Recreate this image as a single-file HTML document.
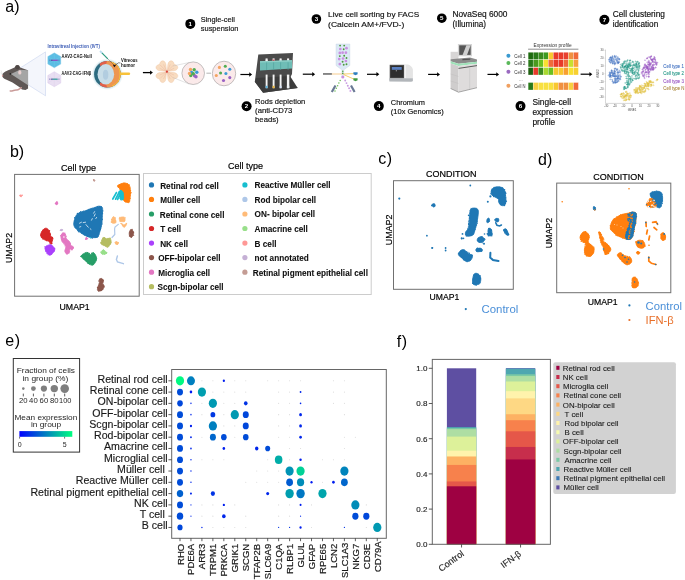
<!DOCTYPE html>
<html><head><meta charset="utf-8"><title>Figure</title>
<style>
html,body{margin:0;padding:0;background:#fff;width:685px;height:580px;overflow:hidden;}
svg{display:block;font-family:"Liberation Sans",sans-serif;will-change:transform;}
</style></head>
<body>
<svg width="685" height="580" viewBox="0 0 685 580">
<rect x="0" y="0" width="685" height="580" fill="#fff"/>
<text x="5.3" y="11.6" font-size="16" fill="#000" text-anchor="start" font-weight="normal" >a)</text>
<circle cx="190.3" cy="23.9" r="5.0" fill="#000"/>
<text x="190.3" y="26.10" font-size="6.2" font-weight="bold" fill="#fff" text-anchor="middle">1</text>
<text x="200.8" y="21.6" font-size="7.6" fill="#111" text-anchor="start" font-weight="normal" textLength="34.1" lengthAdjust="spacingAndGlyphs" stroke="#111" stroke-width="0.16" >Single-cell</text>
<text x="200.8" y="30.9" font-size="7.6" fill="#111" text-anchor="start" font-weight="normal" textLength="37.6" lengthAdjust="spacingAndGlyphs" stroke="#111" stroke-width="0.16" >suspension</text>
<circle cx="246.6" cy="106.2" r="5.0" fill="#000"/>
<text x="246.6" y="108.40" font-size="6.2" font-weight="bold" fill="#fff" text-anchor="middle">2</text>
<text x="255.1" y="103.8" font-size="7.7" fill="#111" text-anchor="start" font-weight="normal" textLength="50.2" lengthAdjust="spacingAndGlyphs" stroke="#111" stroke-width="0.16" >Rods depletion</text>
<text x="255.1" y="113.2" font-size="7.7" fill="#111" text-anchor="start" font-weight="normal" stroke="#111" stroke-width="0.16" >(anti-CD73</text>
<text x="255.1" y="122.4" font-size="7.7" fill="#111" text-anchor="start" font-weight="normal" stroke="#111" stroke-width="0.16" >beads)</text>
<circle cx="316.4" cy="19.0" r="4.8" fill="#000"/>
<text x="316.4" y="21.20" font-size="6.2" font-weight="bold" fill="#fff" text-anchor="middle">3</text>
<text x="328.1" y="16.8" font-size="8.1" fill="#111" text-anchor="start" font-weight="normal" textLength="91.1" lengthAdjust="spacingAndGlyphs" stroke="#111" stroke-width="0.16" >Live cell sorting by FACS</text>
<text x="328.1" y="27.0" font-size="8.1" fill="#111" text-anchor="start" font-weight="normal" textLength="76.2" lengthAdjust="spacingAndGlyphs" stroke="#111" stroke-width="0.16" >(Calcein AM+/FVD-)</text>
<circle cx="378.8" cy="106.1" r="5.0" fill="#000"/>
<text x="378.8" y="108.30" font-size="6.2" font-weight="bold" fill="#fff" text-anchor="middle">4</text>
<text x="390.8" y="105.0" font-size="7.9" fill="#111" text-anchor="start" font-weight="normal" textLength="34.1" lengthAdjust="spacingAndGlyphs" stroke="#111" stroke-width="0.16" >Chromium</text>
<text x="390.8" y="113.9" font-size="7.9" fill="#111" text-anchor="start" font-weight="normal" textLength="53.0" lengthAdjust="spacingAndGlyphs" stroke="#111" stroke-width="0.16" >(10x Genomics)</text>
<circle cx="441.8" cy="18.2" r="4.8" fill="#000"/>
<text x="441.8" y="20.40" font-size="6.2" font-weight="bold" fill="#fff" text-anchor="middle">5</text>
<text x="452.4" y="16.8" font-size="8.2" fill="#111" text-anchor="start" font-weight="normal" textLength="55.1" lengthAdjust="spacingAndGlyphs" stroke="#111" stroke-width="0.16" >NovaSeq 6000</text>
<text x="452.4" y="27.0" font-size="8.2" fill="#111" text-anchor="start" font-weight="normal" stroke="#111" stroke-width="0.16" >(Illumina)</text>
<circle cx="520.5" cy="106.1" r="5.0" fill="#000"/>
<text x="520.5" y="108.30" font-size="6.2" font-weight="bold" fill="#fff" text-anchor="middle">6</text>
<text x="532.4" y="105.2" font-size="8.4" fill="#111" text-anchor="start" font-weight="normal" textLength="38.6" lengthAdjust="spacingAndGlyphs" stroke="#111" stroke-width="0.16" >Single-cell</text>
<text x="532.4" y="115.1" font-size="8.4" fill="#111" text-anchor="start" font-weight="normal" stroke="#111" stroke-width="0.16" >expression</text>
<text x="532.4" y="125.0" font-size="8.4" fill="#111" text-anchor="start" font-weight="normal" stroke="#111" stroke-width="0.16" >profile</text>
<circle cx="604.4" cy="19.7" r="5.0" fill="#000"/>
<text x="604.4" y="21.90" font-size="6.2" font-weight="bold" fill="#fff" text-anchor="middle">7</text>
<text x="612.7" y="16.8" font-size="8.2" fill="#111" text-anchor="start" font-weight="normal" textLength="52.3" lengthAdjust="spacingAndGlyphs" stroke="#111" stroke-width="0.16" >Cell clustering</text>
<text x="612.7" y="27.0" font-size="8.2" fill="#111" text-anchor="start" font-weight="normal" stroke="#111" stroke-width="0.16" >identification</text>
<line x1="142.9" y1="72.6" x2="150.70000000000002" y2="72.6" stroke="#000" stroke-width="1.3"/>
<path d="M152.9,72.6 L150.04,70.40 L150.04,74.80Z" fill="#000"/>
<line x1="240.4" y1="74.5" x2="249.9" y2="74.5" stroke="#000" stroke-width="1.2"/>
<path d="M252.1,74.5 L249.24,72.30 L249.24,76.70Z" fill="#000"/>
<line x1="302.8" y1="74.2" x2="312.90000000000003" y2="74.2" stroke="#000" stroke-width="1.2"/>
<path d="M315.1,74.2 L312.24,72.00 L312.24,76.40Z" fill="#000"/>
<line x1="367.0" y1="74.3" x2="377.1" y2="74.3" stroke="#000" stroke-width="1.2"/>
<path d="M379.3,74.3 L376.44,72.10 L376.44,76.50Z" fill="#000"/>
<line x1="428.1" y1="74.4" x2="437.8" y2="74.4" stroke="#000" stroke-width="1.2"/>
<path d="M440.0,74.4 L437.14,72.20 L437.14,76.60Z" fill="#000"/>
<line x1="487.5" y1="74.4" x2="496.90000000000003" y2="74.4" stroke="#000" stroke-width="1.2"/>
<path d="M499.1,74.4 L496.24,72.20 L496.24,76.60Z" fill="#000"/>
<line x1="580.6" y1="74.2" x2="590.0999999999999" y2="74.2" stroke="#000" stroke-width="1.2"/>
<path d="M592.3,74.2 L589.44,72.00 L589.44,76.40Z" fill="#000"/>
<path d="M10.9,73.9 L45.5,51.9 L45.5,95.8 Z" fill="#f4f6fc" stroke="#c8d4ee" stroke-width="0.6"/>
<path d="M2.2,75.6 C2.2,73 5.5,71.2 9.5,69.8 L14.5,67.6 L16,65.6 L19,65.4 L20.2,67.6 L27.9,70.2 L28.1,88.6 L25.5,90 L22,89.6 L19.6,87.2 L12.5,82.6 L6,79.6 C3.5,78.6 2.2,77.4 2.2,75.6 Z" fill="#5f5755"/>
<circle cx="17.4" cy="67.2" r="2.1" fill="#4e4745"/>
<path d="M10.9,73.9 L19.9,69.7 L28.1,70.3 L28.1,85.3 Z" fill="#a5a5a5"/>
<ellipse cx="19.8" cy="72.4" rx="1.6" ry="2.2" fill="#e8cfcf"/>
<circle cx="10.3" cy="73.9" r="0.8" fill="#222"/>
<path d="M10.2,91 C12.5,91.4 14.5,89.6 16.5,90 C18.5,90.3 19.5,88.5 21.3,87.8" fill="none" stroke="#c99a98" stroke-width="1.5" stroke-linecap="round"/>
<path d="M2.6,75.2 L1.0,70.3 M2.6,75.2 L0.4,72.5" stroke="#ccc" stroke-width="0.4"/>
<circle cx="2.5" cy="75.8" r="0.7" fill="#d99"/>
<text x="47.6" y="47.8" font-size="4.6" fill="#3b5bb5" text-anchor="start" font-weight="bold" textLength="52.3" lengthAdjust="spacingAndGlyphs" >Intravitreal Injection (IVT)</text>
<polygon points="54.30,52.80 60.80,56.55 60.80,64.05 54.30,67.80 47.80,64.05 47.80,56.55" fill="#5bbde3" stroke="#8fd0ec" stroke-width="0.4"/>
<line x1="54.3" y1="60.3" x2="54.30" y2="53.00" stroke="#86cfea" stroke-width="0.25"/>
<line x1="54.3" y1="60.3" x2="60.62" y2="56.65" stroke="#86cfea" stroke-width="0.25"/>
<line x1="54.3" y1="60.3" x2="60.62" y2="63.95" stroke="#86cfea" stroke-width="0.25"/>
<line x1="54.3" y1="60.3" x2="54.30" y2="67.60" stroke="#86cfea" stroke-width="0.25"/>
<line x1="54.3" y1="60.3" x2="47.98" y2="63.95" stroke="#86cfea" stroke-width="0.25"/>
<line x1="54.3" y1="60.3" x2="47.98" y2="56.65" stroke="#86cfea" stroke-width="0.25"/>
<line x1="49.60" y1="60.3" x2="59.10" y2="60.3" stroke="#6a6ab0" stroke-width="0.4"/>
<path d="M49.60,59.50 L49.60,61.10 M59.10,59.50 L59.10,61.10" stroke="#6a6ab0" stroke-width="0.45"/>
<rect x="52.4" y="59.7" width="5.2" height="1.2" fill="#8a4ec8" />
<rect x="51.3" y="59.7" width="1.1" height="1.2" fill="#4a3a90" />
<polygon points="54.30,71.70 60.80,75.45 60.80,82.95 54.30,86.70 47.80,82.95 47.80,75.45" fill="#e9dff2" stroke="#d8c8ea" stroke-width="0.4"/>
<line x1="54.3" y1="79.2" x2="54.30" y2="71.90" stroke="#d6c6e8" stroke-width="0.25"/>
<line x1="54.3" y1="79.2" x2="60.62" y2="75.55" stroke="#d6c6e8" stroke-width="0.25"/>
<line x1="54.3" y1="79.2" x2="60.62" y2="82.85" stroke="#d6c6e8" stroke-width="0.25"/>
<line x1="54.3" y1="79.2" x2="54.30" y2="86.50" stroke="#d6c6e8" stroke-width="0.25"/>
<line x1="54.3" y1="79.2" x2="47.98" y2="82.85" stroke="#d6c6e8" stroke-width="0.25"/>
<line x1="54.3" y1="79.2" x2="47.98" y2="75.55" stroke="#d6c6e8" stroke-width="0.25"/>
<line x1="49.60" y1="79.2" x2="59.10" y2="79.2" stroke="#6a6ab0" stroke-width="0.4"/>
<path d="M49.60,78.40 L49.60,80.00 M59.10,78.40 L59.10,80.00" stroke="#6a6ab0" stroke-width="0.45"/>
<rect x="52.4" y="78.6" width="5.2" height="1.2" fill="#3aa6a0" />
<rect x="51.3" y="78.6" width="1.1" height="1.2" fill="#4a3a90" />
<text x="61.6" y="58.1" font-size="4.5" fill="#111" text-anchor="start" font-weight="bold" textLength="30.2" lengthAdjust="spacingAndGlyphs" >AAV2-CAG-Null</text>
<text x="61.6" y="75.1" font-size="4.5" fill="#111" text-anchor="start" font-weight="bold" textLength="29.5" lengthAdjust="spacingAndGlyphs" >AAV2-CAG-IFN&#946;</text>
<text x="121.0" y="62.0" font-size="4.5" fill="#111" text-anchor="start" font-weight="bold" textLength="16.5" lengthAdjust="spacingAndGlyphs" >Vitreous</text>
<text x="121.0" y="66.8" font-size="4.5" fill="#111" text-anchor="start" font-weight="bold" textLength="14.0" lengthAdjust="spacingAndGlyphs" >humor</text>
<defs><clipPath id="eyec"><circle cx="107.4" cy="74.2" r="13.3"/></clipPath></defs>
<circle cx="107.4" cy="74.2" r="15.2" fill="#eef6f8"/>
<circle cx="107.4" cy="74.2" r="14.2" fill="#d6e8ee"/>
<g clip-path="url(#eyec)">
<rect x="93" y="60" width="30" height="30" fill="#2d6b80"/>
<ellipse cx="111.2" cy="74.2" rx="11.0" ry="14.5" fill="#ee9650"/>
<path d="M99,58 L108,58 L106,64.5 L100,66 Z" fill="#e2604a"/>
<path d="M99,90.5 L108,90.5 L106,84 L100,82.5 Z" fill="#e2604a"/>
<ellipse cx="105.8" cy="74.3" rx="8.3" ry="10.3" fill="#c8dde8"/>
<ellipse cx="105.6" cy="74.8" rx="2.7" ry="5.0" fill="#b2cde0"/>
</g>
<path d="M111.8,62.2 A12.8,12.8 0 0 1 111.8,86.2" fill="none" stroke="#f7c23a" stroke-width="1.0"/>
<path d="M119.8,72.6 L129.5,72.4 Q131,73.7 129.5,75 L119.8,75 Z" fill="#f8c23a"/>
<line x1="101.4" y1="52.4" x2="107.8" y2="58.8" stroke="#2a9a80" stroke-width="1.2"/>
<line x1="100.0" y1="51.0" x2="102.2" y2="53.2" stroke="#b9dcef" stroke-width="1.8"/>
<line x1="107.8" y1="58.8" x2="113.6" y2="64.6" stroke="#333" stroke-width="0.35"/>
<path d="M114.5,65.5 L118.5,62.8 L120.5,63.0" fill="none" stroke="#111" stroke-width="0.5"/>
<path d="M112.8,64.5 L116,65.2 L114.2,67.2Z" fill="#111"/>
<path d="M0,-0.5 L-4.2,-5.5 C-6.6,-8.6 -5.4,-11.8 -2.2,-11.4 L0,-10.4 L2.2,-11.4 C5.4,-11.8 6.6,-8.6 4.2,-5.5 Z" fill="#f8dcc0" stroke="#eec4a0" stroke-width="0.4" transform="translate(166.9,71.7) rotate(45)"/>
<path d="M0,-0.5 L-4.2,-5.5 C-6.6,-8.6 -5.4,-11.8 -2.2,-11.4 L0,-10.4 L2.2,-11.4 C5.4,-11.8 6.6,-8.6 4.2,-5.5 Z" fill="#f8dcc0" stroke="#eec4a0" stroke-width="0.4" transform="translate(166.9,71.7) rotate(135)"/>
<path d="M0,-0.5 L-4.2,-5.5 C-6.6,-8.6 -5.4,-11.8 -2.2,-11.4 L0,-10.4 L2.2,-11.4 C5.4,-11.8 6.6,-8.6 4.2,-5.5 Z" fill="#f8dcc0" stroke="#eec4a0" stroke-width="0.4" transform="translate(166.9,71.7) rotate(225)"/>
<path d="M0,-0.5 L-4.2,-5.5 C-6.6,-8.6 -5.4,-11.8 -2.2,-11.4 L0,-10.4 L2.2,-11.4 C5.4,-11.8 6.6,-8.6 4.2,-5.5 Z" fill="#f8dcc0" stroke="#eec4a0" stroke-width="0.4" transform="translate(166.9,71.7) rotate(315)"/>
<line x1="166.9" y1="71.7" x2="170.28" y2="64.45" stroke="#e4a08c" stroke-width="0.3"/>
<line x1="166.9" y1="71.7" x2="173.62" y2="64.98" stroke="#e4a08c" stroke-width="0.3"/>
<line x1="166.9" y1="71.7" x2="174.15" y2="68.32" stroke="#e4a08c" stroke-width="0.3"/>
<line x1="166.9" y1="71.7" x2="174.15" y2="75.08" stroke="#e4a08c" stroke-width="0.3"/>
<line x1="166.9" y1="71.7" x2="173.62" y2="78.42" stroke="#e4a08c" stroke-width="0.3"/>
<line x1="166.9" y1="71.7" x2="170.28" y2="78.95" stroke="#e4a08c" stroke-width="0.3"/>
<line x1="166.9" y1="71.7" x2="163.52" y2="78.95" stroke="#e4a08c" stroke-width="0.3"/>
<line x1="166.9" y1="71.7" x2="160.18" y2="78.42" stroke="#e4a08c" stroke-width="0.3"/>
<line x1="166.9" y1="71.7" x2="159.65" y2="75.08" stroke="#e4a08c" stroke-width="0.3"/>
<line x1="166.9" y1="71.7" x2="159.65" y2="68.32" stroke="#e4a08c" stroke-width="0.3"/>
<line x1="166.9" y1="71.7" x2="160.18" y2="64.98" stroke="#e4a08c" stroke-width="0.3"/>
<line x1="166.9" y1="71.7" x2="163.52" y2="64.45" stroke="#e4a08c" stroke-width="0.3"/>
<circle cx="166.9" cy="71.7" r="1.1" fill="#d9433a"/>
<path d="M173,66 L189,62.5 M173,77.5 L189,84" stroke="#bbb" stroke-width="0.4"/>
<circle cx="193.2" cy="73.2" r="11.3" fill="#fbeaea" stroke="#8a8a8a" stroke-width="0.5"/>
<circle cx="190.50" cy="69.50" r="1.7" fill="#f4a460"/>
<circle cx="194.20" cy="69.80" r="1.7" fill="#52ad52"/>
<circle cx="196.80" cy="72.20" r="1.7" fill="#3a9ad6"/>
<circle cx="191.60" cy="72.40" r="1.7" fill="#3a9ad6"/>
<circle cx="190.80" cy="75.50" r="1.7" fill="#52ad52"/>
<circle cx="194.60" cy="75.80" r="1.7" fill="#9a62c4"/>
<circle cx="196.00" cy="76.80" r="1.7" fill="#9a62c4"/>
<circle cx="193.30" cy="73.80" r="1.7" fill="#52ad52"/>
<circle cx="189.50" cy="73.50" r="1.7" fill="#f4a460"/>
<line x1="206.4" y1="73.2" x2="211" y2="73.2" stroke="#666" stroke-width="0.5"/>
<ellipse cx="224" cy="73.5" rx="11.7" ry="12.3" fill="#fbeaea" stroke="#8a8a8a" stroke-width="0.5"/>
<circle cx="219.40" cy="67.40" r="1.55" fill="#f4a460"/>
<circle cx="225.30" cy="66.30" r="1.55" fill="#52ad52"/>
<circle cx="229.80" cy="69.20" r="1.55" fill="#3a9ad6"/>
<circle cx="220.60" cy="73.00" r="1.55" fill="#52ad52"/>
<circle cx="225.90" cy="73.50" r="1.55" fill="#3a9ad6"/>
<circle cx="216.30" cy="75.50" r="1.55" fill="#f4a460"/>
<circle cx="229.80" cy="77.60" r="1.55" fill="#9a62c4"/>
<circle cx="223.50" cy="80.50" r="1.55" fill="#9a62c4"/>
<path d="M258.3,54.6 L293,52.9 L292,74 L289,80 L297.7,87.9 L263.1,92.7 L254.8,81.8 Z" fill="#4b4b4b"/>
<path d="M256,78 L290,76 L297.7,87.9 L263.1,92.7 L254.8,81.8 Z" fill="#3c3c3c"/>
<rect x="265.6" y="58.4" width="2.0" height="4.0" fill="#f4f4f4" />
<rect x="265.6" y="59.6" width="2.0" height="2.2" fill="#f2f2f2" />
<rect x="272.6" y="58.4" width="2.0" height="4.0" fill="#f4f4f4" />
<rect x="272.6" y="59.6" width="2.0" height="2.2" fill="#d0303a" />
<rect x="279.6" y="58.4" width="2.0" height="4.0" fill="#f4f4f4" />
<rect x="279.6" y="59.6" width="2.0" height="2.2" fill="#f2f2f2" />
<rect x="287.1" y="58.4" width="2.0" height="4.0" fill="#f4f4f4" />
<rect x="287.1" y="59.6" width="2.0" height="2.2" fill="#f2f2f2" />
<path d="M260,61.2 L292,60.2 L292,68.6 L260,70.6 Z" fill="#6fbdb6"/>
<path d="M260,61.2 L292,60.2 L292,61.6 L260,62.6 Z" fill="#8fd0c8"/>
<line x1="266.6" y1="62.4" x2="266.6" y2="70" stroke="#4e9e98" stroke-width="0.6"/>
<line x1="273.6" y1="62.4" x2="273.6" y2="70" stroke="#4e9e98" stroke-width="0.6"/>
<line x1="280.6" y1="62.4" x2="280.6" y2="70" stroke="#4e9e98" stroke-width="0.6"/>
<line x1="288.1" y1="62.4" x2="288.1" y2="70" stroke="#4e9e98" stroke-width="0.6"/>
<rect x="265.65" y="74.6" width="1.9" height="13.6" fill="#f4f4f4" />
<rect x="265.65" y="85.8" width="1.9" height="2.4" fill="#5ab4e0" />
<rect x="272.65" y="74.6" width="1.9" height="13.6" fill="#f4f4f4" />
<rect x="272.65" y="85.8" width="1.9" height="2.4" fill="#f0b83a" />
<rect x="279.65" y="74.6" width="1.9" height="13.6" fill="#f4f4f4" />
<rect x="279.65" y="85.8" width="1.9" height="2.4" fill="#d8e4f8" />
<rect x="286.9" y="74.6" width="2.4" height="13.6" fill="#f4f4f4" />
<rect x="286.9" y="85.8" width="2.4" height="2.4" fill="#eef2f6" />
<path d="M336.1,44 L349.8,44 L349.8,65.5 L344.2,69.5 L341.4,69.5 L336.1,65.5 Z" fill="#dce9f6" stroke="#c0cfe0" stroke-width="0.4"/>
<rect x="341.4" y="69.5" width="2.8" height="8.5" fill="#e2ecf4" />
<circle cx="340.10" cy="45.60" r="0.95" fill="#4e9a3e"/>
<circle cx="344.20" cy="45.60" r="0.95" fill="#4e9a3e"/>
<circle cx="340.30" cy="49.00" r="1.35" fill="#c98fe0"/>
<circle cx="343.70" cy="49.20" r="0.95" fill="#4e9a3e"/>
<circle cx="346.50" cy="48.20" r="1.35" fill="#c98fe0"/>
<circle cx="339.80" cy="52.90" r="1.35" fill="#c98fe0"/>
<circle cx="342.60" cy="52.70" r="1.35" fill="#c98fe0"/>
<circle cx="345.90" cy="52.70" r="1.35" fill="#c98fe0"/>
<circle cx="339.80" cy="56.10" r="0.95" fill="#4e9a3e"/>
<circle cx="344.20" cy="55.70" r="0.95" fill="#4e9a3e"/>
<circle cx="339.20" cy="59.10" r="1.35" fill="#c98fe0"/>
<circle cx="343.10" cy="58.50" r="1.35" fill="#c98fe0"/>
<circle cx="346.50" cy="58.00" r="0.95" fill="#4e9a3e"/>
<circle cx="342.60" cy="61.70" r="0.95" fill="#4e9a3e"/>
<circle cx="345.90" cy="61.00" r="1.35" fill="#c98fe0"/>
<circle cx="339.80" cy="64.10" r="1.35" fill="#c98fe0"/>
<circle cx="343.70" cy="64.70" r="0.95" fill="#4e9a3e"/>
<circle cx="346.50" cy="64.30" r="0.95" fill="#4e9a3e"/>
<circle cx="342.80" cy="71.20" r="0.8" fill="#4e9a3e"/>
<circle cx="342.80" cy="73.40" r="0.8" fill="#4e9a3e"/>
<rect x="323" y="73.1" width="8.9" height="1.7" fill="#777" />
<line x1="331.9" y1="74" x2="342" y2="74" stroke="#f4b860" stroke-width="0.7"/>
<path d="M343.5,74 L355,73.6 M343.5,74.5 L355,79.6" stroke="#f2b830" stroke-width="0.7"/>
<path d="M353.4,72.3 L357.6,72.3 L357.6,74.3 L355.5,75.3 L353.4,74.3Z" fill="#2f7fbf"/>
<path d="M353.4,78.3 L357.6,78.3 L357.6,80.3 L355.5,81.3 L353.4,80.3Z" fill="#3f9a3f"/>
<circle cx="342.80" cy="76.90" r="1.5" fill="#c98fe0"/>
<circle cx="340.20" cy="80.50" r="0.75" fill="#6bbf55"/>
<circle cx="345.20" cy="80.50" r="0.95" fill="#c79ae0"/>
<circle cx="338.90" cy="83.10" r="0.75" fill="#6bbf55"/>
<circle cx="346.50" cy="83.10" r="0.95" fill="#c79ae0"/>
<circle cx="337.60" cy="85.70" r="0.75" fill="#6bbf55"/>
<circle cx="347.80" cy="85.70" r="0.95" fill="#c79ae0"/>
<circle cx="336.30" cy="88.30" r="0.75" fill="#6bbf55"/>
<circle cx="349.10" cy="88.30" r="0.95" fill="#c79ae0"/>
<circle cx="335.00" cy="90.90" r="0.75" fill="#6bbf55"/>
<circle cx="350.40" cy="90.90" r="0.95" fill="#c79ae0"/>
<line x1="335.5" y1="85.5" x2="331.8" y2="92" stroke="#6a7a95" stroke-width="2.2"/>
<line x1="351" y1="85.5" x2="354.6" y2="92" stroke="#6a7a95" stroke-width="2.2"/>
<path d="M404.1,64.4 L408,64.6 Q412,66 412.9,69.5 L412.9,78.5 L404.1,78.5 Z" fill="#e4e4e4"/>
<path d="M404.1,64.4 L406,64.5 L406,78.5 L404.1,78.5 Z" fill="#f2f2f2"/>
<path d="M389,78.2 L412.9,78.2 L412.9,81.0 Q412.5,81.8 411,81.8 L389.4,81.6 Z" fill="#b2b6ba"/>
<rect x="389.7" y="64.8" width="14.4" height="13.4" fill="#4c4c4c" />
<rect x="390.6" y="66.0" width="12.6" height="11.4" fill="#2e2e2e" />
<rect x="391.8" y="67.0" width="9.9" height="2.8" fill="#5a7fc0"/>
<circle cx="396.3" cy="70.8" r="0.55" fill="#ddd"/>
<rect x="450.6" y="51.8" width="7.9" height="7.8" fill="#d8d6d6"/>
<rect x="457.9" y="44.0" width="14.1" height="12.3" fill="#d6d6d6"/>
<rect x="459.2" y="45.3" width="11.5" height="9.6" fill="#565656"/>
<path d="M462.6,54.9 L467.0,54.9 L470.7,45.3 L466.4,45.3 Z" fill="#cfcfcf"/>
<path d="M450.6,59.3 L470,57.6 L477,59.4 L477,61.8 L458.5,63.8 L450.6,61.3 Z" fill="#8c8c8c"/>
<path d="M462.4,59.0 L470.3,58.6 L470.3,59.8 L462.4,60.2 Z" fill="#555"/>
<path d="M450.6,61.3 L458.5,63.8 L477,61.8 L477,63.8 L458.5,66.0 L450.6,63.5 Z" fill="#9fe2b9"/>
<path d="M450.6,63.5 L458.5,66.0 L458.5,92.2 L450.6,88.5 Z" fill="#cfcdcd"/>
<path d="M458.5,66.0 L477,63.8 L477,87.7 L458.5,92.2 Z" fill="#dedcdc"/>
<line x1="458.5" y1="68.4" x2="477" y2="65.6" stroke="#3a3a3a" stroke-width="0.8"/>
<line x1="469.7" y1="67.2" x2="469.7" y2="89.4" stroke="#c2c0c0" stroke-width="0.5"/>
<path d="M450.6,74 L458.5,76.5 M450.6,81 L458.5,83.5" stroke="#bdbbbb" stroke-width="0.4"/>
<path d="M450.6,88.5 L458.5,92.2 L477,87.7" fill="none" stroke="#777" stroke-width="0.6"/>
<text x="552.6" y="46.8" font-size="4.6" fill="#333" text-anchor="middle" font-weight="normal" textLength="38.1" lengthAdjust="spacingAndGlyphs" >Expression profile</text>
<line x1="528.1" y1="49.2" x2="578.4" y2="49.2" stroke="#444" stroke-width="0.6"/>
<rect x="528.1" y="52.2" width="5.03" height="7.4" fill="#1e6b10" stroke="#fff" stroke-width="0.3"/>
<rect x="533.13" y="52.2" width="5.03" height="7.4" fill="#2a7a1a" stroke="#fff" stroke-width="0.3"/>
<rect x="538.16" y="52.2" width="5.03" height="7.4" fill="#3a8a20" stroke="#fff" stroke-width="0.3"/>
<rect x="543.19" y="52.2" width="5.03" height="7.4" fill="#3d9a22" stroke="#fff" stroke-width="0.3"/>
<rect x="548.22" y="52.2" width="5.03" height="7.4" fill="#f8c830" stroke="#fff" stroke-width="0.3"/>
<rect x="553.25" y="52.2" width="5.03" height="7.4" fill="#e83a2a" stroke="#fff" stroke-width="0.3"/>
<rect x="558.28" y="52.2" width="5.03" height="7.4" fill="#e83a2a" stroke="#fff" stroke-width="0.3"/>
<rect x="563.31" y="52.2" width="5.03" height="7.4" fill="#e84030" stroke="#fff" stroke-width="0.3"/>
<rect x="568.34" y="52.2" width="5.03" height="7.4" fill="#f09040" stroke="#fff" stroke-width="0.3"/>
<rect x="573.37" y="52.2" width="5.03" height="7.4" fill="#f06a3a" stroke="#fff" stroke-width="0.3"/>
<rect x="528.1" y="59.6" width="5.03" height="7.4" fill="#2a7a1a" stroke="#fff" stroke-width="0.3"/>
<rect x="533.13" y="59.6" width="5.03" height="7.4" fill="#4a9a20" stroke="#fff" stroke-width="0.3"/>
<rect x="538.16" y="59.6" width="5.03" height="7.4" fill="#6ac020" stroke="#fff" stroke-width="0.3"/>
<rect x="543.19" y="59.6" width="5.03" height="7.4" fill="#f8e030" stroke="#fff" stroke-width="0.3"/>
<rect x="548.22" y="59.6" width="5.03" height="7.4" fill="#f06a3a" stroke="#fff" stroke-width="0.3"/>
<rect x="553.25" y="59.6" width="5.03" height="7.4" fill="#e83a2a" stroke="#fff" stroke-width="0.3"/>
<rect x="558.28" y="59.6" width="5.03" height="7.4" fill="#e83a2a" stroke="#fff" stroke-width="0.3"/>
<rect x="563.31" y="59.6" width="5.03" height="7.4" fill="#f06a3a" stroke="#fff" stroke-width="0.3"/>
<rect x="568.34" y="59.6" width="5.03" height="7.4" fill="#c8e030" stroke="#fff" stroke-width="0.3"/>
<rect x="573.37" y="59.6" width="5.03" height="7.4" fill="#f8a040" stroke="#fff" stroke-width="0.3"/>
<rect x="528.1" y="67.5" width="5.03" height="7.5" fill="#1e6010" stroke="#fff" stroke-width="0.3"/>
<rect x="533.13" y="67.5" width="5.03" height="7.5" fill="#e83a2a" stroke="#fff" stroke-width="0.3"/>
<rect x="538.16" y="67.5" width="5.03" height="7.5" fill="#3a8a20" stroke="#fff" stroke-width="0.3"/>
<rect x="543.19" y="67.5" width="5.03" height="7.5" fill="#a8d830" stroke="#fff" stroke-width="0.3"/>
<rect x="548.22" y="67.5" width="5.03" height="7.5" fill="#6ac020" stroke="#fff" stroke-width="0.3"/>
<rect x="553.25" y="67.5" width="5.03" height="7.5" fill="#f8c830" stroke="#fff" stroke-width="0.3"/>
<rect x="558.28" y="67.5" width="5.03" height="7.5" fill="#f8c830" stroke="#fff" stroke-width="0.3"/>
<rect x="563.31" y="67.5" width="5.03" height="7.5" fill="#f8a030" stroke="#fff" stroke-width="0.3"/>
<rect x="568.34" y="67.5" width="5.03" height="7.5" fill="#f8e030" stroke="#fff" stroke-width="0.3"/>
<rect x="573.37" y="67.5" width="5.03" height="7.5" fill="#f8d030" stroke="#fff" stroke-width="0.3"/>
<rect x="528.1" y="82.5" width="5.03" height="7.5" fill="#2a7a1a" stroke="#fff" stroke-width="0.3"/>
<rect x="533.13" y="82.5" width="5.03" height="7.5" fill="#f8d040" stroke="#fff" stroke-width="0.3"/>
<rect x="538.16" y="82.5" width="5.03" height="7.5" fill="#f8e040" stroke="#fff" stroke-width="0.3"/>
<rect x="543.19" y="82.5" width="5.03" height="7.5" fill="#f8e040" stroke="#fff" stroke-width="0.3"/>
<rect x="548.22" y="82.5" width="5.03" height="7.5" fill="#f8e040" stroke="#fff" stroke-width="0.3"/>
<rect x="553.25" y="82.5" width="5.03" height="7.5" fill="#f8c830" stroke="#fff" stroke-width="0.3"/>
<rect x="558.28" y="82.5" width="5.03" height="7.5" fill="#f09040" stroke="#fff" stroke-width="0.3"/>
<rect x="563.31" y="82.5" width="5.03" height="7.5" fill="#f09040" stroke="#fff" stroke-width="0.3"/>
<rect x="568.34" y="82.5" width="5.03" height="7.5" fill="#f8d040" stroke="#fff" stroke-width="0.3"/>
<rect x="573.37" y="82.5" width="5.03" height="7.5" fill="#f06a3a" stroke="#fff" stroke-width="0.3"/>
<circle cx="508.40" cy="55.80" r="2.0" fill="#3a9ad0"/>
<text x="514.2" y="57.6" font-size="4.8" fill="#333" text-anchor="start" font-weight="normal" textLength="11.3" lengthAdjust="spacingAndGlyphs" >Cell 1</text>
<circle cx="508.40" cy="63.00" r="2.0" fill="#5ab85a"/>
<text x="514.2" y="64.8" font-size="4.8" fill="#333" text-anchor="start" font-weight="normal" textLength="11.3" lengthAdjust="spacingAndGlyphs" >Cell 2</text>
<circle cx="508.40" cy="71.80" r="2.0" fill="#9a6ac0"/>
<text x="514.2" y="73.6" font-size="4.8" fill="#333" text-anchor="start" font-weight="normal" textLength="11.3" lengthAdjust="spacingAndGlyphs" >Cell 3</text>
<circle cx="508.40" cy="85.80" r="2.0" fill="#f0a060"/>
<text x="514.2" y="87.6" font-size="4.8" fill="#333" text-anchor="start" font-weight="normal" textLength="11.3" lengthAdjust="spacingAndGlyphs" >Cell N</text>
<text x="519" y="80.5" font-size="4.5" fill="#666" text-anchor="start" font-weight="normal" >...</text>
<line x1="605.5" y1="49.6" x2="605.5" y2="103.4" stroke="#b0b0b0" stroke-width="0.5"/>
<line x1="605.5" y1="103.4" x2="659.3" y2="103.4" stroke="#b0b0b0" stroke-width="0.5"/>
<line x1="604.3" y1="50.4" x2="605.5" y2="50.4" stroke="#b0b0b0" stroke-width="0.3"/>
<text x="603.6" y="51.4" font-size="2.8" fill="#555" text-anchor="end">30</text>
<line x1="604.3" y1="58.2" x2="605.5" y2="58.2" stroke="#b0b0b0" stroke-width="0.3"/>
<text x="603.6" y="59.2" font-size="2.8" fill="#555" text-anchor="end">20</text>
<line x1="604.3" y1="65.9" x2="605.5" y2="65.9" stroke="#b0b0b0" stroke-width="0.3"/>
<text x="603.6" y="66.9" font-size="2.8" fill="#555" text-anchor="end">10</text>
<line x1="604.3" y1="73.7" x2="605.5" y2="73.7" stroke="#b0b0b0" stroke-width="0.3"/>
<text x="603.6" y="74.7" font-size="2.8" fill="#555" text-anchor="end">0</text>
<line x1="604.3" y1="81.5" x2="605.5" y2="81.5" stroke="#b0b0b0" stroke-width="0.3"/>
<text x="603.6" y="82.5" font-size="2.8" fill="#555" text-anchor="end">-10</text>
<line x1="604.3" y1="89.2" x2="605.5" y2="89.2" stroke="#b0b0b0" stroke-width="0.3"/>
<text x="603.6" y="90.2" font-size="2.8" fill="#555" text-anchor="end">-20</text>
<line x1="604.3" y1="97.0" x2="605.5" y2="97.0" stroke="#b0b0b0" stroke-width="0.3"/>
<text x="603.6" y="98.0" font-size="2.8" fill="#555" text-anchor="end">-30</text>
<line x1="606.3" y1="103.4" x2="606.3" y2="104.6" stroke="#b0b0b0" stroke-width="0.3"/>
<text x="606.3" y="107.0" font-size="2.8" fill="#555" text-anchor="middle">-30</text>
<line x1="614.9" y1="103.4" x2="614.9" y2="104.6" stroke="#b0b0b0" stroke-width="0.3"/>
<text x="614.9" y="107.0" font-size="2.8" fill="#555" text-anchor="middle">-20</text>
<line x1="623.4" y1="103.4" x2="623.4" y2="104.6" stroke="#b0b0b0" stroke-width="0.3"/>
<text x="623.4" y="107.0" font-size="2.8" fill="#555" text-anchor="middle">-10</text>
<line x1="632.0" y1="103.4" x2="632.0" y2="104.6" stroke="#b0b0b0" stroke-width="0.3"/>
<text x="632.0" y="107.0" font-size="2.8" fill="#555" text-anchor="middle">0</text>
<line x1="640.6" y1="103.4" x2="640.6" y2="104.6" stroke="#b0b0b0" stroke-width="0.3"/>
<text x="640.6" y="107.0" font-size="2.8" fill="#555" text-anchor="middle">10</text>
<line x1="649.1" y1="103.4" x2="649.1" y2="104.6" stroke="#b0b0b0" stroke-width="0.3"/>
<text x="649.1" y="107.0" font-size="2.8" fill="#555" text-anchor="middle">20</text>
<line x1="657.7" y1="103.4" x2="657.7" y2="104.6" stroke="#b0b0b0" stroke-width="0.3"/>
<text x="657.7" y="107.0" font-size="2.8" fill="#555" text-anchor="middle">30</text>
<text transform="translate(598.6,73.7) rotate(-90)" font-size="3" fill="#444" text-anchor="middle">tSNE2</text>
<text x="632" y="110.6" font-size="3" fill="#444" text-anchor="middle">tSNE1</text>
<circle cx="614.70" cy="56.20" r="0.48" fill="none" stroke="#4a78c4" stroke-width="0.42"/>
<circle cx="616.18" cy="59.49" r="0.48" fill="none" stroke="#4a78c4" stroke-width="0.42"/>
<circle cx="612.09" cy="60.91" r="0.48" fill="none" stroke="#4a78c4" stroke-width="0.42"/>
<circle cx="613.64" cy="58.34" r="0.48" fill="none" stroke="#4a78c4" stroke-width="0.42"/>
<circle cx="617.45" cy="61.94" r="0.48" fill="none" stroke="#4a78c4" stroke-width="0.42"/>
<circle cx="611.31" cy="60.81" r="0.48" fill="none" stroke="#4a78c4" stroke-width="0.42"/>
<circle cx="614.45" cy="63.53" r="0.48" fill="none" stroke="#4a78c4" stroke-width="0.42"/>
<circle cx="616.72" cy="58.23" r="0.48" fill="none" stroke="#4a78c4" stroke-width="0.42"/>
<circle cx="613.25" cy="62.46" r="0.48" fill="none" stroke="#4a78c4" stroke-width="0.42"/>
<circle cx="610.28" cy="60.04" r="0.48" fill="none" stroke="#4a78c4" stroke-width="0.42"/>
<circle cx="617.12" cy="60.80" r="0.48" fill="none" stroke="#4a78c4" stroke-width="0.42"/>
<circle cx="618.35" cy="58.46" r="0.48" fill="none" stroke="#4a78c4" stroke-width="0.42"/>
<circle cx="616.34" cy="60.99" r="0.48" fill="none" stroke="#4a78c4" stroke-width="0.42"/>
<circle cx="615.06" cy="59.75" r="0.48" fill="none" stroke="#4a78c4" stroke-width="0.42"/>
<circle cx="613.88" cy="61.62" r="0.48" fill="none" stroke="#4a78c4" stroke-width="0.42"/>
<circle cx="617.76" cy="58.20" r="0.48" fill="none" stroke="#4a78c4" stroke-width="0.42"/>
<circle cx="612.89" cy="61.66" r="0.48" fill="none" stroke="#4a78c4" stroke-width="0.42"/>
<circle cx="608.84" cy="59.80" r="0.48" fill="none" stroke="#4a78c4" stroke-width="0.42"/>
<circle cx="610.03" cy="57.87" r="0.48" fill="none" stroke="#4a78c4" stroke-width="0.42"/>
<circle cx="612.95" cy="63.49" r="0.48" fill="none" stroke="#4a78c4" stroke-width="0.42"/>
<circle cx="609.48" cy="59.69" r="0.48" fill="none" stroke="#4a78c4" stroke-width="0.42"/>
<circle cx="614.72" cy="63.60" r="0.48" fill="none" stroke="#4a78c4" stroke-width="0.42"/>
<circle cx="617.73" cy="63.42" r="0.48" fill="none" stroke="#4a78c4" stroke-width="0.42"/>
<circle cx="611.69" cy="59.38" r="0.48" fill="none" stroke="#4a78c4" stroke-width="0.42"/>
<circle cx="612.59" cy="63.61" r="0.48" fill="none" stroke="#4a78c4" stroke-width="0.42"/>
<circle cx="610.55" cy="57.73" r="0.48" fill="none" stroke="#4a78c4" stroke-width="0.42"/>
<circle cx="611.19" cy="60.01" r="0.48" fill="none" stroke="#4a78c4" stroke-width="0.42"/>
<circle cx="615.16" cy="58.00" r="0.48" fill="none" stroke="#4a78c4" stroke-width="0.42"/>
<circle cx="612.71" cy="60.74" r="0.48" fill="none" stroke="#4a78c4" stroke-width="0.42"/>
<circle cx="619.22" cy="61.86" r="0.48" fill="none" stroke="#4a78c4" stroke-width="0.42"/>
<circle cx="614.34" cy="61.20" r="0.48" fill="none" stroke="#4a78c4" stroke-width="0.42"/>
<circle cx="616.13" cy="56.12" r="0.48" fill="none" stroke="#4a78c4" stroke-width="0.42"/>
<circle cx="618.62" cy="62.67" r="0.48" fill="none" stroke="#4a78c4" stroke-width="0.42"/>
<circle cx="618.34" cy="62.83" r="0.48" fill="none" stroke="#4a78c4" stroke-width="0.42"/>
<circle cx="612.96" cy="59.23" r="0.48" fill="none" stroke="#4a78c4" stroke-width="0.42"/>
<circle cx="609.74" cy="61.35" r="0.48" fill="none" stroke="#4a78c4" stroke-width="0.42"/>
<circle cx="610.91" cy="57.10" r="0.48" fill="none" stroke="#4a78c4" stroke-width="0.42"/>
<circle cx="612.38" cy="56.11" r="0.48" fill="none" stroke="#4a78c4" stroke-width="0.42"/>
<circle cx="609.72" cy="58.91" r="0.48" fill="none" stroke="#4a78c4" stroke-width="0.42"/>
<circle cx="615.44" cy="56.97" r="0.48" fill="none" stroke="#4a78c4" stroke-width="0.42"/>
<circle cx="611.40" cy="58.77" r="0.48" fill="none" stroke="#4a78c4" stroke-width="0.42"/>
<circle cx="612.65" cy="56.74" r="0.48" fill="none" stroke="#4a78c4" stroke-width="0.42"/>
<circle cx="613.78" cy="60.00" r="0.48" fill="none" stroke="#4a78c4" stroke-width="0.42"/>
<circle cx="612.41" cy="58.02" r="0.48" fill="none" stroke="#4a78c4" stroke-width="0.42"/>
<circle cx="617.83" cy="57.09" r="0.48" fill="none" stroke="#4a78c4" stroke-width="0.42"/>
<circle cx="614.48" cy="56.96" r="0.48" fill="none" stroke="#4a78c4" stroke-width="0.42"/>
<circle cx="614.65" cy="55.88" r="0.48" fill="none" stroke="#4a78c4" stroke-width="0.42"/>
<circle cx="614.48" cy="64.46" r="0.48" fill="none" stroke="#4a78c4" stroke-width="0.42"/>
<circle cx="618.22" cy="61.91" r="0.48" fill="none" stroke="#4a78c4" stroke-width="0.42"/>
<circle cx="611.50" cy="58.94" r="0.48" fill="none" stroke="#4a78c4" stroke-width="0.42"/>
<circle cx="610.45" cy="62.59" r="0.48" fill="none" stroke="#4a78c4" stroke-width="0.42"/>
<circle cx="614.53" cy="62.66" r="0.48" fill="none" stroke="#4a78c4" stroke-width="0.42"/>
<circle cx="612.26" cy="57.65" r="0.48" fill="none" stroke="#4a78c4" stroke-width="0.42"/>
<circle cx="618.10" cy="62.90" r="0.48" fill="none" stroke="#4a78c4" stroke-width="0.42"/>
<circle cx="617.72" cy="62.31" r="0.48" fill="none" stroke="#4a78c4" stroke-width="0.42"/>
<circle cx="611.12" cy="60.30" r="0.48" fill="none" stroke="#4a78c4" stroke-width="0.42"/>
<circle cx="611.48" cy="61.88" r="0.48" fill="none" stroke="#4a78c4" stroke-width="0.42"/>
<circle cx="619.26" cy="59.67" r="0.48" fill="none" stroke="#4a78c4" stroke-width="0.42"/>
<circle cx="619.24" cy="58.92" r="0.48" fill="none" stroke="#4a78c4" stroke-width="0.42"/>
<circle cx="611.05" cy="57.68" r="0.48" fill="none" stroke="#4a78c4" stroke-width="0.42"/>
<circle cx="610.78" cy="57.48" r="0.48" fill="none" stroke="#4a78c4" stroke-width="0.42"/>
<circle cx="615.55" cy="63.75" r="0.48" fill="none" stroke="#4a78c4" stroke-width="0.42"/>
<circle cx="617.96" cy="59.96" r="0.48" fill="none" stroke="#4a78c4" stroke-width="0.42"/>
<circle cx="615.87" cy="62.84" r="0.48" fill="none" stroke="#4a78c4" stroke-width="0.42"/>
<circle cx="609.53" cy="61.59" r="0.48" fill="none" stroke="#4a78c4" stroke-width="0.42"/>
<circle cx="618.74" cy="62.69" r="0.48" fill="none" stroke="#4a78c4" stroke-width="0.42"/>
<circle cx="616.95" cy="59.95" r="0.48" fill="none" stroke="#4a78c4" stroke-width="0.42"/>
<circle cx="610.58" cy="62.75" r="0.48" fill="none" stroke="#4a78c4" stroke-width="0.42"/>
<circle cx="612.30" cy="62.86" r="0.48" fill="none" stroke="#4a78c4" stroke-width="0.42"/>
<circle cx="619.43" cy="59.20" r="0.48" fill="none" stroke="#4a78c4" stroke-width="0.42"/>
<circle cx="612.88" cy="75.38" r="0.48" fill="none" stroke="#4a78c4" stroke-width="0.42"/>
<circle cx="615.91" cy="82.23" r="0.48" fill="none" stroke="#4a78c4" stroke-width="0.42"/>
<circle cx="613.76" cy="82.43" r="0.48" fill="none" stroke="#4a78c4" stroke-width="0.42"/>
<circle cx="614.83" cy="76.51" r="0.48" fill="none" stroke="#4a78c4" stroke-width="0.42"/>
<circle cx="615.12" cy="68.64" r="0.48" fill="none" stroke="#4a78c4" stroke-width="0.42"/>
<circle cx="614.02" cy="71.16" r="0.48" fill="none" stroke="#4a78c4" stroke-width="0.42"/>
<circle cx="610.49" cy="75.62" r="0.48" fill="none" stroke="#4a78c4" stroke-width="0.42"/>
<circle cx="617.78" cy="76.89" r="0.48" fill="none" stroke="#4a78c4" stroke-width="0.42"/>
<circle cx="612.51" cy="76.31" r="0.48" fill="none" stroke="#4a78c4" stroke-width="0.42"/>
<circle cx="615.54" cy="80.39" r="0.48" fill="none" stroke="#4a78c4" stroke-width="0.42"/>
<circle cx="609.62" cy="76.95" r="0.48" fill="none" stroke="#4a78c4" stroke-width="0.42"/>
<circle cx="611.49" cy="72.60" r="0.48" fill="none" stroke="#4a78c4" stroke-width="0.42"/>
<circle cx="618.40" cy="76.14" r="0.48" fill="none" stroke="#4a78c4" stroke-width="0.42"/>
<circle cx="615.62" cy="80.01" r="0.48" fill="none" stroke="#4a78c4" stroke-width="0.42"/>
<circle cx="620.25" cy="75.15" r="0.48" fill="none" stroke="#4a78c4" stroke-width="0.42"/>
<circle cx="616.29" cy="76.11" r="0.48" fill="none" stroke="#4a78c4" stroke-width="0.42"/>
<circle cx="614.97" cy="78.98" r="0.48" fill="none" stroke="#4a78c4" stroke-width="0.42"/>
<circle cx="614.18" cy="76.54" r="0.48" fill="none" stroke="#4a78c4" stroke-width="0.42"/>
<circle cx="614.52" cy="82.80" r="0.48" fill="none" stroke="#4a78c4" stroke-width="0.42"/>
<circle cx="617.43" cy="81.80" r="0.48" fill="none" stroke="#4a78c4" stroke-width="0.42"/>
<circle cx="615.59" cy="82.83" r="0.48" fill="none" stroke="#4a78c4" stroke-width="0.42"/>
<circle cx="619.29" cy="70.46" r="0.48" fill="none" stroke="#4a78c4" stroke-width="0.42"/>
<circle cx="609.82" cy="75.14" r="0.48" fill="none" stroke="#4a78c4" stroke-width="0.42"/>
<circle cx="610.25" cy="79.34" r="0.48" fill="none" stroke="#4a78c4" stroke-width="0.42"/>
<circle cx="616.92" cy="70.55" r="0.48" fill="none" stroke="#4a78c4" stroke-width="0.42"/>
<circle cx="613.47" cy="75.83" r="0.48" fill="none" stroke="#4a78c4" stroke-width="0.42"/>
<circle cx="610.35" cy="74.97" r="0.48" fill="none" stroke="#4a78c4" stroke-width="0.42"/>
<circle cx="615.01" cy="73.56" r="0.48" fill="none" stroke="#4a78c4" stroke-width="0.42"/>
<circle cx="610.80" cy="73.24" r="0.48" fill="none" stroke="#4a78c4" stroke-width="0.42"/>
<circle cx="615.52" cy="75.11" r="0.48" fill="none" stroke="#4a78c4" stroke-width="0.42"/>
<circle cx="616.44" cy="76.21" r="0.48" fill="none" stroke="#4a78c4" stroke-width="0.42"/>
<circle cx="609.60" cy="72.43" r="0.48" fill="none" stroke="#4a78c4" stroke-width="0.42"/>
<circle cx="611.78" cy="70.34" r="0.48" fill="none" stroke="#4a78c4" stroke-width="0.42"/>
<circle cx="613.78" cy="82.34" r="0.48" fill="none" stroke="#4a78c4" stroke-width="0.42"/>
<circle cx="619.01" cy="72.32" r="0.48" fill="none" stroke="#4a78c4" stroke-width="0.42"/>
<circle cx="615.74" cy="79.10" r="0.48" fill="none" stroke="#4a78c4" stroke-width="0.42"/>
<circle cx="617.29" cy="74.88" r="0.48" fill="none" stroke="#4a78c4" stroke-width="0.42"/>
<circle cx="616.58" cy="80.65" r="0.48" fill="none" stroke="#4a78c4" stroke-width="0.42"/>
<circle cx="614.20" cy="73.56" r="0.48" fill="none" stroke="#4a78c4" stroke-width="0.42"/>
<circle cx="615.51" cy="82.57" r="0.48" fill="none" stroke="#4a78c4" stroke-width="0.42"/>
<circle cx="611.75" cy="70.33" r="0.48" fill="none" stroke="#4a78c4" stroke-width="0.42"/>
<circle cx="615.16" cy="72.01" r="0.48" fill="none" stroke="#4a78c4" stroke-width="0.42"/>
<circle cx="612.33" cy="73.03" r="0.48" fill="none" stroke="#4a78c4" stroke-width="0.42"/>
<circle cx="618.23" cy="72.80" r="0.48" fill="none" stroke="#4a78c4" stroke-width="0.42"/>
<circle cx="614.81" cy="71.08" r="0.48" fill="none" stroke="#4a78c4" stroke-width="0.42"/>
<circle cx="617.88" cy="76.81" r="0.48" fill="none" stroke="#4a78c4" stroke-width="0.42"/>
<circle cx="610.72" cy="75.64" r="0.48" fill="none" stroke="#4a78c4" stroke-width="0.42"/>
<circle cx="619.01" cy="74.98" r="0.48" fill="none" stroke="#4a78c4" stroke-width="0.42"/>
<circle cx="614.74" cy="81.16" r="0.48" fill="none" stroke="#4a78c4" stroke-width="0.42"/>
<circle cx="613.40" cy="76.13" r="0.48" fill="none" stroke="#4a78c4" stroke-width="0.42"/>
<circle cx="612.74" cy="81.12" r="0.48" fill="none" stroke="#4a78c4" stroke-width="0.42"/>
<circle cx="617.53" cy="78.11" r="0.48" fill="none" stroke="#4a78c4" stroke-width="0.42"/>
<circle cx="613.55" cy="73.69" r="0.48" fill="none" stroke="#4a78c4" stroke-width="0.42"/>
<circle cx="611.59" cy="70.86" r="0.48" fill="none" stroke="#4a78c4" stroke-width="0.42"/>
<circle cx="619.69" cy="78.64" r="0.48" fill="none" stroke="#4a78c4" stroke-width="0.42"/>
<circle cx="611.93" cy="72.07" r="0.48" fill="none" stroke="#4a78c4" stroke-width="0.42"/>
<circle cx="612.08" cy="75.40" r="0.48" fill="none" stroke="#4a78c4" stroke-width="0.42"/>
<circle cx="610.29" cy="75.19" r="0.48" fill="none" stroke="#4a78c4" stroke-width="0.42"/>
<circle cx="621.04" cy="76.75" r="0.48" fill="none" stroke="#4a78c4" stroke-width="0.42"/>
<circle cx="612.30" cy="73.82" r="0.48" fill="none" stroke="#4a78c4" stroke-width="0.42"/>
<circle cx="614.47" cy="76.07" r="0.48" fill="none" stroke="#4a78c4" stroke-width="0.42"/>
<circle cx="610.87" cy="76.10" r="0.48" fill="none" stroke="#4a78c4" stroke-width="0.42"/>
<circle cx="609.40" cy="74.48" r="0.48" fill="none" stroke="#4a78c4" stroke-width="0.42"/>
<circle cx="612.23" cy="71.92" r="0.48" fill="none" stroke="#4a78c4" stroke-width="0.42"/>
<circle cx="615.94" cy="76.47" r="0.48" fill="none" stroke="#4a78c4" stroke-width="0.42"/>
<circle cx="618.11" cy="78.44" r="0.48" fill="none" stroke="#4a78c4" stroke-width="0.42"/>
<circle cx="617.66" cy="81.84" r="0.48" fill="none" stroke="#4a78c4" stroke-width="0.42"/>
<circle cx="613.35" cy="73.36" r="0.48" fill="none" stroke="#4a78c4" stroke-width="0.42"/>
<circle cx="617.76" cy="78.22" r="0.48" fill="none" stroke="#4a78c4" stroke-width="0.42"/>
<circle cx="619.97" cy="77.98" r="0.48" fill="none" stroke="#4a78c4" stroke-width="0.42"/>
<circle cx="617.89" cy="80.82" r="0.48" fill="none" stroke="#4a78c4" stroke-width="0.42"/>
<circle cx="610.05" cy="76.39" r="0.48" fill="none" stroke="#4a78c4" stroke-width="0.42"/>
<circle cx="614.87" cy="81.16" r="0.48" fill="none" stroke="#4a78c4" stroke-width="0.42"/>
<circle cx="618.82" cy="81.03" r="0.48" fill="none" stroke="#4a78c4" stroke-width="0.42"/>
<circle cx="615.92" cy="82.05" r="0.48" fill="none" stroke="#4a78c4" stroke-width="0.42"/>
<circle cx="617.22" cy="78.99" r="0.48" fill="none" stroke="#4a78c4" stroke-width="0.42"/>
<circle cx="609.97" cy="73.89" r="0.48" fill="none" stroke="#4a78c4" stroke-width="0.42"/>
<circle cx="615.58" cy="77.99" r="0.48" fill="none" stroke="#4a78c4" stroke-width="0.42"/>
<circle cx="616.47" cy="78.80" r="0.48" fill="none" stroke="#4a78c4" stroke-width="0.42"/>
<circle cx="618.73" cy="79.83" r="0.48" fill="none" stroke="#4a78c4" stroke-width="0.42"/>
<circle cx="614.85" cy="76.56" r="0.48" fill="none" stroke="#4a78c4" stroke-width="0.42"/>
<circle cx="616.91" cy="69.37" r="0.48" fill="none" stroke="#4a78c4" stroke-width="0.42"/>
<circle cx="617.93" cy="72.22" r="0.48" fill="none" stroke="#4a78c4" stroke-width="0.42"/>
<circle cx="617.83" cy="71.50" r="0.48" fill="none" stroke="#4a78c4" stroke-width="0.42"/>
<circle cx="614.73" cy="74.22" r="0.48" fill="none" stroke="#4a78c4" stroke-width="0.42"/>
<circle cx="614.53" cy="78.84" r="0.48" fill="none" stroke="#4a78c4" stroke-width="0.42"/>
<circle cx="618.33" cy="77.82" r="0.48" fill="none" stroke="#4a78c4" stroke-width="0.42"/>
<circle cx="616.69" cy="69.54" r="0.48" fill="none" stroke="#4a78c4" stroke-width="0.42"/>
<circle cx="610.16" cy="72.25" r="0.48" fill="none" stroke="#4a78c4" stroke-width="0.42"/>
<circle cx="618.01" cy="73.02" r="0.48" fill="none" stroke="#4a78c4" stroke-width="0.42"/>
<circle cx="615.70" cy="68.54" r="0.48" fill="none" stroke="#4a78c4" stroke-width="0.42"/>
<circle cx="617.08" cy="78.97" r="0.48" fill="none" stroke="#4a78c4" stroke-width="0.42"/>
<circle cx="617.12" cy="72.82" r="0.48" fill="none" stroke="#4a78c4" stroke-width="0.42"/>
<circle cx="615.03" cy="75.48" r="0.48" fill="none" stroke="#4a78c4" stroke-width="0.42"/>
<circle cx="614.36" cy="70.17" r="0.48" fill="none" stroke="#4a78c4" stroke-width="0.42"/>
<circle cx="620.00" cy="71.41" r="0.48" fill="none" stroke="#4a78c4" stroke-width="0.42"/>
<circle cx="608.45" cy="75.39" r="0.48" fill="none" stroke="#4a78c4" stroke-width="0.42"/>
<circle cx="614.14" cy="72.47" r="0.48" fill="none" stroke="#4a78c4" stroke-width="0.42"/>
<circle cx="611.00" cy="77.27" r="0.48" fill="none" stroke="#4a78c4" stroke-width="0.42"/>
<circle cx="610.09" cy="76.39" r="0.48" fill="none" stroke="#4a78c4" stroke-width="0.42"/>
<circle cx="619.03" cy="76.16" r="0.48" fill="none" stroke="#4a78c4" stroke-width="0.42"/>
<circle cx="619.91" cy="79.14" r="0.48" fill="none" stroke="#4a78c4" stroke-width="0.42"/>
<circle cx="614.63" cy="68.73" r="0.48" fill="none" stroke="#4a78c4" stroke-width="0.42"/>
<circle cx="614.16" cy="72.99" r="0.48" fill="none" stroke="#4a78c4" stroke-width="0.42"/>
<circle cx="610.07" cy="73.63" r="0.48" fill="none" stroke="#4a78c4" stroke-width="0.42"/>
<circle cx="612.38" cy="81.25" r="0.48" fill="none" stroke="#4a78c4" stroke-width="0.42"/>
<circle cx="620.43" cy="79.29" r="0.48" fill="none" stroke="#4a78c4" stroke-width="0.42"/>
<circle cx="620.10" cy="72.80" r="0.48" fill="none" stroke="#4a78c4" stroke-width="0.42"/>
<circle cx="613.12" cy="74.38" r="0.48" fill="none" stroke="#4a78c4" stroke-width="0.42"/>
<circle cx="612.97" cy="74.92" r="0.48" fill="none" stroke="#4a78c4" stroke-width="0.42"/>
<circle cx="611.50" cy="72.43" r="0.48" fill="none" stroke="#4a78c4" stroke-width="0.42"/>
<circle cx="614.95" cy="71.27" r="0.48" fill="none" stroke="#4a78c4" stroke-width="0.42"/>
<circle cx="613.14" cy="83.02" r="0.48" fill="none" stroke="#4a78c4" stroke-width="0.42"/>
<circle cx="616.53" cy="82.37" r="0.48" fill="none" stroke="#4a78c4" stroke-width="0.42"/>
<circle cx="620.62" cy="76.78" r="0.48" fill="none" stroke="#4a78c4" stroke-width="0.42"/>
<circle cx="617.70" cy="69.11" r="0.48" fill="none" stroke="#4a78c4" stroke-width="0.42"/>
<circle cx="617.87" cy="75.27" r="0.48" fill="none" stroke="#4a78c4" stroke-width="0.42"/>
<circle cx="618.14" cy="78.24" r="0.48" fill="none" stroke="#4a78c4" stroke-width="0.42"/>
<circle cx="614.44" cy="73.63" r="0.48" fill="none" stroke="#4a78c4" stroke-width="0.42"/>
<circle cx="612.14" cy="79.69" r="0.48" fill="none" stroke="#4a78c4" stroke-width="0.42"/>
<circle cx="639.53" cy="67.01" r="0.48" fill="none" stroke="#2a9a8a" stroke-width="0.42"/>
<circle cx="633.12" cy="68.27" r="0.48" fill="none" stroke="#2a9a8a" stroke-width="0.42"/>
<circle cx="631.15" cy="71.15" r="0.48" fill="none" stroke="#2a9a8a" stroke-width="0.42"/>
<circle cx="623.35" cy="63.98" r="0.48" fill="none" stroke="#2a9a8a" stroke-width="0.42"/>
<circle cx="624.16" cy="86.90" r="0.48" fill="none" stroke="#2a9a8a" stroke-width="0.42"/>
<circle cx="629.94" cy="65.78" r="0.48" fill="none" stroke="#2a9a8a" stroke-width="0.42"/>
<circle cx="629.00" cy="63.30" r="0.48" fill="none" stroke="#2a9a8a" stroke-width="0.42"/>
<circle cx="623.85" cy="61.79" r="0.48" fill="none" stroke="#2a9a8a" stroke-width="0.42"/>
<circle cx="626.84" cy="61.81" r="0.48" fill="none" stroke="#2a9a8a" stroke-width="0.42"/>
<circle cx="624.78" cy="66.96" r="0.48" fill="none" stroke="#2a9a8a" stroke-width="0.42"/>
<circle cx="634.99" cy="71.71" r="0.48" fill="none" stroke="#2a9a8a" stroke-width="0.42"/>
<circle cx="628.28" cy="75.14" r="0.48" fill="none" stroke="#2a9a8a" stroke-width="0.42"/>
<circle cx="627.54" cy="69.42" r="0.48" fill="none" stroke="#2a9a8a" stroke-width="0.42"/>
<circle cx="621.24" cy="67.55" r="0.48" fill="none" stroke="#2a9a8a" stroke-width="0.42"/>
<circle cx="630.07" cy="78.39" r="0.48" fill="none" stroke="#2a9a8a" stroke-width="0.42"/>
<circle cx="637.26" cy="65.65" r="0.48" fill="none" stroke="#2a9a8a" stroke-width="0.42"/>
<circle cx="625.42" cy="66.65" r="0.48" fill="none" stroke="#2a9a8a" stroke-width="0.42"/>
<circle cx="628.00" cy="72.73" r="0.48" fill="none" stroke="#2a9a8a" stroke-width="0.42"/>
<circle cx="637.91" cy="73.58" r="0.48" fill="none" stroke="#2a9a8a" stroke-width="0.42"/>
<circle cx="627.83" cy="87.55" r="0.48" fill="none" stroke="#2a9a8a" stroke-width="0.42"/>
<circle cx="639.44" cy="66.65" r="0.48" fill="none" stroke="#2a9a8a" stroke-width="0.42"/>
<circle cx="622.18" cy="63.75" r="0.48" fill="none" stroke="#2a9a8a" stroke-width="0.42"/>
<circle cx="630.45" cy="80.01" r="0.48" fill="none" stroke="#2a9a8a" stroke-width="0.42"/>
<circle cx="629.15" cy="75.99" r="0.48" fill="none" stroke="#2a9a8a" stroke-width="0.42"/>
<circle cx="624.65" cy="87.33" r="0.48" fill="none" stroke="#2a9a8a" stroke-width="0.42"/>
<circle cx="632.91" cy="68.36" r="0.48" fill="none" stroke="#2a9a8a" stroke-width="0.42"/>
<circle cx="622.56" cy="66.76" r="0.48" fill="none" stroke="#2a9a8a" stroke-width="0.42"/>
<circle cx="632.73" cy="80.52" r="0.48" fill="none" stroke="#2a9a8a" stroke-width="0.42"/>
<circle cx="630.49" cy="76.95" r="0.48" fill="none" stroke="#2a9a8a" stroke-width="0.42"/>
<circle cx="627.76" cy="65.89" r="0.48" fill="none" stroke="#2a9a8a" stroke-width="0.42"/>
<circle cx="626.03" cy="73.19" r="0.48" fill="none" stroke="#2a9a8a" stroke-width="0.42"/>
<circle cx="637.68" cy="73.64" r="0.48" fill="none" stroke="#2a9a8a" stroke-width="0.42"/>
<circle cx="624.70" cy="66.61" r="0.48" fill="none" stroke="#2a9a8a" stroke-width="0.42"/>
<circle cx="629.97" cy="79.77" r="0.48" fill="none" stroke="#2a9a8a" stroke-width="0.42"/>
<circle cx="628.40" cy="66.92" r="0.48" fill="none" stroke="#2a9a8a" stroke-width="0.42"/>
<circle cx="626.76" cy="71.95" r="0.48" fill="none" stroke="#2a9a8a" stroke-width="0.42"/>
<circle cx="633.65" cy="65.10" r="0.48" fill="none" stroke="#2a9a8a" stroke-width="0.42"/>
<circle cx="630.10" cy="65.32" r="0.48" fill="none" stroke="#2a9a8a" stroke-width="0.42"/>
<circle cx="639.40" cy="68.60" r="0.48" fill="none" stroke="#2a9a8a" stroke-width="0.42"/>
<circle cx="636.40" cy="66.11" r="0.48" fill="none" stroke="#2a9a8a" stroke-width="0.42"/>
<circle cx="625.90" cy="88.32" r="0.48" fill="none" stroke="#2a9a8a" stroke-width="0.42"/>
<circle cx="629.92" cy="64.77" r="0.48" fill="none" stroke="#2a9a8a" stroke-width="0.42"/>
<circle cx="624.47" cy="71.84" r="0.48" fill="none" stroke="#2a9a8a" stroke-width="0.42"/>
<circle cx="622.93" cy="71.12" r="0.48" fill="none" stroke="#2a9a8a" stroke-width="0.42"/>
<circle cx="624.26" cy="89.00" r="0.48" fill="none" stroke="#2a9a8a" stroke-width="0.42"/>
<circle cx="638.63" cy="69.14" r="0.48" fill="none" stroke="#2a9a8a" stroke-width="0.42"/>
<circle cx="623.71" cy="87.83" r="0.48" fill="none" stroke="#2a9a8a" stroke-width="0.42"/>
<circle cx="633.29" cy="70.66" r="0.48" fill="none" stroke="#2a9a8a" stroke-width="0.42"/>
<circle cx="627.48" cy="69.22" r="0.48" fill="none" stroke="#2a9a8a" stroke-width="0.42"/>
<circle cx="625.60" cy="69.83" r="0.48" fill="none" stroke="#2a9a8a" stroke-width="0.42"/>
<circle cx="639.11" cy="62.81" r="0.48" fill="none" stroke="#2a9a8a" stroke-width="0.42"/>
<circle cx="639.29" cy="65.39" r="0.48" fill="none" stroke="#2a9a8a" stroke-width="0.42"/>
<circle cx="627.13" cy="84.30" r="0.48" fill="none" stroke="#2a9a8a" stroke-width="0.42"/>
<circle cx="636.44" cy="72.32" r="0.48" fill="none" stroke="#2a9a8a" stroke-width="0.42"/>
<circle cx="627.45" cy="87.32" r="0.48" fill="none" stroke="#2a9a8a" stroke-width="0.42"/>
<circle cx="623.86" cy="70.22" r="0.48" fill="none" stroke="#2a9a8a" stroke-width="0.42"/>
<circle cx="628.22" cy="84.00" r="0.48" fill="none" stroke="#2a9a8a" stroke-width="0.42"/>
<circle cx="638.40" cy="66.92" r="0.48" fill="none" stroke="#2a9a8a" stroke-width="0.42"/>
<circle cx="626.78" cy="67.39" r="0.48" fill="none" stroke="#2a9a8a" stroke-width="0.42"/>
<circle cx="639.15" cy="78.00" r="0.48" fill="none" stroke="#2a9a8a" stroke-width="0.42"/>
<circle cx="626.33" cy="67.49" r="0.48" fill="none" stroke="#2a9a8a" stroke-width="0.42"/>
<circle cx="638.33" cy="78.53" r="0.48" fill="none" stroke="#2a9a8a" stroke-width="0.42"/>
<circle cx="627.73" cy="66.73" r="0.48" fill="none" stroke="#2a9a8a" stroke-width="0.42"/>
<circle cx="628.60" cy="74.20" r="0.48" fill="none" stroke="#2a9a8a" stroke-width="0.42"/>
<circle cx="638.56" cy="64.63" r="0.48" fill="none" stroke="#2a9a8a" stroke-width="0.42"/>
<circle cx="632.15" cy="69.10" r="0.48" fill="none" stroke="#2a9a8a" stroke-width="0.42"/>
<circle cx="626.39" cy="70.15" r="0.48" fill="none" stroke="#2a9a8a" stroke-width="0.42"/>
<circle cx="635.64" cy="61.43" r="0.48" fill="none" stroke="#2a9a8a" stroke-width="0.42"/>
<circle cx="624.95" cy="60.99" r="0.48" fill="none" stroke="#2a9a8a" stroke-width="0.42"/>
<circle cx="625.30" cy="61.59" r="0.48" fill="none" stroke="#2a9a8a" stroke-width="0.42"/>
<circle cx="634.20" cy="72.77" r="0.48" fill="none" stroke="#2a9a8a" stroke-width="0.42"/>
<circle cx="624.68" cy="71.84" r="0.48" fill="none" stroke="#2a9a8a" stroke-width="0.42"/>
<circle cx="632.41" cy="79.76" r="0.48" fill="none" stroke="#2a9a8a" stroke-width="0.42"/>
<circle cx="633.29" cy="62.73" r="0.48" fill="none" stroke="#2a9a8a" stroke-width="0.42"/>
<circle cx="636.82" cy="68.05" r="0.48" fill="none" stroke="#2a9a8a" stroke-width="0.42"/>
<circle cx="631.34" cy="70.49" r="0.48" fill="none" stroke="#2a9a8a" stroke-width="0.42"/>
<circle cx="634.76" cy="65.14" r="0.48" fill="none" stroke="#2a9a8a" stroke-width="0.42"/>
<circle cx="624.95" cy="66.56" r="0.48" fill="none" stroke="#2a9a8a" stroke-width="0.42"/>
<circle cx="631.57" cy="69.05" r="0.48" fill="none" stroke="#2a9a8a" stroke-width="0.42"/>
<circle cx="630.15" cy="66.13" r="0.48" fill="none" stroke="#2a9a8a" stroke-width="0.42"/>
<circle cx="636.17" cy="79.12" r="0.48" fill="none" stroke="#2a9a8a" stroke-width="0.42"/>
<circle cx="629.50" cy="84.23" r="0.48" fill="none" stroke="#2a9a8a" stroke-width="0.42"/>
<circle cx="620.81" cy="68.05" r="0.48" fill="none" stroke="#2a9a8a" stroke-width="0.42"/>
<circle cx="622.38" cy="64.84" r="0.48" fill="none" stroke="#2a9a8a" stroke-width="0.42"/>
<circle cx="639.46" cy="76.96" r="0.48" fill="none" stroke="#2a9a8a" stroke-width="0.42"/>
<circle cx="638.60" cy="70.46" r="0.48" fill="none" stroke="#2a9a8a" stroke-width="0.42"/>
<circle cx="637.32" cy="72.83" r="0.48" fill="none" stroke="#2a9a8a" stroke-width="0.42"/>
<circle cx="625.20" cy="82.96" r="0.48" fill="none" stroke="#2a9a8a" stroke-width="0.42"/>
<circle cx="631.92" cy="78.09" r="0.48" fill="none" stroke="#2a9a8a" stroke-width="0.42"/>
<circle cx="624.35" cy="70.36" r="0.48" fill="none" stroke="#2a9a8a" stroke-width="0.42"/>
<circle cx="622.83" cy="65.28" r="0.48" fill="none" stroke="#2a9a8a" stroke-width="0.42"/>
<circle cx="633.03" cy="65.27" r="0.48" fill="none" stroke="#2a9a8a" stroke-width="0.42"/>
<circle cx="633.57" cy="64.70" r="0.48" fill="none" stroke="#2a9a8a" stroke-width="0.42"/>
<circle cx="626.24" cy="65.26" r="0.48" fill="none" stroke="#2a9a8a" stroke-width="0.42"/>
<circle cx="635.91" cy="75.88" r="0.48" fill="none" stroke="#2a9a8a" stroke-width="0.42"/>
<circle cx="627.91" cy="75.94" r="0.48" fill="none" stroke="#2a9a8a" stroke-width="0.42"/>
<circle cx="632.78" cy="61.81" r="0.48" fill="none" stroke="#2a9a8a" stroke-width="0.42"/>
<circle cx="628.20" cy="67.73" r="0.48" fill="none" stroke="#2a9a8a" stroke-width="0.42"/>
<circle cx="626.15" cy="88.36" r="0.48" fill="none" stroke="#2a9a8a" stroke-width="0.42"/>
<circle cx="626.25" cy="76.45" r="0.48" fill="none" stroke="#2a9a8a" stroke-width="0.42"/>
<circle cx="627.14" cy="71.83" r="0.48" fill="none" stroke="#2a9a8a" stroke-width="0.42"/>
<circle cx="627.28" cy="65.07" r="0.48" fill="none" stroke="#2a9a8a" stroke-width="0.42"/>
<circle cx="634.56" cy="65.27" r="0.48" fill="none" stroke="#2a9a8a" stroke-width="0.42"/>
<circle cx="628.48" cy="84.27" r="0.48" fill="none" stroke="#2a9a8a" stroke-width="0.42"/>
<circle cx="628.12" cy="86.19" r="0.48" fill="none" stroke="#2a9a8a" stroke-width="0.42"/>
<circle cx="629.22" cy="64.01" r="0.48" fill="none" stroke="#2a9a8a" stroke-width="0.42"/>
<circle cx="627.42" cy="74.54" r="0.48" fill="none" stroke="#2a9a8a" stroke-width="0.42"/>
<circle cx="622.92" cy="67.73" r="0.48" fill="none" stroke="#2a9a8a" stroke-width="0.42"/>
<circle cx="623.95" cy="62.90" r="0.48" fill="none" stroke="#2a9a8a" stroke-width="0.42"/>
<circle cx="629.65" cy="60.64" r="0.48" fill="none" stroke="#2a9a8a" stroke-width="0.42"/>
<circle cx="638.52" cy="70.95" r="0.48" fill="none" stroke="#2a9a8a" stroke-width="0.42"/>
<circle cx="638.08" cy="78.11" r="0.48" fill="none" stroke="#2a9a8a" stroke-width="0.42"/>
<circle cx="636.49" cy="63.94" r="0.48" fill="none" stroke="#2a9a8a" stroke-width="0.42"/>
<circle cx="635.72" cy="65.84" r="0.48" fill="none" stroke="#2a9a8a" stroke-width="0.42"/>
<circle cx="628.09" cy="85.07" r="0.48" fill="none" stroke="#2a9a8a" stroke-width="0.42"/>
<circle cx="636.58" cy="64.64" r="0.48" fill="none" stroke="#2a9a8a" stroke-width="0.42"/>
<circle cx="624.36" cy="71.31" r="0.48" fill="none" stroke="#2a9a8a" stroke-width="0.42"/>
<circle cx="630.36" cy="70.81" r="0.48" fill="none" stroke="#2a9a8a" stroke-width="0.42"/>
<circle cx="622.46" cy="66.61" r="0.48" fill="none" stroke="#2a9a8a" stroke-width="0.42"/>
<circle cx="636.76" cy="62.63" r="0.48" fill="none" stroke="#2a9a8a" stroke-width="0.42"/>
<circle cx="631.99" cy="75.94" r="0.48" fill="none" stroke="#2a9a8a" stroke-width="0.42"/>
<circle cx="632.54" cy="68.43" r="0.48" fill="none" stroke="#2a9a8a" stroke-width="0.42"/>
<circle cx="628.40" cy="76.94" r="0.48" fill="none" stroke="#2a9a8a" stroke-width="0.42"/>
<circle cx="628.51" cy="79.29" r="0.48" fill="none" stroke="#2a9a8a" stroke-width="0.42"/>
<circle cx="628.94" cy="72.50" r="0.48" fill="none" stroke="#2a9a8a" stroke-width="0.42"/>
<circle cx="629.79" cy="66.25" r="0.48" fill="none" stroke="#2a9a8a" stroke-width="0.42"/>
<circle cx="629.17" cy="64.53" r="0.48" fill="none" stroke="#2a9a8a" stroke-width="0.42"/>
<circle cx="629.46" cy="62.30" r="0.48" fill="none" stroke="#2a9a8a" stroke-width="0.42"/>
<circle cx="630.20" cy="60.26" r="0.48" fill="none" stroke="#2a9a8a" stroke-width="0.42"/>
<circle cx="632.73" cy="61.53" r="0.48" fill="none" stroke="#2a9a8a" stroke-width="0.42"/>
<circle cx="630.23" cy="60.67" r="0.48" fill="none" stroke="#2a9a8a" stroke-width="0.42"/>
<circle cx="630.08" cy="70.64" r="0.48" fill="none" stroke="#2a9a8a" stroke-width="0.42"/>
<circle cx="639.02" cy="63.19" r="0.48" fill="none" stroke="#2a9a8a" stroke-width="0.42"/>
<circle cx="623.87" cy="89.24" r="0.48" fill="none" stroke="#2a9a8a" stroke-width="0.42"/>
<circle cx="638.32" cy="64.09" r="0.48" fill="none" stroke="#2a9a8a" stroke-width="0.42"/>
<circle cx="621.31" cy="69.81" r="0.48" fill="none" stroke="#2a9a8a" stroke-width="0.42"/>
<circle cx="635.12" cy="63.89" r="0.48" fill="none" stroke="#2a9a8a" stroke-width="0.42"/>
<circle cx="637.93" cy="67.47" r="0.48" fill="none" stroke="#2a9a8a" stroke-width="0.42"/>
<circle cx="636.31" cy="63.42" r="0.48" fill="none" stroke="#2a9a8a" stroke-width="0.42"/>
<circle cx="624.17" cy="67.10" r="0.48" fill="none" stroke="#2a9a8a" stroke-width="0.42"/>
<circle cx="630.12" cy="68.83" r="0.48" fill="none" stroke="#2a9a8a" stroke-width="0.42"/>
<circle cx="620.74" cy="64.61" r="0.48" fill="none" stroke="#2a9a8a" stroke-width="0.42"/>
<circle cx="632.73" cy="70.08" r="0.48" fill="none" stroke="#2a9a8a" stroke-width="0.42"/>
<circle cx="637.46" cy="76.10" r="0.48" fill="none" stroke="#2a9a8a" stroke-width="0.42"/>
<circle cx="632.60" cy="71.14" r="0.48" fill="none" stroke="#2a9a8a" stroke-width="0.42"/>
<circle cx="635.95" cy="67.15" r="0.48" fill="none" stroke="#2a9a8a" stroke-width="0.42"/>
<circle cx="627.21" cy="82.55" r="0.48" fill="none" stroke="#2a9a8a" stroke-width="0.42"/>
<circle cx="628.85" cy="64.44" r="0.48" fill="none" stroke="#2a9a8a" stroke-width="0.42"/>
<circle cx="636.40" cy="66.81" r="0.48" fill="none" stroke="#2a9a8a" stroke-width="0.42"/>
<circle cx="631.72" cy="79.44" r="0.48" fill="none" stroke="#2a9a8a" stroke-width="0.42"/>
<circle cx="632.32" cy="72.31" r="0.48" fill="none" stroke="#2a9a8a" stroke-width="0.42"/>
<circle cx="622.64" cy="66.00" r="0.48" fill="none" stroke="#2a9a8a" stroke-width="0.42"/>
<circle cx="622.13" cy="70.00" r="0.48" fill="none" stroke="#2a9a8a" stroke-width="0.42"/>
<circle cx="631.78" cy="65.29" r="0.48" fill="none" stroke="#2a9a8a" stroke-width="0.42"/>
<circle cx="632.48" cy="73.63" r="0.48" fill="none" stroke="#2a9a8a" stroke-width="0.42"/>
<circle cx="624.87" cy="63.60" r="0.48" fill="none" stroke="#2a9a8a" stroke-width="0.42"/>
<circle cx="628.04" cy="67.14" r="0.48" fill="none" stroke="#2a9a8a" stroke-width="0.42"/>
<circle cx="631.25" cy="69.79" r="0.48" fill="none" stroke="#2a9a8a" stroke-width="0.42"/>
<circle cx="632.91" cy="72.67" r="0.48" fill="none" stroke="#2a9a8a" stroke-width="0.42"/>
<circle cx="624.97" cy="86.83" r="0.48" fill="none" stroke="#2a9a8a" stroke-width="0.42"/>
<circle cx="628.12" cy="66.32" r="0.48" fill="none" stroke="#2a9a8a" stroke-width="0.42"/>
<circle cx="638.82" cy="63.38" r="0.48" fill="none" stroke="#2a9a8a" stroke-width="0.42"/>
<circle cx="630.14" cy="78.76" r="0.48" fill="none" stroke="#2a9a8a" stroke-width="0.42"/>
<circle cx="636.27" cy="64.38" r="0.48" fill="none" stroke="#2a9a8a" stroke-width="0.42"/>
<circle cx="626.19" cy="68.25" r="0.48" fill="none" stroke="#2a9a8a" stroke-width="0.42"/>
<circle cx="634.90" cy="73.33" r="0.48" fill="none" stroke="#2a9a8a" stroke-width="0.42"/>
<circle cx="634.84" cy="72.94" r="0.48" fill="none" stroke="#2a9a8a" stroke-width="0.42"/>
<circle cx="624.52" cy="62.24" r="0.48" fill="none" stroke="#2a9a8a" stroke-width="0.42"/>
<circle cx="626.71" cy="82.09" r="0.48" fill="none" stroke="#2a9a8a" stroke-width="0.42"/>
<circle cx="634.23" cy="67.19" r="0.48" fill="none" stroke="#2a9a8a" stroke-width="0.42"/>
<circle cx="631.08" cy="72.43" r="0.48" fill="none" stroke="#2a9a8a" stroke-width="0.42"/>
<circle cx="635.77" cy="75.12" r="0.48" fill="none" stroke="#2a9a8a" stroke-width="0.42"/>
<circle cx="639.30" cy="65.68" r="0.48" fill="none" stroke="#2a9a8a" stroke-width="0.42"/>
<circle cx="625.21" cy="66.27" r="0.48" fill="none" stroke="#2a9a8a" stroke-width="0.42"/>
<circle cx="634.92" cy="69.07" r="0.48" fill="none" stroke="#2a9a8a" stroke-width="0.42"/>
<circle cx="637.60" cy="69.12" r="0.48" fill="none" stroke="#2a9a8a" stroke-width="0.42"/>
<circle cx="624.78" cy="86.95" r="0.48" fill="none" stroke="#2a9a8a" stroke-width="0.42"/>
<circle cx="632.61" cy="80.34" r="0.48" fill="none" stroke="#2a9a8a" stroke-width="0.42"/>
<circle cx="629.39" cy="84.86" r="0.48" fill="none" stroke="#2a9a8a" stroke-width="0.42"/>
<circle cx="628.74" cy="81.32" r="0.48" fill="none" stroke="#2a9a8a" stroke-width="0.42"/>
<circle cx="631.41" cy="68.48" r="0.48" fill="none" stroke="#2a9a8a" stroke-width="0.42"/>
<circle cx="626.90" cy="63.37" r="0.48" fill="none" stroke="#2a9a8a" stroke-width="0.42"/>
<circle cx="633.85" cy="78.52" r="0.48" fill="none" stroke="#2a9a8a" stroke-width="0.42"/>
<circle cx="627.27" cy="84.18" r="0.48" fill="none" stroke="#2a9a8a" stroke-width="0.42"/>
<circle cx="622.14" cy="65.34" r="0.48" fill="none" stroke="#2a9a8a" stroke-width="0.42"/>
<circle cx="632.63" cy="67.85" r="0.48" fill="none" stroke="#2a9a8a" stroke-width="0.42"/>
<circle cx="635.15" cy="65.31" r="0.48" fill="none" stroke="#2a9a8a" stroke-width="0.42"/>
<circle cx="626.38" cy="72.05" r="0.48" fill="none" stroke="#2a9a8a" stroke-width="0.42"/>
<circle cx="620.42" cy="66.91" r="0.48" fill="none" stroke="#2a9a8a" stroke-width="0.42"/>
<circle cx="627.36" cy="68.88" r="0.48" fill="none" stroke="#2a9a8a" stroke-width="0.42"/>
<circle cx="639.28" cy="74.52" r="0.48" fill="none" stroke="#2a9a8a" stroke-width="0.42"/>
<circle cx="637.03" cy="78.04" r="0.48" fill="none" stroke="#2a9a8a" stroke-width="0.42"/>
<circle cx="628.73" cy="82.81" r="0.48" fill="none" stroke="#2a9a8a" stroke-width="0.42"/>
<circle cx="626.94" cy="80.70" r="0.48" fill="none" stroke="#2a9a8a" stroke-width="0.42"/>
<circle cx="630.76" cy="65.67" r="0.48" fill="none" stroke="#2a9a8a" stroke-width="0.42"/>
<circle cx="637.24" cy="61.80" r="0.48" fill="none" stroke="#2a9a8a" stroke-width="0.42"/>
<circle cx="636.40" cy="64.25" r="0.48" fill="none" stroke="#2a9a8a" stroke-width="0.42"/>
<circle cx="629.83" cy="83.54" r="0.48" fill="none" stroke="#2a9a8a" stroke-width="0.42"/>
<circle cx="626.94" cy="84.62" r="0.48" fill="none" stroke="#2a9a8a" stroke-width="0.42"/>
<circle cx="625.21" cy="88.07" r="0.48" fill="none" stroke="#2a9a8a" stroke-width="0.42"/>
<circle cx="625.67" cy="65.61" r="0.48" fill="none" stroke="#2a9a8a" stroke-width="0.42"/>
<circle cx="633.99" cy="74.35" r="0.48" fill="none" stroke="#2a9a8a" stroke-width="0.42"/>
<circle cx="632.56" cy="69.95" r="0.48" fill="none" stroke="#2a9a8a" stroke-width="0.42"/>
<circle cx="628.03" cy="71.15" r="0.48" fill="none" stroke="#2a9a8a" stroke-width="0.42"/>
<circle cx="637.81" cy="61.65" r="0.48" fill="none" stroke="#2a9a8a" stroke-width="0.42"/>
<circle cx="624.12" cy="67.11" r="0.48" fill="none" stroke="#2a9a8a" stroke-width="0.42"/>
<circle cx="638.02" cy="74.44" r="0.48" fill="none" stroke="#2a9a8a" stroke-width="0.42"/>
<circle cx="627.59" cy="86.23" r="0.48" fill="none" stroke="#2a9a8a" stroke-width="0.42"/>
<circle cx="624.67" cy="73.20" r="0.48" fill="none" stroke="#2a9a8a" stroke-width="0.42"/>
<circle cx="630.63" cy="82.24" r="0.48" fill="none" stroke="#2a9a8a" stroke-width="0.42"/>
<circle cx="635.06" cy="78.91" r="0.48" fill="none" stroke="#2a9a8a" stroke-width="0.42"/>
<circle cx="626.97" cy="69.06" r="0.48" fill="none" stroke="#2a9a8a" stroke-width="0.42"/>
<circle cx="635.47" cy="76.84" r="0.48" fill="none" stroke="#2a9a8a" stroke-width="0.42"/>
<circle cx="637.70" cy="66.33" r="0.48" fill="none" stroke="#2a9a8a" stroke-width="0.42"/>
<circle cx="623.83" cy="68.29" r="0.48" fill="none" stroke="#2a9a8a" stroke-width="0.42"/>
<circle cx="623.09" cy="63.80" r="0.48" fill="none" stroke="#2a9a8a" stroke-width="0.42"/>
<circle cx="624.95" cy="69.06" r="0.48" fill="none" stroke="#2a9a8a" stroke-width="0.42"/>
<circle cx="630.44" cy="63.96" r="0.48" fill="none" stroke="#2a9a8a" stroke-width="0.42"/>
<circle cx="626.56" cy="64.83" r="0.48" fill="none" stroke="#2a9a8a" stroke-width="0.42"/>
<circle cx="622.03" cy="70.83" r="0.48" fill="none" stroke="#2a9a8a" stroke-width="0.42"/>
<circle cx="634.67" cy="72.40" r="0.48" fill="none" stroke="#2a9a8a" stroke-width="0.42"/>
<circle cx="622.14" cy="65.36" r="0.48" fill="none" stroke="#2a9a8a" stroke-width="0.42"/>
<circle cx="627.77" cy="60.05" r="0.48" fill="none" stroke="#2a9a8a" stroke-width="0.42"/>
<circle cx="627.98" cy="83.36" r="0.48" fill="none" stroke="#2a9a8a" stroke-width="0.42"/>
<circle cx="633.87" cy="74.41" r="0.48" fill="none" stroke="#2a9a8a" stroke-width="0.42"/>
<circle cx="632.65" cy="73.27" r="0.48" fill="none" stroke="#2a9a8a" stroke-width="0.42"/>
<circle cx="628.09" cy="81.82" r="0.48" fill="none" stroke="#2a9a8a" stroke-width="0.42"/>
<circle cx="638.16" cy="72.24" r="0.48" fill="none" stroke="#2a9a8a" stroke-width="0.42"/>
<circle cx="631.48" cy="82.07" r="0.48" fill="none" stroke="#2a9a8a" stroke-width="0.42"/>
<circle cx="628.42" cy="66.04" r="0.48" fill="none" stroke="#2a9a8a" stroke-width="0.42"/>
<circle cx="632.83" cy="72.98" r="0.48" fill="none" stroke="#2a9a8a" stroke-width="0.42"/>
<circle cx="626.26" cy="78.35" r="0.48" fill="none" stroke="#2a9a8a" stroke-width="0.42"/>
<circle cx="632.59" cy="66.70" r="0.48" fill="none" stroke="#2a9a8a" stroke-width="0.42"/>
<circle cx="628.47" cy="73.02" r="0.48" fill="none" stroke="#2a9a8a" stroke-width="0.42"/>
<circle cx="632.43" cy="71.61" r="0.48" fill="none" stroke="#2a9a8a" stroke-width="0.42"/>
<circle cx="635.56" cy="70.97" r="0.48" fill="none" stroke="#2a9a8a" stroke-width="0.42"/>
<circle cx="638.81" cy="74.99" r="0.48" fill="none" stroke="#2a9a8a" stroke-width="0.42"/>
<circle cx="630.82" cy="81.09" r="0.48" fill="none" stroke="#2a9a8a" stroke-width="0.42"/>
<circle cx="630.24" cy="78.69" r="0.48" fill="none" stroke="#2a9a8a" stroke-width="0.42"/>
<circle cx="636.58" cy="75.07" r="0.48" fill="none" stroke="#2a9a8a" stroke-width="0.42"/>
<circle cx="627.85" cy="82.49" r="0.48" fill="none" stroke="#2a9a8a" stroke-width="0.42"/>
<circle cx="627.11" cy="60.74" r="0.48" fill="none" stroke="#2a9a8a" stroke-width="0.42"/>
<circle cx="625.49" cy="71.31" r="0.48" fill="none" stroke="#2a9a8a" stroke-width="0.42"/>
<circle cx="628.41" cy="80.51" r="0.48" fill="none" stroke="#2a9a8a" stroke-width="0.42"/>
<circle cx="627.04" cy="67.17" r="0.48" fill="none" stroke="#2a9a8a" stroke-width="0.42"/>
<circle cx="638.80" cy="75.23" r="0.48" fill="none" stroke="#2a9a8a" stroke-width="0.42"/>
<circle cx="627.84" cy="65.53" r="0.48" fill="none" stroke="#2a9a8a" stroke-width="0.42"/>
<circle cx="636.19" cy="78.54" r="0.48" fill="none" stroke="#2a9a8a" stroke-width="0.42"/>
<circle cx="629.38" cy="76.31" r="0.48" fill="none" stroke="#2a9a8a" stroke-width="0.42"/>
<circle cx="624.52" cy="88.69" r="0.48" fill="none" stroke="#2a9a8a" stroke-width="0.42"/>
<circle cx="627.06" cy="78.67" r="0.48" fill="none" stroke="#2a9a8a" stroke-width="0.42"/>
<circle cx="629.36" cy="68.07" r="0.48" fill="none" stroke="#2a9a8a" stroke-width="0.42"/>
<circle cx="630.97" cy="62.86" r="0.48" fill="none" stroke="#2a9a8a" stroke-width="0.42"/>
<circle cx="636.67" cy="69.93" r="0.48" fill="none" stroke="#2a9a8a" stroke-width="0.42"/>
<circle cx="637.01" cy="67.24" r="0.48" fill="none" stroke="#2a9a8a" stroke-width="0.42"/>
<circle cx="627.52" cy="66.81" r="0.48" fill="none" stroke="#2a9a8a" stroke-width="0.42"/>
<circle cx="628.52" cy="64.73" r="0.48" fill="none" stroke="#2a9a8a" stroke-width="0.42"/>
<circle cx="625.62" cy="66.54" r="0.48" fill="none" stroke="#2a9a8a" stroke-width="0.42"/>
<circle cx="626.04" cy="73.77" r="0.48" fill="none" stroke="#2a9a8a" stroke-width="0.42"/>
<circle cx="628.57" cy="78.63" r="0.48" fill="none" stroke="#2a9a8a" stroke-width="0.42"/>
<circle cx="647.01" cy="66.02" r="0.48" fill="none" stroke="#9a58c4" stroke-width="0.42"/>
<circle cx="651.48" cy="66.75" r="0.48" fill="none" stroke="#9a58c4" stroke-width="0.42"/>
<circle cx="650.24" cy="68.83" r="0.48" fill="none" stroke="#9a58c4" stroke-width="0.42"/>
<circle cx="651.81" cy="59.68" r="0.48" fill="none" stroke="#9a58c4" stroke-width="0.42"/>
<circle cx="647.50" cy="57.83" r="0.48" fill="none" stroke="#9a58c4" stroke-width="0.42"/>
<circle cx="650.97" cy="56.63" r="0.48" fill="none" stroke="#9a58c4" stroke-width="0.42"/>
<circle cx="650.63" cy="57.90" r="0.48" fill="none" stroke="#9a58c4" stroke-width="0.42"/>
<circle cx="650.95" cy="63.14" r="0.48" fill="none" stroke="#9a58c4" stroke-width="0.42"/>
<circle cx="651.60" cy="68.54" r="0.48" fill="none" stroke="#9a58c4" stroke-width="0.42"/>
<circle cx="650.64" cy="64.09" r="0.48" fill="none" stroke="#9a58c4" stroke-width="0.42"/>
<circle cx="653.28" cy="68.21" r="0.48" fill="none" stroke="#9a58c4" stroke-width="0.42"/>
<circle cx="649.39" cy="61.96" r="0.48" fill="none" stroke="#9a58c4" stroke-width="0.42"/>
<circle cx="652.91" cy="65.18" r="0.48" fill="none" stroke="#9a58c4" stroke-width="0.42"/>
<circle cx="644.74" cy="64.79" r="0.48" fill="none" stroke="#9a58c4" stroke-width="0.42"/>
<circle cx="653.52" cy="69.56" r="0.48" fill="none" stroke="#9a58c4" stroke-width="0.42"/>
<circle cx="651.21" cy="62.94" r="0.48" fill="none" stroke="#9a58c4" stroke-width="0.42"/>
<circle cx="653.99" cy="65.02" r="0.48" fill="none" stroke="#9a58c4" stroke-width="0.42"/>
<circle cx="648.90" cy="68.52" r="0.48" fill="none" stroke="#9a58c4" stroke-width="0.42"/>
<circle cx="649.27" cy="62.79" r="0.48" fill="none" stroke="#9a58c4" stroke-width="0.42"/>
<circle cx="651.41" cy="67.17" r="0.48" fill="none" stroke="#9a58c4" stroke-width="0.42"/>
<circle cx="647.19" cy="62.21" r="0.48" fill="none" stroke="#9a58c4" stroke-width="0.42"/>
<circle cx="650.03" cy="63.97" r="0.48" fill="none" stroke="#9a58c4" stroke-width="0.42"/>
<circle cx="655.45" cy="60.10" r="0.48" fill="none" stroke="#9a58c4" stroke-width="0.42"/>
<circle cx="655.46" cy="61.74" r="0.48" fill="none" stroke="#9a58c4" stroke-width="0.42"/>
<circle cx="651.12" cy="59.79" r="0.48" fill="none" stroke="#9a58c4" stroke-width="0.42"/>
<circle cx="651.15" cy="70.20" r="0.48" fill="none" stroke="#9a58c4" stroke-width="0.42"/>
<circle cx="653.14" cy="67.49" r="0.48" fill="none" stroke="#9a58c4" stroke-width="0.42"/>
<circle cx="648.80" cy="60.46" r="0.48" fill="none" stroke="#9a58c4" stroke-width="0.42"/>
<circle cx="648.37" cy="64.45" r="0.48" fill="none" stroke="#9a58c4" stroke-width="0.42"/>
<circle cx="652.88" cy="67.38" r="0.48" fill="none" stroke="#9a58c4" stroke-width="0.42"/>
<circle cx="644.90" cy="66.46" r="0.48" fill="none" stroke="#9a58c4" stroke-width="0.42"/>
<circle cx="656.24" cy="63.84" r="0.48" fill="none" stroke="#9a58c4" stroke-width="0.42"/>
<circle cx="645.03" cy="60.21" r="0.48" fill="none" stroke="#9a58c4" stroke-width="0.42"/>
<circle cx="656.72" cy="64.78" r="0.48" fill="none" stroke="#9a58c4" stroke-width="0.42"/>
<circle cx="653.19" cy="67.45" r="0.48" fill="none" stroke="#9a58c4" stroke-width="0.42"/>
<circle cx="656.56" cy="64.82" r="0.48" fill="none" stroke="#9a58c4" stroke-width="0.42"/>
<circle cx="652.63" cy="65.04" r="0.48" fill="none" stroke="#9a58c4" stroke-width="0.42"/>
<circle cx="653.70" cy="64.59" r="0.48" fill="none" stroke="#9a58c4" stroke-width="0.42"/>
<circle cx="653.49" cy="58.91" r="0.48" fill="none" stroke="#9a58c4" stroke-width="0.42"/>
<circle cx="653.31" cy="62.54" r="0.48" fill="none" stroke="#9a58c4" stroke-width="0.42"/>
<circle cx="654.59" cy="57.26" r="0.48" fill="none" stroke="#9a58c4" stroke-width="0.42"/>
<circle cx="653.16" cy="61.22" r="0.48" fill="none" stroke="#9a58c4" stroke-width="0.42"/>
<circle cx="655.39" cy="67.41" r="0.48" fill="none" stroke="#9a58c4" stroke-width="0.42"/>
<circle cx="651.90" cy="59.58" r="0.48" fill="none" stroke="#9a58c4" stroke-width="0.42"/>
<circle cx="648.41" cy="62.01" r="0.48" fill="none" stroke="#9a58c4" stroke-width="0.42"/>
<circle cx="648.63" cy="62.14" r="0.48" fill="none" stroke="#9a58c4" stroke-width="0.42"/>
<circle cx="652.97" cy="69.59" r="0.48" fill="none" stroke="#9a58c4" stroke-width="0.42"/>
<circle cx="645.09" cy="64.17" r="0.48" fill="none" stroke="#9a58c4" stroke-width="0.42"/>
<circle cx="655.23" cy="64.28" r="0.48" fill="none" stroke="#9a58c4" stroke-width="0.42"/>
<circle cx="656.68" cy="62.37" r="0.48" fill="none" stroke="#9a58c4" stroke-width="0.42"/>
<circle cx="652.30" cy="69.65" r="0.48" fill="none" stroke="#9a58c4" stroke-width="0.42"/>
<circle cx="657.52" cy="62.80" r="0.48" fill="none" stroke="#9a58c4" stroke-width="0.42"/>
<circle cx="649.89" cy="57.27" r="0.48" fill="none" stroke="#9a58c4" stroke-width="0.42"/>
<circle cx="653.01" cy="58.91" r="0.48" fill="none" stroke="#9a58c4" stroke-width="0.42"/>
<circle cx="654.01" cy="59.35" r="0.48" fill="none" stroke="#9a58c4" stroke-width="0.42"/>
<circle cx="654.20" cy="58.54" r="0.48" fill="none" stroke="#9a58c4" stroke-width="0.42"/>
<circle cx="653.93" cy="68.43" r="0.48" fill="none" stroke="#9a58c4" stroke-width="0.42"/>
<circle cx="654.15" cy="57.01" r="0.48" fill="none" stroke="#9a58c4" stroke-width="0.42"/>
<circle cx="652.79" cy="66.27" r="0.48" fill="none" stroke="#9a58c4" stroke-width="0.42"/>
<circle cx="650.54" cy="69.57" r="0.48" fill="none" stroke="#9a58c4" stroke-width="0.42"/>
<circle cx="644.56" cy="65.40" r="0.48" fill="none" stroke="#9a58c4" stroke-width="0.42"/>
<circle cx="648.53" cy="66.56" r="0.48" fill="none" stroke="#9a58c4" stroke-width="0.42"/>
<circle cx="646.59" cy="68.51" r="0.48" fill="none" stroke="#9a58c4" stroke-width="0.42"/>
<circle cx="650.88" cy="56.65" r="0.48" fill="none" stroke="#9a58c4" stroke-width="0.42"/>
<circle cx="649.29" cy="64.28" r="0.48" fill="none" stroke="#9a58c4" stroke-width="0.42"/>
<circle cx="650.25" cy="65.79" r="0.48" fill="none" stroke="#9a58c4" stroke-width="0.42"/>
<circle cx="646.30" cy="67.57" r="0.48" fill="none" stroke="#9a58c4" stroke-width="0.42"/>
<circle cx="649.23" cy="65.31" r="0.48" fill="none" stroke="#9a58c4" stroke-width="0.42"/>
<circle cx="652.81" cy="61.95" r="0.48" fill="none" stroke="#9a58c4" stroke-width="0.42"/>
<circle cx="649.53" cy="67.41" r="0.48" fill="none" stroke="#9a58c4" stroke-width="0.42"/>
<circle cx="651.96" cy="60.09" r="0.48" fill="none" stroke="#9a58c4" stroke-width="0.42"/>
<circle cx="653.79" cy="68.02" r="0.48" fill="none" stroke="#9a58c4" stroke-width="0.42"/>
<circle cx="648.81" cy="64.73" r="0.48" fill="none" stroke="#9a58c4" stroke-width="0.42"/>
<circle cx="652.42" cy="60.33" r="0.48" fill="none" stroke="#9a58c4" stroke-width="0.42"/>
<circle cx="650.11" cy="68.91" r="0.48" fill="none" stroke="#9a58c4" stroke-width="0.42"/>
<circle cx="649.41" cy="65.90" r="0.48" fill="none" stroke="#9a58c4" stroke-width="0.42"/>
<circle cx="652.43" cy="69.03" r="0.48" fill="none" stroke="#9a58c4" stroke-width="0.42"/>
<circle cx="655.19" cy="59.96" r="0.48" fill="none" stroke="#9a58c4" stroke-width="0.42"/>
<circle cx="650.03" cy="64.45" r="0.48" fill="none" stroke="#9a58c4" stroke-width="0.42"/>
<circle cx="652.03" cy="59.82" r="0.48" fill="none" stroke="#9a58c4" stroke-width="0.42"/>
<circle cx="655.78" cy="67.71" r="0.48" fill="none" stroke="#9a58c4" stroke-width="0.42"/>
<circle cx="653.54" cy="69.29" r="0.48" fill="none" stroke="#9a58c4" stroke-width="0.42"/>
<circle cx="649.01" cy="57.02" r="0.48" fill="none" stroke="#9a58c4" stroke-width="0.42"/>
<circle cx="651.79" cy="67.57" r="0.48" fill="none" stroke="#9a58c4" stroke-width="0.42"/>
<circle cx="647.05" cy="66.87" r="0.48" fill="none" stroke="#9a58c4" stroke-width="0.42"/>
<circle cx="652.50" cy="65.80" r="0.48" fill="none" stroke="#9a58c4" stroke-width="0.42"/>
<circle cx="650.60" cy="58.82" r="0.48" fill="none" stroke="#9a58c4" stroke-width="0.42"/>
<circle cx="647.78" cy="66.89" r="0.48" fill="none" stroke="#9a58c4" stroke-width="0.42"/>
<circle cx="654.98" cy="62.57" r="0.48" fill="none" stroke="#9a58c4" stroke-width="0.42"/>
<circle cx="654.72" cy="59.21" r="0.48" fill="none" stroke="#9a58c4" stroke-width="0.42"/>
<circle cx="652.13" cy="69.04" r="0.48" fill="none" stroke="#9a58c4" stroke-width="0.42"/>
<circle cx="656.23" cy="63.49" r="0.48" fill="none" stroke="#9a58c4" stroke-width="0.42"/>
<circle cx="650.75" cy="64.49" r="0.48" fill="none" stroke="#9a58c4" stroke-width="0.42"/>
<circle cx="646.90" cy="58.61" r="0.48" fill="none" stroke="#9a58c4" stroke-width="0.42"/>
<circle cx="646.78" cy="66.14" r="0.48" fill="none" stroke="#9a58c4" stroke-width="0.42"/>
<circle cx="649.23" cy="64.12" r="0.48" fill="none" stroke="#9a58c4" stroke-width="0.42"/>
<circle cx="649.76" cy="63.42" r="0.48" fill="none" stroke="#9a58c4" stroke-width="0.42"/>
<circle cx="645.78" cy="65.13" r="0.48" fill="none" stroke="#9a58c4" stroke-width="0.42"/>
<circle cx="654.92" cy="58.07" r="0.48" fill="none" stroke="#9a58c4" stroke-width="0.42"/>
<circle cx="652.37" cy="60.87" r="0.48" fill="none" stroke="#9a58c4" stroke-width="0.42"/>
<circle cx="651.33" cy="56.07" r="0.48" fill="none" stroke="#9a58c4" stroke-width="0.42"/>
<circle cx="655.98" cy="62.96" r="0.48" fill="none" stroke="#9a58c4" stroke-width="0.42"/>
<circle cx="651.97" cy="59.64" r="0.48" fill="none" stroke="#9a58c4" stroke-width="0.42"/>
<circle cx="654.81" cy="62.07" r="0.48" fill="none" stroke="#9a58c4" stroke-width="0.42"/>
<circle cx="647.06" cy="58.44" r="0.48" fill="none" stroke="#9a58c4" stroke-width="0.42"/>
<circle cx="651.84" cy="68.66" r="0.48" fill="none" stroke="#9a58c4" stroke-width="0.42"/>
<circle cx="650.51" cy="69.79" r="0.48" fill="none" stroke="#9a58c4" stroke-width="0.42"/>
<circle cx="652.38" cy="61.65" r="0.48" fill="none" stroke="#9a58c4" stroke-width="0.42"/>
<circle cx="647.81" cy="64.12" r="0.48" fill="none" stroke="#9a58c4" stroke-width="0.42"/>
<circle cx="652.95" cy="69.93" r="0.48" fill="none" stroke="#9a58c4" stroke-width="0.42"/>
<circle cx="643.56" cy="67.54" r="0.48" fill="none" stroke="#9a58c4" stroke-width="0.42"/>
<circle cx="647.68" cy="68.19" r="0.48" fill="none" stroke="#9a58c4" stroke-width="0.42"/>
<circle cx="648.97" cy="76.90" r="0.48" fill="none" stroke="#9a58c4" stroke-width="0.42"/>
<circle cx="642.71" cy="71.36" r="0.48" fill="none" stroke="#9a58c4" stroke-width="0.42"/>
<circle cx="648.76" cy="73.63" r="0.48" fill="none" stroke="#9a58c4" stroke-width="0.42"/>
<circle cx="645.40" cy="70.01" r="0.48" fill="none" stroke="#9a58c4" stroke-width="0.42"/>
<circle cx="648.59" cy="71.74" r="0.48" fill="none" stroke="#9a58c4" stroke-width="0.42"/>
<circle cx="646.91" cy="67.54" r="0.48" fill="none" stroke="#9a58c4" stroke-width="0.42"/>
<circle cx="647.65" cy="72.69" r="0.48" fill="none" stroke="#9a58c4" stroke-width="0.42"/>
<circle cx="643.80" cy="70.91" r="0.48" fill="none" stroke="#9a58c4" stroke-width="0.42"/>
<circle cx="642.84" cy="69.15" r="0.48" fill="none" stroke="#9a58c4" stroke-width="0.42"/>
<circle cx="648.73" cy="69.94" r="0.48" fill="none" stroke="#9a58c4" stroke-width="0.42"/>
<circle cx="642.95" cy="71.91" r="0.48" fill="none" stroke="#9a58c4" stroke-width="0.42"/>
<circle cx="644.24" cy="77.08" r="0.48" fill="none" stroke="#9a58c4" stroke-width="0.42"/>
<circle cx="647.26" cy="68.40" r="0.48" fill="none" stroke="#9a58c4" stroke-width="0.42"/>
<circle cx="645.61" cy="69.34" r="0.48" fill="none" stroke="#9a58c4" stroke-width="0.42"/>
<circle cx="643.72" cy="68.28" r="0.48" fill="none" stroke="#9a58c4" stroke-width="0.42"/>
<circle cx="644.64" cy="78.19" r="0.48" fill="none" stroke="#9a58c4" stroke-width="0.42"/>
<circle cx="642.34" cy="69.38" r="0.48" fill="none" stroke="#9a58c4" stroke-width="0.42"/>
<circle cx="647.76" cy="69.43" r="0.48" fill="none" stroke="#9a58c4" stroke-width="0.42"/>
<circle cx="648.45" cy="70.02" r="0.48" fill="none" stroke="#9a58c4" stroke-width="0.42"/>
<circle cx="648.67" cy="72.36" r="0.48" fill="none" stroke="#9a58c4" stroke-width="0.42"/>
<circle cx="643.10" cy="71.21" r="0.48" fill="none" stroke="#9a58c4" stroke-width="0.42"/>
<circle cx="646.42" cy="67.48" r="0.48" fill="none" stroke="#9a58c4" stroke-width="0.42"/>
<circle cx="643.05" cy="75.42" r="0.48" fill="none" stroke="#9a58c4" stroke-width="0.42"/>
<circle cx="647.63" cy="68.21" r="0.48" fill="none" stroke="#9a58c4" stroke-width="0.42"/>
<circle cx="646.74" cy="71.96" r="0.48" fill="none" stroke="#9a58c4" stroke-width="0.42"/>
<circle cx="643.86" cy="68.33" r="0.48" fill="none" stroke="#9a58c4" stroke-width="0.42"/>
<circle cx="646.78" cy="74.63" r="0.48" fill="none" stroke="#9a58c4" stroke-width="0.42"/>
<circle cx="648.49" cy="73.06" r="0.48" fill="none" stroke="#9a58c4" stroke-width="0.42"/>
<circle cx="647.81" cy="70.87" r="0.48" fill="none" stroke="#9a58c4" stroke-width="0.42"/>
<circle cx="648.48" cy="69.95" r="0.48" fill="none" stroke="#9a58c4" stroke-width="0.42"/>
<circle cx="648.75" cy="76.60" r="0.48" fill="none" stroke="#9a58c4" stroke-width="0.42"/>
<circle cx="645.75" cy="65.94" r="0.48" fill="none" stroke="#9a58c4" stroke-width="0.42"/>
<circle cx="649.34" cy="71.73" r="0.48" fill="none" stroke="#9a58c4" stroke-width="0.42"/>
<circle cx="649.01" cy="69.09" r="0.48" fill="none" stroke="#9a58c4" stroke-width="0.42"/>
<circle cx="643.10" cy="76.18" r="0.48" fill="none" stroke="#9a58c4" stroke-width="0.42"/>
<circle cx="644.66" cy="67.80" r="0.48" fill="none" stroke="#9a58c4" stroke-width="0.42"/>
<circle cx="644.70" cy="73.21" r="0.48" fill="none" stroke="#9a58c4" stroke-width="0.42"/>
<circle cx="641.54" cy="72.27" r="0.48" fill="none" stroke="#9a58c4" stroke-width="0.42"/>
<circle cx="645.34" cy="72.22" r="0.48" fill="none" stroke="#9a58c4" stroke-width="0.42"/>
<circle cx="642.54" cy="74.72" r="0.48" fill="none" stroke="#9a58c4" stroke-width="0.42"/>
<circle cx="648.53" cy="76.61" r="0.48" fill="none" stroke="#9a58c4" stroke-width="0.42"/>
<circle cx="644.27" cy="74.67" r="0.48" fill="none" stroke="#9a58c4" stroke-width="0.42"/>
<circle cx="644.79" cy="75.18" r="0.48" fill="none" stroke="#9a58c4" stroke-width="0.42"/>
<circle cx="649.72" cy="71.96" r="0.48" fill="none" stroke="#9a58c4" stroke-width="0.42"/>
<circle cx="645.92" cy="72.40" r="0.48" fill="none" stroke="#9a58c4" stroke-width="0.42"/>
<circle cx="646.13" cy="66.00" r="0.48" fill="none" stroke="#9a58c4" stroke-width="0.42"/>
<circle cx="643.66" cy="76.00" r="0.48" fill="none" stroke="#9a58c4" stroke-width="0.42"/>
<circle cx="647.52" cy="68.19" r="0.48" fill="none" stroke="#9a58c4" stroke-width="0.42"/>
<circle cx="641.65" cy="73.27" r="0.48" fill="none" stroke="#9a58c4" stroke-width="0.42"/>
<circle cx="646.47" cy="72.31" r="0.48" fill="none" stroke="#9a58c4" stroke-width="0.42"/>
<circle cx="647.55" cy="67.04" r="0.48" fill="none" stroke="#9a58c4" stroke-width="0.42"/>
<circle cx="648.99" cy="74.75" r="0.48" fill="none" stroke="#9a58c4" stroke-width="0.42"/>
<circle cx="645.75" cy="72.03" r="0.48" fill="none" stroke="#9a58c4" stroke-width="0.42"/>
<circle cx="643.91" cy="67.28" r="0.48" fill="none" stroke="#9a58c4" stroke-width="0.42"/>
<circle cx="645.00" cy="67.46" r="0.48" fill="none" stroke="#9a58c4" stroke-width="0.42"/>
<circle cx="646.60" cy="76.55" r="0.48" fill="none" stroke="#9a58c4" stroke-width="0.42"/>
<circle cx="642.77" cy="72.94" r="0.48" fill="none" stroke="#9a58c4" stroke-width="0.42"/>
<circle cx="647.93" cy="67.81" r="0.48" fill="none" stroke="#9a58c4" stroke-width="0.42"/>
<circle cx="630.75" cy="97.19" r="0.48" fill="none" stroke="#e0c040" stroke-width="0.42"/>
<circle cx="629.25" cy="99.76" r="0.48" fill="none" stroke="#e0c040" stroke-width="0.42"/>
<circle cx="627.27" cy="93.43" r="0.48" fill="none" stroke="#e0c040" stroke-width="0.42"/>
<circle cx="627.71" cy="93.51" r="0.48" fill="none" stroke="#e0c040" stroke-width="0.42"/>
<circle cx="626.10" cy="100.17" r="0.48" fill="none" stroke="#e0c040" stroke-width="0.42"/>
<circle cx="627.03" cy="93.28" r="0.48" fill="none" stroke="#e0c040" stroke-width="0.42"/>
<circle cx="625.84" cy="95.15" r="0.48" fill="none" stroke="#e0c040" stroke-width="0.42"/>
<circle cx="623.31" cy="97.34" r="0.48" fill="none" stroke="#e0c040" stroke-width="0.42"/>
<circle cx="621.14" cy="96.79" r="0.48" fill="none" stroke="#e0c040" stroke-width="0.42"/>
<circle cx="630.98" cy="95.97" r="0.48" fill="none" stroke="#e0c040" stroke-width="0.42"/>
<circle cx="622.88" cy="95.48" r="0.48" fill="none" stroke="#e0c040" stroke-width="0.42"/>
<circle cx="626.00" cy="92.23" r="0.48" fill="none" stroke="#e0c040" stroke-width="0.42"/>
<circle cx="623.17" cy="94.87" r="0.48" fill="none" stroke="#e0c040" stroke-width="0.42"/>
<circle cx="623.11" cy="93.20" r="0.48" fill="none" stroke="#e0c040" stroke-width="0.42"/>
<circle cx="620.75" cy="96.30" r="0.48" fill="none" stroke="#e0c040" stroke-width="0.42"/>
<circle cx="629.61" cy="96.95" r="0.48" fill="none" stroke="#e0c040" stroke-width="0.42"/>
<circle cx="626.43" cy="97.37" r="0.48" fill="none" stroke="#e0c040" stroke-width="0.42"/>
<circle cx="622.09" cy="97.98" r="0.48" fill="none" stroke="#e0c040" stroke-width="0.42"/>
<circle cx="625.14" cy="96.32" r="0.48" fill="none" stroke="#e0c040" stroke-width="0.42"/>
<circle cx="626.93" cy="95.51" r="0.48" fill="none" stroke="#e0c040" stroke-width="0.42"/>
<circle cx="623.37" cy="93.19" r="0.48" fill="none" stroke="#e0c040" stroke-width="0.42"/>
<circle cx="622.33" cy="95.96" r="0.48" fill="none" stroke="#e0c040" stroke-width="0.42"/>
<circle cx="624.23" cy="96.70" r="0.48" fill="none" stroke="#e0c040" stroke-width="0.42"/>
<circle cx="629.87" cy="93.15" r="0.48" fill="none" stroke="#e0c040" stroke-width="0.42"/>
<circle cx="626.27" cy="95.74" r="0.48" fill="none" stroke="#e0c040" stroke-width="0.42"/>
<circle cx="623.20" cy="98.61" r="0.48" fill="none" stroke="#e0c040" stroke-width="0.42"/>
<circle cx="629.98" cy="95.21" r="0.48" fill="none" stroke="#e0c040" stroke-width="0.42"/>
<circle cx="620.45" cy="94.68" r="0.48" fill="none" stroke="#e0c040" stroke-width="0.42"/>
<circle cx="624.90" cy="98.24" r="0.48" fill="none" stroke="#e0c040" stroke-width="0.42"/>
<circle cx="621.54" cy="94.16" r="0.48" fill="none" stroke="#e0c040" stroke-width="0.42"/>
<circle cx="623.87" cy="97.62" r="0.48" fill="none" stroke="#e0c040" stroke-width="0.42"/>
<circle cx="626.97" cy="99.41" r="0.48" fill="none" stroke="#e0c040" stroke-width="0.42"/>
<circle cx="629.39" cy="96.01" r="0.48" fill="none" stroke="#e0c040" stroke-width="0.42"/>
<circle cx="628.42" cy="98.32" r="0.48" fill="none" stroke="#e0c040" stroke-width="0.42"/>
<circle cx="628.66" cy="95.57" r="0.48" fill="none" stroke="#e0c040" stroke-width="0.42"/>
<circle cx="628.96" cy="97.96" r="0.48" fill="none" stroke="#e0c040" stroke-width="0.42"/>
<circle cx="628.73" cy="96.71" r="0.48" fill="none" stroke="#e0c040" stroke-width="0.42"/>
<circle cx="625.58" cy="100.56" r="0.48" fill="none" stroke="#e0c040" stroke-width="0.42"/>
<circle cx="626.45" cy="94.99" r="0.48" fill="none" stroke="#e0c040" stroke-width="0.42"/>
<circle cx="628.95" cy="99.64" r="0.48" fill="none" stroke="#e0c040" stroke-width="0.42"/>
<circle cx="626.87" cy="94.60" r="0.48" fill="none" stroke="#e0c040" stroke-width="0.42"/>
<circle cx="625.04" cy="95.40" r="0.48" fill="none" stroke="#e0c040" stroke-width="0.42"/>
<circle cx="628.23" cy="93.71" r="0.48" fill="none" stroke="#e0c040" stroke-width="0.42"/>
<circle cx="624.32" cy="96.39" r="0.48" fill="none" stroke="#e0c040" stroke-width="0.42"/>
<circle cx="624.24" cy="94.01" r="0.48" fill="none" stroke="#e0c040" stroke-width="0.42"/>
<circle cx="628.99" cy="99.40" r="0.48" fill="none" stroke="#e0c040" stroke-width="0.42"/>
<circle cx="625.60" cy="95.26" r="0.48" fill="none" stroke="#e0c040" stroke-width="0.42"/>
<circle cx="621.89" cy="93.82" r="0.48" fill="none" stroke="#e0c040" stroke-width="0.42"/>
<circle cx="621.42" cy="96.60" r="0.48" fill="none" stroke="#e0c040" stroke-width="0.42"/>
<circle cx="626.57" cy="91.61" r="0.48" fill="none" stroke="#e0c040" stroke-width="0.42"/>
<circle cx="629.65" cy="99.29" r="0.48" fill="none" stroke="#e0c040" stroke-width="0.42"/>
<circle cx="624.74" cy="100.03" r="0.48" fill="none" stroke="#e0c040" stroke-width="0.42"/>
<circle cx="626.37" cy="95.80" r="0.48" fill="none" stroke="#e0c040" stroke-width="0.42"/>
<circle cx="625.81" cy="96.00" r="0.48" fill="none" stroke="#e0c040" stroke-width="0.42"/>
<circle cx="627.79" cy="94.70" r="0.48" fill="none" stroke="#e0c040" stroke-width="0.42"/>
<circle cx="623.93" cy="96.80" r="0.48" fill="none" stroke="#e0c040" stroke-width="0.42"/>
<circle cx="623.85" cy="100.41" r="0.48" fill="none" stroke="#e0c040" stroke-width="0.42"/>
<circle cx="627.68" cy="96.09" r="0.48" fill="none" stroke="#e0c040" stroke-width="0.42"/>
<circle cx="620.88" cy="94.54" r="0.48" fill="none" stroke="#e0c040" stroke-width="0.42"/>
<circle cx="624.44" cy="96.46" r="0.48" fill="none" stroke="#e0c040" stroke-width="0.42"/>
<circle cx="626.48" cy="99.71" r="0.48" fill="none" stroke="#e0c040" stroke-width="0.42"/>
<circle cx="631.07" cy="95.69" r="0.48" fill="none" stroke="#e0c040" stroke-width="0.42"/>
<circle cx="624.90" cy="97.10" r="0.48" fill="none" stroke="#e0c040" stroke-width="0.42"/>
<circle cx="625.96" cy="99.06" r="0.48" fill="none" stroke="#e0c040" stroke-width="0.42"/>
<circle cx="621.73" cy="93.97" r="0.48" fill="none" stroke="#e0c040" stroke-width="0.42"/>
<circle cx="625.75" cy="91.84" r="0.48" fill="none" stroke="#e0c040" stroke-width="0.42"/>
<circle cx="630.25" cy="97.77" r="0.48" fill="none" stroke="#e0c040" stroke-width="0.42"/>
<circle cx="630.18" cy="95.02" r="0.48" fill="none" stroke="#e0c040" stroke-width="0.42"/>
<circle cx="621.56" cy="93.68" r="0.48" fill="none" stroke="#e0c040" stroke-width="0.42"/>
<circle cx="625.74" cy="95.88" r="0.48" fill="none" stroke="#e0c040" stroke-width="0.42"/>
<circle cx="647.05" cy="88.64" r="0.48" fill="none" stroke="#e0c040" stroke-width="0.42"/>
<circle cx="642.35" cy="91.13" r="0.48" fill="none" stroke="#e0c040" stroke-width="0.42"/>
<circle cx="640.09" cy="89.82" r="0.48" fill="none" stroke="#e0c040" stroke-width="0.42"/>
<circle cx="647.86" cy="83.15" r="0.48" fill="none" stroke="#e0c040" stroke-width="0.42"/>
<circle cx="644.20" cy="87.97" r="0.48" fill="none" stroke="#e0c040" stroke-width="0.42"/>
<circle cx="639.22" cy="89.23" r="0.48" fill="none" stroke="#e0c040" stroke-width="0.42"/>
<circle cx="645.85" cy="86.05" r="0.48" fill="none" stroke="#e0c040" stroke-width="0.42"/>
<circle cx="649.83" cy="81.94" r="0.48" fill="none" stroke="#e0c040" stroke-width="0.42"/>
<circle cx="644.73" cy="91.61" r="0.48" fill="none" stroke="#e0c040" stroke-width="0.42"/>
<circle cx="650.07" cy="84.86" r="0.48" fill="none" stroke="#e0c040" stroke-width="0.42"/>
<circle cx="648.88" cy="85.28" r="0.48" fill="none" stroke="#e0c040" stroke-width="0.42"/>
<circle cx="635.64" cy="92.70" r="0.48" fill="none" stroke="#e0c040" stroke-width="0.42"/>
<circle cx="646.02" cy="85.21" r="0.48" fill="none" stroke="#e0c040" stroke-width="0.42"/>
<circle cx="643.17" cy="85.71" r="0.48" fill="none" stroke="#e0c040" stroke-width="0.42"/>
<circle cx="634.68" cy="92.52" r="0.48" fill="none" stroke="#e0c040" stroke-width="0.42"/>
<circle cx="642.95" cy="88.87" r="0.48" fill="none" stroke="#e0c040" stroke-width="0.42"/>
<circle cx="640.27" cy="92.63" r="0.48" fill="none" stroke="#e0c040" stroke-width="0.42"/>
<circle cx="651.04" cy="84.60" r="0.48" fill="none" stroke="#e0c040" stroke-width="0.42"/>
<circle cx="648.95" cy="83.49" r="0.48" fill="none" stroke="#e0c040" stroke-width="0.42"/>
<circle cx="640.15" cy="92.32" r="0.48" fill="none" stroke="#e0c040" stroke-width="0.42"/>
<circle cx="643.91" cy="91.20" r="0.48" fill="none" stroke="#e0c040" stroke-width="0.42"/>
<circle cx="644.98" cy="85.71" r="0.48" fill="none" stroke="#e0c040" stroke-width="0.42"/>
<circle cx="636.15" cy="91.65" r="0.48" fill="none" stroke="#e0c040" stroke-width="0.42"/>
<circle cx="647.78" cy="85.11" r="0.48" fill="none" stroke="#e0c040" stroke-width="0.42"/>
<circle cx="636.85" cy="90.03" r="0.48" fill="none" stroke="#e0c040" stroke-width="0.42"/>
<circle cx="651.45" cy="82.23" r="0.48" fill="none" stroke="#e0c040" stroke-width="0.42"/>
<circle cx="643.03" cy="91.79" r="0.48" fill="none" stroke="#e0c040" stroke-width="0.42"/>
<circle cx="650.81" cy="82.65" r="0.48" fill="none" stroke="#e0c040" stroke-width="0.42"/>
<circle cx="641.09" cy="90.25" r="0.48" fill="none" stroke="#e0c040" stroke-width="0.42"/>
<circle cx="641.60" cy="93.44" r="0.48" fill="none" stroke="#e0c040" stroke-width="0.42"/>
<circle cx="637.97" cy="93.34" r="0.48" fill="none" stroke="#e0c040" stroke-width="0.42"/>
<circle cx="644.35" cy="83.57" r="0.48" fill="none" stroke="#e0c040" stroke-width="0.42"/>
<circle cx="648.69" cy="84.02" r="0.48" fill="none" stroke="#e0c040" stroke-width="0.42"/>
<circle cx="646.58" cy="83.37" r="0.48" fill="none" stroke="#e0c040" stroke-width="0.42"/>
<circle cx="652.26" cy="82.16" r="0.48" fill="none" stroke="#e0c040" stroke-width="0.42"/>
<circle cx="644.53" cy="87.83" r="0.48" fill="none" stroke="#e0c040" stroke-width="0.42"/>
<circle cx="639.31" cy="90.92" r="0.48" fill="none" stroke="#e0c040" stroke-width="0.42"/>
<circle cx="641.77" cy="89.38" r="0.48" fill="none" stroke="#e0c040" stroke-width="0.42"/>
<circle cx="645.71" cy="84.70" r="0.48" fill="none" stroke="#e0c040" stroke-width="0.42"/>
<circle cx="637.31" cy="91.99" r="0.48" fill="none" stroke="#e0c040" stroke-width="0.42"/>
<circle cx="640.40" cy="89.45" r="0.48" fill="none" stroke="#e0c040" stroke-width="0.42"/>
<circle cx="635.84" cy="88.09" r="0.48" fill="none" stroke="#e0c040" stroke-width="0.42"/>
<circle cx="641.27" cy="87.25" r="0.48" fill="none" stroke="#e0c040" stroke-width="0.42"/>
<circle cx="636.21" cy="90.18" r="0.48" fill="none" stroke="#e0c040" stroke-width="0.42"/>
<circle cx="639.57" cy="85.95" r="0.48" fill="none" stroke="#e0c040" stroke-width="0.42"/>
<circle cx="634.14" cy="89.67" r="0.48" fill="none" stroke="#e0c040" stroke-width="0.42"/>
<circle cx="647.77" cy="85.24" r="0.48" fill="none" stroke="#e0c040" stroke-width="0.42"/>
<circle cx="642.37" cy="89.40" r="0.48" fill="none" stroke="#e0c040" stroke-width="0.42"/>
<circle cx="648.53" cy="83.85" r="0.48" fill="none" stroke="#e0c040" stroke-width="0.42"/>
<circle cx="651.70" cy="85.25" r="0.48" fill="none" stroke="#e0c040" stroke-width="0.42"/>
<circle cx="647.02" cy="82.95" r="0.48" fill="none" stroke="#e0c040" stroke-width="0.42"/>
<circle cx="635.98" cy="92.82" r="0.48" fill="none" stroke="#e0c040" stroke-width="0.42"/>
<circle cx="640.02" cy="85.64" r="0.48" fill="none" stroke="#e0c040" stroke-width="0.42"/>
<circle cx="647.22" cy="82.93" r="0.48" fill="none" stroke="#e0c040" stroke-width="0.42"/>
<circle cx="648.91" cy="83.94" r="0.48" fill="none" stroke="#e0c040" stroke-width="0.42"/>
<circle cx="642.85" cy="89.74" r="0.48" fill="none" stroke="#e0c040" stroke-width="0.42"/>
<circle cx="635.89" cy="91.18" r="0.48" fill="none" stroke="#e0c040" stroke-width="0.42"/>
<circle cx="638.02" cy="92.85" r="0.48" fill="none" stroke="#e0c040" stroke-width="0.42"/>
<circle cx="649.61" cy="81.66" r="0.48" fill="none" stroke="#e0c040" stroke-width="0.42"/>
<circle cx="648.44" cy="85.81" r="0.48" fill="none" stroke="#e0c040" stroke-width="0.42"/>
<circle cx="647.00" cy="86.61" r="0.48" fill="none" stroke="#e0c040" stroke-width="0.42"/>
<circle cx="634.67" cy="89.93" r="0.48" fill="none" stroke="#e0c040" stroke-width="0.42"/>
<circle cx="642.71" cy="87.41" r="0.48" fill="none" stroke="#e0c040" stroke-width="0.42"/>
<circle cx="653.45" cy="82.22" r="0.48" fill="none" stroke="#e0c040" stroke-width="0.42"/>
<circle cx="649.88" cy="81.09" r="0.48" fill="none" stroke="#e0c040" stroke-width="0.42"/>
<circle cx="639.12" cy="87.88" r="0.48" fill="none" stroke="#e0c040" stroke-width="0.42"/>
<circle cx="645.19" cy="83.87" r="0.48" fill="none" stroke="#e0c040" stroke-width="0.42"/>
<circle cx="648.70" cy="89.55" r="0.48" fill="none" stroke="#e0c040" stroke-width="0.42"/>
<circle cx="644.58" cy="86.51" r="0.48" fill="none" stroke="#e0c040" stroke-width="0.42"/>
<circle cx="653.62" cy="85.24" r="0.48" fill="none" stroke="#e0c040" stroke-width="0.42"/>
<circle cx="639.94" cy="92.44" r="0.48" fill="none" stroke="#e0c040" stroke-width="0.42"/>
<circle cx="636.55" cy="88.10" r="0.48" fill="none" stroke="#e0c040" stroke-width="0.42"/>
<circle cx="640.67" cy="91.51" r="0.48" fill="none" stroke="#e0c040" stroke-width="0.42"/>
<circle cx="645.29" cy="90.77" r="0.48" fill="none" stroke="#e0c040" stroke-width="0.42"/>
<circle cx="637.14" cy="89.50" r="0.48" fill="none" stroke="#e0c040" stroke-width="0.42"/>
<circle cx="646.37" cy="86.73" r="0.48" fill="none" stroke="#e0c040" stroke-width="0.42"/>
<circle cx="637.74" cy="89.97" r="0.48" fill="none" stroke="#e0c040" stroke-width="0.42"/>
<circle cx="640.48" cy="86.83" r="0.48" fill="none" stroke="#e0c040" stroke-width="0.42"/>
<circle cx="635.31" cy="90.18" r="0.48" fill="none" stroke="#e0c040" stroke-width="0.42"/>
<circle cx="647.53" cy="83.89" r="0.48" fill="none" stroke="#e0c040" stroke-width="0.42"/>
<circle cx="634.09" cy="90.95" r="0.48" fill="none" stroke="#e0c040" stroke-width="0.42"/>
<circle cx="651.55" cy="84.50" r="0.48" fill="none" stroke="#e0c040" stroke-width="0.42"/>
<circle cx="637.49" cy="89.11" r="0.48" fill="none" stroke="#e0c040" stroke-width="0.42"/>
<circle cx="637.12" cy="91.09" r="0.48" fill="none" stroke="#e0c040" stroke-width="0.42"/>
<circle cx="651.24" cy="84.82" r="0.48" fill="none" stroke="#e0c040" stroke-width="0.42"/>
<circle cx="641.42" cy="87.94" r="0.48" fill="none" stroke="#e0c040" stroke-width="0.42"/>
<circle cx="641.44" cy="91.72" r="0.48" fill="none" stroke="#e0c040" stroke-width="0.42"/>
<circle cx="645.69" cy="88.98" r="0.48" fill="none" stroke="#e0c040" stroke-width="0.42"/>
<circle cx="644.13" cy="87.24" r="0.48" fill="none" stroke="#e0c040" stroke-width="0.42"/>
<circle cx="648.29" cy="82.71" r="0.48" fill="none" stroke="#e0c040" stroke-width="0.42"/>
<circle cx="650.42" cy="86.24" r="0.48" fill="none" stroke="#e0c040" stroke-width="0.42"/>
<circle cx="639.59" cy="89.43" r="0.48" fill="none" stroke="#e0c040" stroke-width="0.42"/>
<circle cx="644.56" cy="86.19" r="0.48" fill="none" stroke="#e0c040" stroke-width="0.42"/>
<circle cx="640.78" cy="86.42" r="0.48" fill="none" stroke="#e0c040" stroke-width="0.42"/>
<circle cx="652.94" cy="82.72" r="0.48" fill="none" stroke="#e0c040" stroke-width="0.42"/>
<circle cx="639.86" cy="86.48" r="0.48" fill="none" stroke="#e0c040" stroke-width="0.42"/>
<circle cx="645.61" cy="85.20" r="0.48" fill="none" stroke="#e0c040" stroke-width="0.42"/>
<circle cx="640.46" cy="86.72" r="0.48" fill="none" stroke="#e0c040" stroke-width="0.42"/>
<circle cx="650.94" cy="81.31" r="0.48" fill="none" stroke="#e0c040" stroke-width="0.42"/>
<circle cx="648.04" cy="88.72" r="0.48" fill="none" stroke="#e0c040" stroke-width="0.42"/>
<circle cx="639.89" cy="88.21" r="0.48" fill="none" stroke="#e0c040" stroke-width="0.42"/>
<circle cx="647.42" cy="84.54" r="0.48" fill="none" stroke="#e0c040" stroke-width="0.42"/>
<circle cx="640.88" cy="92.45" r="0.48" fill="none" stroke="#e0c040" stroke-width="0.42"/>
<circle cx="648.09" cy="86.54" r="0.48" fill="none" stroke="#e0c040" stroke-width="0.42"/>
<circle cx="635.33" cy="89.42" r="0.48" fill="none" stroke="#e0c040" stroke-width="0.42"/>
<circle cx="641.50" cy="88.34" r="0.48" fill="none" stroke="#e0c040" stroke-width="0.42"/>
<circle cx="642.45" cy="87.65" r="0.48" fill="none" stroke="#e0c040" stroke-width="0.42"/>
<circle cx="645.64" cy="85.85" r="0.48" fill="none" stroke="#e0c040" stroke-width="0.42"/>
<circle cx="635.91" cy="92.14" r="0.48" fill="none" stroke="#e0c040" stroke-width="0.42"/>
<circle cx="644.91" cy="83.90" r="0.48" fill="none" stroke="#e0c040" stroke-width="0.42"/>
<circle cx="644.02" cy="87.98" r="0.48" fill="none" stroke="#e0c040" stroke-width="0.42"/>
<circle cx="638.37" cy="88.23" r="0.48" fill="none" stroke="#e0c040" stroke-width="0.42"/>
<circle cx="642.95" cy="92.16" r="0.48" fill="none" stroke="#e0c040" stroke-width="0.42"/>
<circle cx="645.34" cy="90.15" r="0.48" fill="none" stroke="#e0c040" stroke-width="0.42"/>
<circle cx="649.77" cy="82.05" r="0.48" fill="none" stroke="#e0c040" stroke-width="0.42"/>
<circle cx="635.70" cy="91.71" r="0.48" fill="none" stroke="#e0c040" stroke-width="0.42"/>
<circle cx="650.16" cy="82.35" r="0.48" fill="none" stroke="#e0c040" stroke-width="0.42"/>
<circle cx="650.19" cy="81.28" r="0.48" fill="none" stroke="#e0c040" stroke-width="0.42"/>
<circle cx="648.71" cy="86.25" r="0.48" fill="none" stroke="#e0c040" stroke-width="0.42"/>
<circle cx="637.11" cy="90.56" r="0.48" fill="none" stroke="#e0c040" stroke-width="0.42"/>
<circle cx="640.84" cy="90.81" r="0.48" fill="none" stroke="#e0c040" stroke-width="0.42"/>
<circle cx="649.02" cy="81.09" r="0.48" fill="none" stroke="#e0c040" stroke-width="0.42"/>
<circle cx="646.48" cy="81.85" r="0.48" fill="none" stroke="#e0c040" stroke-width="0.42"/>
<circle cx="645.30" cy="91.34" r="0.48" fill="none" stroke="#e0c040" stroke-width="0.42"/>
<circle cx="635.93" cy="92.99" r="0.48" fill="none" stroke="#e0c040" stroke-width="0.42"/>
<circle cx="648.02" cy="83.94" r="0.48" fill="none" stroke="#e0c040" stroke-width="0.42"/>
<circle cx="635.87" cy="91.31" r="0.48" fill="none" stroke="#e0c040" stroke-width="0.42"/>
<circle cx="637.48" cy="87.98" r="0.48" fill="none" stroke="#e0c040" stroke-width="0.42"/>
<circle cx="639.74" cy="89.78" r="0.48" fill="none" stroke="#e0c040" stroke-width="0.42"/>
<circle cx="644.29" cy="92.29" r="0.48" fill="none" stroke="#e0c040" stroke-width="0.42"/>
<circle cx="650.71" cy="80.98" r="0.48" fill="none" stroke="#e0c040" stroke-width="0.42"/>
<circle cx="637.42" cy="91.55" r="0.48" fill="none" stroke="#e0c040" stroke-width="0.42"/>
<circle cx="648.11" cy="85.80" r="0.48" fill="none" stroke="#e0c040" stroke-width="0.42"/>
<circle cx="651.67" cy="85.81" r="0.48" fill="none" stroke="#e0c040" stroke-width="0.42"/>
<circle cx="638.15" cy="92.57" r="0.48" fill="none" stroke="#e0c040" stroke-width="0.42"/>
<circle cx="643.56" cy="88.29" r="0.48" fill="none" stroke="#e0c040" stroke-width="0.42"/>
<circle cx="641.84" cy="85.27" r="0.48" fill="none" stroke="#e0c040" stroke-width="0.42"/>
<circle cx="647.93" cy="84.18" r="0.48" fill="none" stroke="#e0c040" stroke-width="0.42"/>
<circle cx="639.38" cy="87.25" r="0.48" fill="none" stroke="#e0c040" stroke-width="0.42"/>
<circle cx="639.13" cy="88.18" r="0.48" fill="none" stroke="#e0c040" stroke-width="0.42"/>
<circle cx="656.43" cy="80.35" r="0.48" fill="none" stroke="#e0c040" stroke-width="0.42"/>
<circle cx="657.67" cy="79.81" r="0.48" fill="none" stroke="#e0c040" stroke-width="0.42"/>
<circle cx="657.37" cy="79.48" r="0.48" fill="none" stroke="#e0c040" stroke-width="0.42"/>
<circle cx="657.13" cy="79.59" r="0.48" fill="none" stroke="#e0c040" stroke-width="0.42"/>
<text x="663.3" y="67.6" font-size="5.0" fill="#4a78c4" text-anchor="start" font-weight="normal" textLength="20.6" lengthAdjust="spacingAndGlyphs" stroke="#4a78c4" stroke-width="0.12" >Cell type 1</text>
<text x="663.3" y="75.0" font-size="5.0" fill="#2a9a8a" text-anchor="start" font-weight="normal" textLength="20.6" lengthAdjust="spacingAndGlyphs" stroke="#2a9a8a" stroke-width="0.12" >Cell type 2</text>
<text x="663.3" y="82.6" font-size="5.0" fill="#9a58c4" text-anchor="start" font-weight="normal" textLength="20.6" lengthAdjust="spacingAndGlyphs" stroke="#9a58c4" stroke-width="0.12" >Cell type 3</text>
<text x="663.3" y="89.8" font-size="5.0" fill="#b0904a" text-anchor="start" font-weight="normal" textLength="21.2" lengthAdjust="spacingAndGlyphs" stroke="#b0904a" stroke-width="0.12" >Cell type N</text>
<text x="9.9" y="157.4" font-size="16" fill="#000" text-anchor="start" font-weight="normal" >b)</text>
<text x="78.5" y="170.9" font-size="9" fill="#000" text-anchor="middle" font-weight="normal" textLength="35.1" lengthAdjust="spacingAndGlyphs" stroke="#000" stroke-width="0.18" >Cell type</text>
<rect x="14.6" y="174.4" width="124.6" height="121.8" fill="none" stroke="#707070" stroke-width="1"/>
<text x="59.5" y="309.5" font-size="9" fill="#000" text-anchor="start" font-weight="normal" textLength="30.2" lengthAdjust="spacingAndGlyphs" stroke="#000" stroke-width="0.18" >UMAP1</text>
<text transform="translate(12.3,263) rotate(-90)" font-size="9.6" stroke="#000" stroke-width="0.18" textLength="30" lengthAdjust="spacingAndGlyphs">UMAP2</text>
<path d="M77.60,213.80 C79.37,212.38 82.33,211.83 85.20,210.80 C88.07,209.77 92.62,208.37 94.80,207.60 C96.98,206.83 97.20,206.37 98.30,206.20 C99.40,206.03 100.68,206.22 101.40,206.60 C102.12,206.98 102.43,207.30 102.60,208.50 C102.77,209.70 102.52,211.32 102.40,213.80 C102.28,216.28 102.27,220.62 101.90,223.40 C101.53,226.18 100.75,228.48 100.20,230.50 C99.65,232.52 99.10,234.35 98.60,235.50 C98.10,236.65 98.52,237.08 97.20,237.40 C95.88,237.72 92.82,237.77 90.70,237.40 C88.58,237.03 86.68,236.38 84.50,235.20 C82.32,234.02 79.37,231.92 77.60,230.30 C75.83,228.68 74.40,227.33 73.90,225.50 C73.40,223.67 73.98,221.25 74.60,219.30 C75.22,217.35 75.83,215.22 77.60,213.80Z" fill="#1f77b4" stroke="#1f77b4" stroke-width="0.8" stroke-linejoin="round"/>
<circle cx="77.50" cy="213.55" r="0.80" fill="#1f77b4"/>
<circle cx="79.69" cy="212.60" r="0.57" fill="#1f77b4"/>
<circle cx="80.73" cy="211.80" r="0.76" fill="#1f77b4"/>
<circle cx="82.78" cy="211.81" r="0.59" fill="#1f77b4"/>
<circle cx="83.42" cy="211.06" r="0.59" fill="#1f77b4"/>
<circle cx="86.42" cy="210.94" r="0.60" fill="#1f77b4"/>
<circle cx="88.37" cy="209.27" r="0.55" fill="#1f77b4"/>
<circle cx="89.91" cy="209.25" r="0.73" fill="#1f77b4"/>
<circle cx="91.13" cy="208.45" r="0.65" fill="#1f77b4"/>
<circle cx="92.77" cy="207.90" r="0.51" fill="#1f77b4"/>
<circle cx="93.18" cy="208.29" r="0.57" fill="#1f77b4"/>
<circle cx="95.14" cy="207.44" r="0.76" fill="#1f77b4"/>
<circle cx="97.32" cy="206.73" r="0.79" fill="#1f77b4"/>
<circle cx="99.66" cy="206.81" r="0.76" fill="#1f77b4"/>
<circle cx="101.37" cy="206.87" r="0.66" fill="#1f77b4"/>
<circle cx="102.71" cy="210.55" r="0.56" fill="#1f77b4"/>
<circle cx="102.81" cy="211.02" r="0.62" fill="#1f77b4"/>
<circle cx="102.23" cy="212.70" r="0.62" fill="#1f77b4"/>
<circle cx="102.55" cy="213.67" r="0.65" fill="#1f77b4"/>
<circle cx="101.98" cy="216.31" r="0.50" fill="#1f77b4"/>
<circle cx="102.23" cy="219.07" r="0.52" fill="#1f77b4"/>
<circle cx="102.37" cy="219.38" r="0.53" fill="#1f77b4"/>
<circle cx="101.62" cy="220.77" r="0.53" fill="#1f77b4"/>
<circle cx="101.82" cy="223.15" r="0.68" fill="#1f77b4"/>
<circle cx="101.85" cy="224.51" r="0.60" fill="#1f77b4"/>
<circle cx="100.87" cy="226.74" r="0.73" fill="#1f77b4"/>
<circle cx="100.49" cy="228.65" r="0.79" fill="#1f77b4"/>
<circle cx="100.17" cy="229.56" r="0.78" fill="#1f77b4"/>
<circle cx="99.54" cy="230.69" r="0.70" fill="#1f77b4"/>
<circle cx="99.09" cy="234.04" r="0.57" fill="#1f77b4"/>
<circle cx="98.24" cy="234.53" r="0.54" fill="#1f77b4"/>
<circle cx="98.52" cy="235.68" r="0.55" fill="#1f77b4"/>
<circle cx="95.51" cy="236.98" r="0.55" fill="#1f77b4"/>
<circle cx="94.88" cy="236.99" r="0.51" fill="#1f77b4"/>
<circle cx="92.38" cy="237.98" r="0.65" fill="#1f77b4"/>
<circle cx="91.10" cy="237.76" r="0.64" fill="#1f77b4"/>
<circle cx="90.68" cy="236.75" r="0.72" fill="#1f77b4"/>
<circle cx="89.22" cy="236.70" r="0.76" fill="#1f77b4"/>
<circle cx="87.58" cy="236.16" r="0.78" fill="#1f77b4"/>
<circle cx="84.74" cy="234.90" r="0.58" fill="#1f77b4"/>
<circle cx="84.06" cy="234.62" r="0.56" fill="#1f77b4"/>
<circle cx="82.24" cy="233.23" r="0.80" fill="#1f77b4"/>
<circle cx="81.52" cy="232.62" r="0.76" fill="#1f77b4"/>
<circle cx="78.88" cy="231.71" r="0.75" fill="#1f77b4"/>
<circle cx="78.39" cy="230.99" r="0.77" fill="#1f77b4"/>
<circle cx="77.62" cy="230.16" r="0.64" fill="#1f77b4"/>
<circle cx="76.11" cy="227.43" r="0.77" fill="#1f77b4"/>
<circle cx="75.02" cy="226.96" r="0.55" fill="#1f77b4"/>
<circle cx="74.70" cy="223.47" r="0.51" fill="#1f77b4"/>
<circle cx="74.73" cy="222.61" r="0.77" fill="#1f77b4"/>
<circle cx="74.69" cy="220.57" r="0.55" fill="#1f77b4"/>
<circle cx="74.79" cy="217.86" r="0.78" fill="#1f77b4"/>
<circle cx="76.77" cy="216.73" r="0.51" fill="#1f77b4"/>
<circle cx="77.19" cy="215.43" r="0.51" fill="#1f77b4"/>
<line x1="79.5" y1="223.2" x2="81.5" y2="222.2" stroke="#fff" stroke-width="0.7" stroke-linecap="round"/>
<line x1="83.2" y1="222.6" x2="85.6" y2="222.2" stroke="#fff" stroke-width="0.7" stroke-linecap="round"/>
<line x1="91.5" y1="220.2" x2="92.3" y2="218.6" stroke="#fff" stroke-width="0.7" stroke-linecap="round"/>
<line x1="94.2" y1="216.2" x2="95.2" y2="214.0" stroke="#fff" stroke-width="0.7" stroke-linecap="round"/>
<line x1="93.6" y1="213.2" x2="94.6" y2="211.6" stroke="#fff" stroke-width="0.7" stroke-linecap="round"/>
<line x1="87.2" y1="226.2" x2="88.4" y2="227.2" stroke="#fff" stroke-width="0.7" stroke-linecap="round"/>
<line x1="79.6" y1="227.0" x2="80.8" y2="226.6" stroke="#fff" stroke-width="0.7" stroke-linecap="round"/>
<line x1="86.0" y1="224.6" x2="86.8" y2="225.6" stroke="#fff" stroke-width="0.7" stroke-linecap="round"/>
<line x1="95.8" y1="218.6" x2="96.6" y2="217.4" stroke="#fff" stroke-width="0.7" stroke-linecap="round"/>
<line x1="90.2" y1="228.8" x2="91.0" y2="229.4" stroke="#fff" stroke-width="0.7" stroke-linecap="round"/>
<path d="M117.60,185.60 C118.40,184.67 122.57,183.17 124.50,183.10 C126.43,183.03 128.20,183.85 129.20,185.20 C130.20,186.55 130.35,189.05 130.50,191.20 C130.65,193.35 130.32,196.23 130.10,198.10 C129.88,199.97 129.85,201.75 129.20,202.40 C128.55,203.05 127.20,202.42 126.20,202.00 C125.20,201.58 123.85,201.12 123.20,199.90 C122.55,198.68 122.88,196.57 122.30,194.70 C121.72,192.83 120.48,190.22 119.70,188.70 C118.92,187.18 116.80,186.53 117.60,185.60Z" fill="#ff7f0e" stroke="#ff7f0e" stroke-width="0.8" stroke-linejoin="round"/>
<circle cx="118.15" cy="185.20" r="0.53" fill="#ff7f0e"/>
<circle cx="119.95" cy="184.74" r="0.76" fill="#ff7f0e"/>
<circle cx="121.24" cy="183.84" r="0.63" fill="#ff7f0e"/>
<circle cx="123.31" cy="183.19" r="0.72" fill="#ff7f0e"/>
<circle cx="124.82" cy="183.27" r="0.65" fill="#ff7f0e"/>
<circle cx="127.33" cy="184.10" r="0.79" fill="#ff7f0e"/>
<circle cx="129.29" cy="184.85" r="0.55" fill="#ff7f0e"/>
<circle cx="128.80" cy="185.18" r="0.65" fill="#ff7f0e"/>
<circle cx="129.88" cy="187.85" r="0.50" fill="#ff7f0e"/>
<circle cx="130.55" cy="190.63" r="0.66" fill="#ff7f0e"/>
<circle cx="131.01" cy="192.84" r="0.72" fill="#ff7f0e"/>
<circle cx="130.14" cy="193.52" r="0.79" fill="#ff7f0e"/>
<circle cx="130.12" cy="195.21" r="0.54" fill="#ff7f0e"/>
<circle cx="129.51" cy="198.23" r="0.78" fill="#ff7f0e"/>
<circle cx="130.12" cy="198.50" r="0.57" fill="#ff7f0e"/>
<circle cx="129.10" cy="201.09" r="0.74" fill="#ff7f0e"/>
<circle cx="125.93" cy="202.27" r="0.60" fill="#ff7f0e"/>
<circle cx="125.29" cy="201.10" r="0.79" fill="#ff7f0e"/>
<circle cx="124.99" cy="201.37" r="0.65" fill="#ff7f0e"/>
<circle cx="123.62" cy="198.55" r="0.69" fill="#ff7f0e"/>
<circle cx="122.53" cy="197.13" r="0.62" fill="#ff7f0e"/>
<circle cx="122.58" cy="195.73" r="0.60" fill="#ff7f0e"/>
<circle cx="121.94" cy="193.42" r="0.68" fill="#ff7f0e"/>
<circle cx="121.97" cy="192.77" r="0.72" fill="#ff7f0e"/>
<circle cx="120.63" cy="190.58" r="0.54" fill="#ff7f0e"/>
<circle cx="119.78" cy="188.84" r="0.66" fill="#ff7f0e"/>
<circle cx="118.53" cy="187.05" r="0.75" fill="#ff7f0e"/>
<circle cx="118.34" cy="186.83" r="0.77" fill="#ff7f0e"/>
<path d="M119.20,191.50 C119.48,190.68 120.83,190.35 121.50,190.60 C122.17,190.85 122.88,191.57 123.20,193.00 C123.52,194.43 123.85,198.10 123.40,199.20 C122.95,200.30 121.10,200.22 120.50,199.60 C119.90,198.98 120.02,196.85 119.80,195.50 C119.58,194.15 118.92,192.32 119.20,191.50Z" fill="#17becf" stroke="#17becf" stroke-width="0.8" stroke-linejoin="round"/>
<circle cx="120.74" cy="190.60" r="0.75" fill="#17becf"/>
<circle cx="122.51" cy="192.22" r="0.58" fill="#17becf"/>
<circle cx="123.06" cy="193.52" r="0.66" fill="#17becf"/>
<circle cx="122.88" cy="195.90" r="0.80" fill="#17becf"/>
<circle cx="123.33" cy="198.55" r="0.74" fill="#17becf"/>
<circle cx="120.85" cy="199.68" r="0.61" fill="#17becf"/>
<circle cx="120.06" cy="198.40" r="0.60" fill="#17becf"/>
<circle cx="119.53" cy="196.47" r="0.67" fill="#17becf"/>
<circle cx="119.46" cy="195.60" r="0.58" fill="#17becf"/>
<circle cx="119.14" cy="193.19" r="0.53" fill="#17becf"/>
<path d="M112.8,199 L116.4,192.6 M115.6,199.2 L119.6,191.4 M117.6,199.4 L120.6,193.4" fill="none" stroke="#17becf" stroke-width="1.7" stroke-linecap="round"/>
<path d="M41.00,233.10 C41.50,231.92 42.87,229.80 43.80,229.00 C44.73,228.20 45.68,227.97 46.60,228.30 C47.52,228.63 48.62,229.73 49.30,231.00 C49.98,232.27 50.12,234.75 50.70,235.90 C51.28,237.05 52.57,236.98 52.80,237.90 C53.03,238.82 52.33,240.37 52.10,241.40 C51.87,242.43 51.87,244.10 51.40,244.10 C50.93,244.10 50.10,241.97 49.30,241.40 C48.50,240.83 47.75,241.17 46.60,240.70 C45.45,240.23 43.37,239.37 42.40,238.60 C41.43,237.83 41.03,237.02 40.80,236.10 C40.57,235.18 40.50,234.28 41.00,233.10Z" fill="#d62728" stroke="#d62728" stroke-width="0.8" stroke-linejoin="round"/>
<circle cx="42.02" cy="231.87" r="0.63" fill="#d62728"/>
<circle cx="42.81" cy="230.50" r="0.51" fill="#d62728"/>
<circle cx="43.12" cy="230.02" r="0.59" fill="#d62728"/>
<circle cx="45.12" cy="229.09" r="0.61" fill="#d62728"/>
<circle cx="47.21" cy="229.33" r="0.56" fill="#d62728"/>
<circle cx="49.52" cy="230.81" r="0.70" fill="#d62728"/>
<circle cx="48.94" cy="231.85" r="0.61" fill="#d62728"/>
<circle cx="50.01" cy="233.97" r="0.73" fill="#d62728"/>
<circle cx="50.36" cy="234.26" r="0.64" fill="#d62728"/>
<circle cx="52.36" cy="237.55" r="0.77" fill="#d62728"/>
<circle cx="52.64" cy="238.68" r="0.75" fill="#d62728"/>
<circle cx="52.50" cy="240.71" r="0.51" fill="#d62728"/>
<circle cx="51.69" cy="243.56" r="0.73" fill="#d62728"/>
<circle cx="50.94" cy="243.43" r="0.75" fill="#d62728"/>
<circle cx="49.75" cy="242.92" r="0.67" fill="#d62728"/>
<circle cx="49.37" cy="241.61" r="0.64" fill="#d62728"/>
<circle cx="46.71" cy="240.54" r="0.68" fill="#d62728"/>
<circle cx="42.78" cy="239.05" r="0.54" fill="#d62728"/>
<circle cx="41.89" cy="237.17" r="0.80" fill="#d62728"/>
<circle cx="40.57" cy="235.05" r="0.58" fill="#d62728"/>
<path d="M45.20,246.90 C46.00,245.87 49.10,244.45 50.70,244.80 C52.30,245.15 54.45,247.62 54.80,249.00 C55.15,250.38 53.72,252.07 52.80,253.10 C51.88,254.13 50.45,255.55 49.30,255.20 C48.15,254.85 46.58,252.38 45.90,251.00 C45.22,249.62 44.40,247.93 45.20,246.90Z" fill="#aa40fc" stroke="#aa40fc" stroke-width="0.8" stroke-linejoin="round"/>
<circle cx="46.84" cy="246.31" r="0.63" fill="#aa40fc"/>
<circle cx="46.89" cy="246.60" r="0.74" fill="#aa40fc"/>
<circle cx="50.15" cy="244.54" r="0.52" fill="#aa40fc"/>
<circle cx="51.28" cy="245.51" r="0.65" fill="#aa40fc"/>
<circle cx="52.70" cy="247.38" r="0.56" fill="#aa40fc"/>
<circle cx="54.76" cy="248.35" r="0.59" fill="#aa40fc"/>
<circle cx="54.16" cy="250.17" r="0.60" fill="#aa40fc"/>
<circle cx="53.88" cy="251.36" r="0.71" fill="#aa40fc"/>
<circle cx="51.51" cy="253.89" r="0.78" fill="#aa40fc"/>
<circle cx="50.73" cy="254.09" r="0.63" fill="#aa40fc"/>
<circle cx="48.03" cy="254.74" r="0.52" fill="#aa40fc"/>
<circle cx="47.11" cy="253.47" r="0.67" fill="#aa40fc"/>
<circle cx="46.12" cy="251.49" r="0.70" fill="#aa40fc"/>
<circle cx="45.45" cy="250.80" r="0.54" fill="#aa40fc"/>
<circle cx="44.88" cy="246.59" r="0.53" fill="#aa40fc"/>
<path d="M62.80,232.80 C63.40,232.55 64.30,232.88 64.80,233.50 C65.30,234.12 65.52,235.58 65.80,236.50 C66.08,237.42 65.88,238.17 66.50,239.00 C67.12,239.83 68.83,240.67 69.50,241.50 C70.17,242.33 70.42,243.33 70.50,244.00 C70.58,244.67 69.67,245.17 70.00,245.50 C70.33,245.83 71.90,245.58 72.50,246.00 C73.10,246.42 73.68,247.42 73.60,248.00 C73.52,248.58 72.60,249.33 72.00,249.50 C71.40,249.67 70.42,248.58 70.00,249.00 C69.58,249.42 69.92,251.17 69.50,252.00 C69.08,252.83 68.17,253.83 67.50,254.00 C66.83,254.17 65.92,253.67 65.50,253.00 C65.08,252.33 64.92,251.00 65.00,250.00 C65.08,249.00 66.08,248.00 66.00,247.00 C65.92,246.00 65.13,244.92 64.50,244.00 C63.87,243.08 62.78,242.50 62.20,241.50 C61.62,240.50 61.17,239.08 61.00,238.00 C60.83,236.92 60.90,235.87 61.20,235.00 C61.50,234.13 62.20,233.05 62.80,232.80Z" fill="#e377c2" stroke="#e377c2" stroke-width="0.8" stroke-linejoin="round"/>
<circle cx="64.82" cy="233.26" r="0.70" fill="#e377c2"/>
<circle cx="65.46" cy="234.46" r="0.55" fill="#e377c2"/>
<circle cx="66.04" cy="236.18" r="0.75" fill="#e377c2"/>
<circle cx="66.67" cy="239.45" r="0.60" fill="#e377c2"/>
<circle cx="68.49" cy="241.36" r="0.60" fill="#e377c2"/>
<circle cx="69.99" cy="243.90" r="0.79" fill="#e377c2"/>
<circle cx="69.84" cy="244.47" r="0.69" fill="#e377c2"/>
<circle cx="70.60" cy="245.21" r="0.64" fill="#e377c2"/>
<circle cx="73.23" cy="247.64" r="0.53" fill="#e377c2"/>
<circle cx="71.90" cy="249.67" r="0.80" fill="#e377c2"/>
<circle cx="70.15" cy="248.82" r="0.60" fill="#e377c2"/>
<circle cx="69.62" cy="251.68" r="0.53" fill="#e377c2"/>
<circle cx="68.89" cy="253.07" r="0.66" fill="#e377c2"/>
<circle cx="66.96" cy="253.68" r="0.77" fill="#e377c2"/>
<circle cx="64.80" cy="250.89" r="0.51" fill="#e377c2"/>
<circle cx="66.07" cy="248.05" r="0.78" fill="#e377c2"/>
<circle cx="65.06" cy="245.85" r="0.63" fill="#e377c2"/>
<circle cx="65.31" cy="244.81" r="0.74" fill="#e377c2"/>
<circle cx="63.73" cy="243.69" r="0.53" fill="#e377c2"/>
<circle cx="63.00" cy="242.16" r="0.64" fill="#e377c2"/>
<circle cx="62.19" cy="241.04" r="0.69" fill="#e377c2"/>
<circle cx="61.60" cy="239.37" r="0.61" fill="#e377c2"/>
<circle cx="60.80" cy="235.68" r="0.78" fill="#e377c2"/>
<circle cx="62.07" cy="234.64" r="0.64" fill="#e377c2"/>
<circle cx="63.90" cy="237.00" r="0.8" fill="#fff"/>
<path d="M81.00,255.90 C81.70,254.98 84.98,252.63 86.60,252.40 C88.22,252.17 89.53,254.47 90.70,254.50 C91.87,254.53 92.60,251.92 93.60,252.60 C94.60,253.28 96.73,256.57 96.70,258.60 C96.67,260.63 94.63,263.88 93.40,264.80 C92.17,265.72 91.13,265.25 89.30,264.10 C87.47,262.95 83.78,259.27 82.40,257.90 C81.02,256.53 80.30,256.82 81.00,255.90Z" fill="#279e68" stroke="#279e68" stroke-width="0.8" stroke-linejoin="round"/>
<circle cx="80.72" cy="256.22" r="0.54" fill="#279e68"/>
<circle cx="83.14" cy="254.13" r="0.64" fill="#279e68"/>
<circle cx="84.07" cy="254.01" r="0.61" fill="#279e68"/>
<circle cx="85.36" cy="252.75" r="0.54" fill="#279e68"/>
<circle cx="87.54" cy="252.65" r="0.77" fill="#279e68"/>
<circle cx="89.21" cy="253.45" r="0.74" fill="#279e68"/>
<circle cx="91.75" cy="253.63" r="0.73" fill="#279e68"/>
<circle cx="92.09" cy="252.84" r="0.62" fill="#279e68"/>
<circle cx="93.75" cy="253.85" r="0.53" fill="#279e68"/>
<circle cx="94.50" cy="255.08" r="0.74" fill="#279e68"/>
<circle cx="95.18" cy="256.36" r="0.68" fill="#279e68"/>
<circle cx="96.14" cy="258.72" r="0.71" fill="#279e68"/>
<circle cx="95.84" cy="260.24" r="0.64" fill="#279e68"/>
<circle cx="94.53" cy="262.11" r="0.62" fill="#279e68"/>
<circle cx="94.22" cy="262.02" r="0.72" fill="#279e68"/>
<circle cx="93.25" cy="264.12" r="0.54" fill="#279e68"/>
<circle cx="92.66" cy="264.53" r="0.79" fill="#279e68"/>
<circle cx="89.66" cy="264.08" r="0.65" fill="#279e68"/>
<circle cx="88.71" cy="263.44" r="0.69" fill="#279e68"/>
<circle cx="87.80" cy="263.03" r="0.74" fill="#279e68"/>
<circle cx="86.67" cy="261.32" r="0.55" fill="#279e68"/>
<circle cx="84.03" cy="259.48" r="0.54" fill="#279e68"/>
<circle cx="83.16" cy="258.60" r="0.72" fill="#279e68"/>
<circle cx="81.60" cy="256.34" r="0.63" fill="#279e68"/>
<path d="M111.12,242.00 C111.06,243.07 110.55,244.27 109.85,245.08 C109.15,245.90 107.88,246.87 106.91,246.90 C105.93,246.93 105.02,245.79 104.02,245.27 C103.02,244.75 101.28,244.56 100.91,243.77 C100.54,242.98 101.40,241.58 101.80,240.54 C102.20,239.50 102.51,237.87 103.31,237.55 C104.11,237.24 105.48,238.47 106.62,238.66 C107.76,238.84 109.41,238.11 110.16,238.67 C110.91,239.22 111.17,240.93 111.12,242.00Z" fill="#b5bd61" stroke="#b5bd61" stroke-width="0.8" stroke-linejoin="round"/>
<circle cx="110.32" cy="243.62" r="0.57" fill="#b5bd61"/>
<circle cx="110.31" cy="243.53" r="0.65" fill="#b5bd61"/>
<circle cx="108.74" cy="246.16" r="0.62" fill="#b5bd61"/>
<circle cx="107.58" cy="246.93" r="0.78" fill="#b5bd61"/>
<circle cx="105.60" cy="245.73" r="0.70" fill="#b5bd61"/>
<circle cx="104.06" cy="245.52" r="0.75" fill="#b5bd61"/>
<circle cx="102.19" cy="244.66" r="0.50" fill="#b5bd61"/>
<circle cx="102.67" cy="244.34" r="0.68" fill="#b5bd61"/>
<circle cx="100.92" cy="242.69" r="0.61" fill="#b5bd61"/>
<circle cx="101.87" cy="240.54" r="0.53" fill="#b5bd61"/>
<circle cx="102.25" cy="240.07" r="0.70" fill="#b5bd61"/>
<circle cx="102.71" cy="238.06" r="0.51" fill="#b5bd61"/>
<circle cx="104.29" cy="237.73" r="0.79" fill="#b5bd61"/>
<circle cx="105.23" cy="238.77" r="0.68" fill="#b5bd61"/>
<circle cx="108.07" cy="238.66" r="0.79" fill="#b5bd61"/>
<circle cx="109.87" cy="238.29" r="0.75" fill="#b5bd61"/>
<circle cx="110.27" cy="238.34" r="0.55" fill="#b5bd61"/>
<circle cx="111.03" cy="242.28" r="0.58" fill="#b5bd61"/>
<path d="M101.20,252.60 C101.37,251.87 102.57,249.87 103.20,249.60 C103.83,249.33 104.40,250.50 105.00,251.00 C105.60,251.50 106.72,252.10 106.80,252.60 C106.88,253.10 106.27,253.77 105.50,254.00 C104.73,254.23 102.92,254.23 102.20,254.00 C101.48,253.77 101.03,253.33 101.20,252.60Z" fill="#98df8a" stroke="#98df8a" stroke-width="0.8" stroke-linejoin="round"/>
<circle cx="101.07" cy="252.13" r="0.76" fill="#98df8a"/>
<circle cx="102.57" cy="250.84" r="0.77" fill="#98df8a"/>
<circle cx="103.89" cy="250.68" r="0.63" fill="#98df8a"/>
<circle cx="106.56" cy="252.73" r="0.69" fill="#98df8a"/>
<circle cx="106.34" cy="253.34" r="0.77" fill="#98df8a"/>
<circle cx="104.51" cy="254.57" r="0.52" fill="#98df8a"/>
<circle cx="102.69" cy="254.07" r="0.63" fill="#98df8a"/>
<circle cx="101.92" cy="253.22" r="0.72" fill="#98df8a"/>
<path d="M111.60,222.50 C111.27,221.55 112.02,218.38 112.50,217.50 C112.98,216.62 113.92,216.45 114.50,217.20 C115.08,217.95 116.00,221.00 116.00,222.00 C116.00,223.00 115.23,223.12 114.50,223.20 C113.77,223.28 111.93,223.45 111.60,222.50Z" fill="#ffbb78" stroke="#ffbb78" stroke-width="0.8" stroke-linejoin="round"/>
<circle cx="111.40" cy="222.01" r="0.79" fill="#ffbb78"/>
<circle cx="111.74" cy="219.45" r="0.67" fill="#ffbb78"/>
<circle cx="112.08" cy="219.39" r="0.69" fill="#ffbb78"/>
<circle cx="113.38" cy="217.17" r="0.66" fill="#ffbb78"/>
<circle cx="115.28" cy="218.05" r="0.74" fill="#ffbb78"/>
<circle cx="115.19" cy="220.44" r="0.71" fill="#ffbb78"/>
<circle cx="115.58" cy="221.10" r="0.67" fill="#ffbb78"/>
<circle cx="115.11" cy="222.81" r="0.54" fill="#ffbb78"/>
<circle cx="113.46" cy="222.43" r="0.72" fill="#ffbb78"/>
<path d="M119.60,218.00 C119.93,217.33 121.15,217.08 122.00,217.00 C122.85,216.92 124.27,216.77 124.70,217.50 C125.13,218.23 125.38,220.82 124.60,221.40 C123.82,221.98 120.83,221.57 120.00,221.00 C119.17,220.43 119.27,218.67 119.60,218.00Z" fill="#ffbb78" stroke="#ffbb78" stroke-width="0.8" stroke-linejoin="round"/>
<circle cx="119.78" cy="217.29" r="0.59" fill="#ffbb78"/>
<circle cx="123.59" cy="217.75" r="0.56" fill="#ffbb78"/>
<circle cx="125.22" cy="217.74" r="0.60" fill="#ffbb78"/>
<circle cx="124.16" cy="220.02" r="0.62" fill="#ffbb78"/>
<circle cx="124.27" cy="221.04" r="0.56" fill="#ffbb78"/>
<circle cx="120.15" cy="221.42" r="0.69" fill="#ffbb78"/>
<circle cx="119.47" cy="218.25" r="0.73" fill="#ffbb78"/>
<path d="M121.30,223.40 C121.27,223.00 123.12,225.00 124.00,225.00 C124.88,225.00 126.57,223.00 126.60,223.40 C126.63,223.80 125.08,227.40 124.20,227.40 C123.32,227.40 121.33,223.80 121.30,223.40Z" fill="#ffbb78" stroke="#ffbb78" stroke-width="0.8" stroke-linejoin="round"/>
<circle cx="122.64" cy="224.36" r="0.73" fill="#ffbb78"/>
<circle cx="124.55" cy="225.06" r="0.66" fill="#ffbb78"/>
<circle cx="126.41" cy="223.69" r="0.73" fill="#ffbb78"/>
<circle cx="125.74" cy="225.56" r="0.61" fill="#ffbb78"/>
<circle cx="123.01" cy="225.84" r="0.52" fill="#ffbb78"/>
<circle cx="123.01" cy="225.55" r="0.62" fill="#ffbb78"/>
<circle cx="121.02" cy="223.42" r="0.69" fill="#ffbb78"/>
<path d="M118.43,243.00 C118.45,243.24 118.09,243.56 117.84,243.75 C117.60,243.95 117.29,244.13 116.97,244.19 C116.64,244.24 116.16,244.22 115.90,244.08 C115.65,243.94 115.59,243.61 115.45,243.36 C115.32,243.10 115.02,242.78 115.09,242.54 C115.17,242.30 115.61,242.02 115.92,241.93 C116.22,241.84 116.62,241.94 116.92,242.00 C117.22,242.07 117.46,242.16 117.71,242.33 C117.97,242.50 118.41,242.76 118.43,243.00Z" fill="#ffbb78" stroke="#ffbb78" stroke-width="0.8" stroke-linejoin="round"/>
<circle cx="117.78" cy="243.23" r="0.76" fill="#ffbb78"/>
<circle cx="117.40" cy="244.19" r="0.77" fill="#ffbb78"/>
<circle cx="116.63" cy="243.65" r="0.62" fill="#ffbb78"/>
<circle cx="116.10" cy="243.92" r="0.67" fill="#ffbb78"/>
<circle cx="115.40" cy="242.76" r="0.75" fill="#ffbb78"/>
<circle cx="116.15" cy="241.64" r="0.70" fill="#ffbb78"/>
<circle cx="116.68" cy="242.46" r="0.77" fill="#ffbb78"/>
<circle cx="117.90" cy="242.43" r="0.76" fill="#ffbb78"/>
<circle cx="118.05" cy="242.66" r="0.68" fill="#ffbb78"/>
<path d="M118.3,224.4 L115,227 L114.6,229 L114.8,234.5 L112,237.5" fill="none" stroke="#aec7e8" stroke-width="1.2" stroke-linecap="round"/>
<path d="M117.4,256 L116.4,259.5 L117.5,262 L123.4,263.7" fill="none" stroke="#aec7e8" stroke-width="1.4" stroke-linecap="round"/>
<path d="M133.60,233.30 C133.60,234.12 133.25,235.11 132.89,235.75 C132.52,236.40 131.94,237.11 131.40,237.18 C130.86,237.25 130.03,236.81 129.67,236.16 C129.30,235.51 129.17,234.20 129.20,233.30 C129.24,232.40 129.50,231.37 129.87,230.77 C130.23,230.17 130.90,229.70 131.40,229.71 C131.90,229.72 132.53,230.23 132.89,230.83 C133.26,231.43 133.60,232.48 133.60,233.30Z" fill="#8c564b" stroke="#8c564b" stroke-width="0.8" stroke-linejoin="round"/>
<circle cx="133.69" cy="235.32" r="0.61" fill="#8c564b"/>
<circle cx="131.33" cy="237.16" r="0.60" fill="#8c564b"/>
<circle cx="131.55" cy="236.74" r="0.58" fill="#8c564b"/>
<circle cx="129.58" cy="236.06" r="0.74" fill="#8c564b"/>
<circle cx="129.62" cy="232.73" r="0.57" fill="#8c564b"/>
<circle cx="130.64" cy="229.90" r="0.67" fill="#8c564b"/>
<circle cx="132.08" cy="229.60" r="0.75" fill="#8c564b"/>
<circle cx="133.51" cy="232.26" r="0.73" fill="#8c564b"/>
<path d="M99.50,279.20 C99.95,278.38 101.35,278.22 102.00,278.60 C102.65,278.98 103.30,280.60 103.40,281.50 C103.50,282.40 102.47,283.25 102.60,284.00 C102.73,284.75 104.33,284.92 104.20,286.00 C104.07,287.08 102.90,289.77 101.80,290.50 C100.70,291.23 98.20,291.15 97.60,290.40 C97.00,289.65 97.92,287.15 98.20,286.00 C98.48,284.85 99.08,284.63 99.30,283.50 C99.52,282.37 99.05,280.02 99.50,279.20Z" fill="#8c564b" stroke="#8c564b" stroke-width="0.8" stroke-linejoin="round"/>
<circle cx="99.58" cy="279.09" r="0.52" fill="#8c564b"/>
<circle cx="102.71" cy="279.62" r="0.62" fill="#8c564b"/>
<circle cx="103.16" cy="280.46" r="0.76" fill="#8c564b"/>
<circle cx="102.97" cy="284.54" r="0.60" fill="#8c564b"/>
<circle cx="103.66" cy="285.95" r="0.54" fill="#8c564b"/>
<circle cx="104.06" cy="286.93" r="0.64" fill="#8c564b"/>
<circle cx="102.75" cy="287.90" r="0.58" fill="#8c564b"/>
<circle cx="102.73" cy="289.31" r="0.63" fill="#8c564b"/>
<circle cx="101.63" cy="290.13" r="0.58" fill="#8c564b"/>
<circle cx="98.76" cy="290.99" r="0.72" fill="#8c564b"/>
<circle cx="98.39" cy="288.58" r="0.72" fill="#8c564b"/>
<circle cx="97.57" cy="287.48" r="0.76" fill="#8c564b"/>
<circle cx="99.15" cy="283.91" r="0.61" fill="#8c564b"/>
<circle cx="99.48" cy="283.74" r="0.59" fill="#8c564b"/>
<circle cx="99.01" cy="281.08" r="0.77" fill="#8c564b"/>
<path d="M21.72,195.40 C21.73,195.60 21.28,196.00 21.04,196.05 C20.80,196.11 20.41,195.89 20.28,195.73 C20.15,195.57 20.16,195.22 20.28,195.07 C20.40,194.92 20.76,194.79 21.00,194.85 C21.24,194.90 21.72,195.20 21.72,195.40Z" fill="#ff9896" stroke="#ff9896" stroke-width="0.8" stroke-linejoin="round"/>
<circle cx="21.16" cy="196.49" r="0.77" fill="#ff9896"/>
<circle cx="20.41" cy="196.18" r="0.54" fill="#ff9896"/>
<circle cx="20.36" cy="195.67" r="0.56" fill="#ff9896"/>
<circle cx="19.89" cy="195.50" r="0.71" fill="#ff9896"/>
<circle cx="22.26" cy="195.29" r="0.72" fill="#ff9896"/>
<path d="M57.74,203.00 C57.76,203.44 57.62,204.25 57.34,204.50 C57.06,204.76 56.31,204.77 56.06,204.52 C55.80,204.27 55.76,203.42 55.80,203.00 C55.84,202.58 56.06,202.20 56.28,202.02 C56.51,201.83 56.93,201.72 57.17,201.89 C57.41,202.05 57.71,202.56 57.74,203.00Z" fill="#e377c2" stroke="#e377c2" stroke-width="0.8" stroke-linejoin="round"/>
<circle cx="57.36" cy="203.29" r="0.75" fill="#e377c2"/>
<circle cx="56.29" cy="203.97" r="0.77" fill="#e377c2"/>
<circle cx="55.41" cy="203.50" r="0.69" fill="#e377c2"/>
<circle cx="56.21" cy="202.30" r="0.56" fill="#e377c2"/>
<circle cx="56.99" cy="201.84" r="0.53" fill="#e377c2"/>
<circle cx="57.06" cy="202.18" r="0.64" fill="#e377c2"/>
<path d="M95.03,180.50 C95.04,180.65 94.76,180.95 94.53,181.01 C94.31,181.06 93.81,180.96 93.68,180.82 C93.55,180.69 93.62,180.33 93.75,180.21 C93.88,180.10 94.26,180.08 94.47,180.13 C94.68,180.17 95.02,180.35 95.03,180.50Z" fill="#c49c94" stroke="#c49c94" stroke-width="0.8" stroke-linejoin="round"/>
<circle cx="94.13" cy="180.83" r="0.62" fill="#c49c94"/>
<circle cx="94.21" cy="180.57" r="0.69" fill="#c49c94"/>
<circle cx="93.69" cy="179.97" r="0.77" fill="#c49c94"/>
<circle cx="93.66" cy="179.85" r="0.80" fill="#c49c94"/>
<circle cx="94.47" cy="180.56" r="0.75" fill="#c49c94"/>
<path d="M87.67,238.60 C87.66,238.86 87.23,239.29 86.95,239.35 C86.66,239.40 86.14,239.10 85.98,238.92 C85.81,238.74 85.79,238.46 85.96,238.27 C86.12,238.08 86.70,237.72 86.98,237.78 C87.27,237.83 87.67,238.34 87.67,238.60Z" fill="#e377c2" stroke="#e377c2" stroke-width="0.8" stroke-linejoin="round"/>
<circle cx="86.53" cy="238.66" r="0.57" fill="#e377c2"/>
<circle cx="85.71" cy="239.15" r="0.78" fill="#e377c2"/>
<circle cx="86.47" cy="238.22" r="0.55" fill="#e377c2"/>
<circle cx="86.28" cy="237.79" r="0.79" fill="#e377c2"/>
<circle cx="87.09" cy="238.73" r="0.55" fill="#e377c2"/>
<path d="M62.00,230.00 C61.99,230.19 61.74,230.39 61.55,230.46 C61.36,230.53 60.97,230.55 60.84,230.40 C60.72,230.26 60.69,229.76 60.82,229.58 C60.95,229.40 61.43,229.24 61.62,229.31 C61.82,229.38 62.02,229.81 62.00,230.00Z" fill="#c5b0d5" stroke="#c5b0d5" stroke-width="0.8" stroke-linejoin="round"/>
<circle cx="62.42" cy="230.07" r="0.75" fill="#c5b0d5"/>
<circle cx="61.34" cy="230.54" r="0.74" fill="#c5b0d5"/>
<circle cx="60.31" cy="230.39" r="0.59" fill="#c5b0d5"/>
<circle cx="60.55" cy="229.77" r="0.51" fill="#c5b0d5"/>
<circle cx="62.31" cy="229.83" r="0.54" fill="#c5b0d5"/>
<circle cx="90.50" cy="237.80" r="0.7" fill="#17becf"/>
<rect x="143.5" y="173.5" width="227.7" height="121" fill="#fff" stroke="#ccc" stroke-width="1"/>
<text x="245.6" y="168.6" font-size="9" fill="#000" text-anchor="middle" font-weight="normal" textLength="35" lengthAdjust="spacingAndGlyphs" stroke="#000" stroke-width="0.18" >Cell type</text>
<circle cx="151.50" cy="184.90" r="2.6" fill="#1f77b4"/>
<text x="160.2" y="188.5" font-size="8.2" fill="#111" text-anchor="start" font-weight="bold" stroke="#111" stroke-width="0.08" >Retinal rod cell</text>
<circle cx="151.50" cy="199.44" r="2.6" fill="#ff7f0e"/>
<text x="160.2" y="203.04" font-size="8.2" fill="#111" text-anchor="start" font-weight="bold" stroke="#111" stroke-width="0.08" >M&#252;ller cell</text>
<circle cx="151.50" cy="213.98" r="2.6" fill="#279e68"/>
<text x="159.8" y="217.57999999999998" font-size="8.2" fill="#111" text-anchor="start" font-weight="bold" stroke="#111" stroke-width="0.08" >Retinal cone cell</text>
<circle cx="151.50" cy="228.52" r="2.6" fill="#d62728"/>
<text x="160.2" y="232.12" font-size="8.2" fill="#111" text-anchor="start" font-weight="bold" stroke="#111" stroke-width="0.08" >T cell</text>
<circle cx="151.50" cy="243.06" r="2.6" fill="#aa40fc"/>
<text x="160.2" y="246.66" font-size="8.2" fill="#111" text-anchor="start" font-weight="bold" stroke="#111" stroke-width="0.08" >NK cell</text>
<circle cx="151.50" cy="257.60" r="2.6" fill="#8c564b"/>
<text x="158.2" y="261.20000000000005" font-size="8.2" fill="#111" text-anchor="start" font-weight="bold" stroke="#111" stroke-width="0.08" >OFF-bipolar cell</text>
<circle cx="151.50" cy="272.14" r="2.6" fill="#e377c2"/>
<text x="158.2" y="275.74" font-size="8.2" fill="#111" text-anchor="start" font-weight="bold" stroke="#111" stroke-width="0.08" >Microglia cell</text>
<circle cx="151.50" cy="286.68" r="2.6" fill="#b5bd61"/>
<text x="157.6" y="290.28000000000003" font-size="8.2" fill="#111" text-anchor="start" font-weight="bold" stroke="#111" stroke-width="0.08" >Scgn-bipolar cell</text>
<circle cx="244.90" cy="184.90" r="2.6" fill="#17becf"/>
<text x="254.6" y="188.4" font-size="8.2" fill="#111" text-anchor="start" font-weight="bold" stroke="#111" stroke-width="0.08" >Reactive M&#252;ller cell</text>
<circle cx="244.90" cy="199.44" r="2.6" fill="#aec7e8"/>
<text x="254.6" y="202.94" font-size="8.2" fill="#111" text-anchor="start" font-weight="bold" stroke="#111" stroke-width="0.08" >Rod bipolar cell</text>
<circle cx="244.90" cy="213.98" r="2.6" fill="#ffbb78"/>
<text x="254.6" y="217.48" font-size="8.2" fill="#111" text-anchor="start" font-weight="bold" stroke="#111" stroke-width="0.08" >ON- bipolar cell</text>
<circle cx="244.90" cy="228.52" r="2.6" fill="#98df8a"/>
<text x="254.6" y="232.02" font-size="8.2" fill="#111" text-anchor="start" font-weight="bold" stroke="#111" stroke-width="0.08" >Amacrine cell</text>
<circle cx="244.90" cy="243.06" r="2.6" fill="#ff9896"/>
<text x="254.6" y="246.56" font-size="8.2" fill="#111" text-anchor="start" font-weight="bold" stroke="#111" stroke-width="0.08" >B cell</text>
<circle cx="244.90" cy="257.60" r="2.6" fill="#c5b0d5"/>
<text x="254.6" y="261.1" font-size="8.2" fill="#111" text-anchor="start" font-weight="bold" stroke="#111" stroke-width="0.08" >not annotated</text>
<circle cx="244.90" cy="272.14" r="2.6" fill="#c49c94"/>
<text x="252.8" y="275.64" font-size="8.2" fill="#111" text-anchor="start" font-weight="bold" stroke="#111" stroke-width="0.08" >Retinal pigment epithelial cell</text>
<text x="378.2" y="163.6" font-size="16" fill="#000" text-anchor="start" font-weight="normal" letter-spacing="0.6">c)</text>
<text x="451.3" y="177.2" font-size="9" fill="#000" text-anchor="middle" font-weight="normal" textLength="50.5" lengthAdjust="spacingAndGlyphs" stroke="#000" stroke-width="0.18" >CONDITION</text>
<rect x="393.5" y="180.7" width="119.8" height="108.6" fill="none" stroke="#707070" stroke-width="1"/>
<text x="429.6" y="299.5" font-size="9" fill="#000" text-anchor="start" font-weight="normal" textLength="29.7" lengthAdjust="spacingAndGlyphs" stroke="#000" stroke-width="0.18" >UMAP1</text>
<text transform="translate(391.6,245.3) rotate(-90)" font-size="9.6" stroke="#000" stroke-width="0.18" textLength="30.8" lengthAdjust="spacingAndGlyphs">UMAP2</text>
<path d="M491.50,190.00 C491.97,189.00 492.92,188.03 494.00,187.50 C495.08,186.97 496.67,186.80 498.00,186.80 C499.33,186.80 500.92,186.97 502.00,187.50 C503.08,188.03 503.92,188.75 504.50,190.00 C505.08,191.25 505.25,193.17 505.50,195.00 C505.75,196.83 506.08,199.37 506.00,201.00 C505.92,202.63 505.58,204.02 505.00,204.80 C504.42,205.58 503.42,205.83 502.50,205.70 C501.58,205.57 500.17,205.03 499.50,204.00 C498.83,202.97 499.08,200.58 498.50,199.50 C497.92,198.42 496.92,198.08 496.00,197.50 C495.08,196.92 493.80,196.67 493.00,196.00 C492.20,195.33 491.45,194.50 491.20,193.50 C490.95,192.50 491.03,191.00 491.50,190.00Z" fill="#1f77b4" stroke="#1f77b4" stroke-width="0.8" stroke-linejoin="round"/>
<circle cx="491.96" cy="189.10" r="0.53" fill="#1f77b4"/>
<circle cx="494.03" cy="187.35" r="0.53" fill="#1f77b4"/>
<circle cx="495.88" cy="187.66" r="0.53" fill="#1f77b4"/>
<circle cx="496.50" cy="187.34" r="0.54" fill="#1f77b4"/>
<circle cx="499.79" cy="187.33" r="0.50" fill="#1f77b4"/>
<circle cx="499.69" cy="187.41" r="0.68" fill="#1f77b4"/>
<circle cx="502.60" cy="188.04" r="0.68" fill="#1f77b4"/>
<circle cx="504.56" cy="189.84" r="0.74" fill="#1f77b4"/>
<circle cx="505.21" cy="191.78" r="0.51" fill="#1f77b4"/>
<circle cx="505.48" cy="192.72" r="0.76" fill="#1f77b4"/>
<circle cx="505.76" cy="193.56" r="0.71" fill="#1f77b4"/>
<circle cx="505.30" cy="195.32" r="0.60" fill="#1f77b4"/>
<circle cx="505.61" cy="197.77" r="0.70" fill="#1f77b4"/>
<circle cx="506.30" cy="201.27" r="0.80" fill="#1f77b4"/>
<circle cx="505.35" cy="202.13" r="0.62" fill="#1f77b4"/>
<circle cx="505.17" cy="203.40" r="0.78" fill="#1f77b4"/>
<circle cx="504.50" cy="205.43" r="0.77" fill="#1f77b4"/>
<circle cx="501.35" cy="204.55" r="0.75" fill="#1f77b4"/>
<circle cx="500.68" cy="204.42" r="0.66" fill="#1f77b4"/>
<circle cx="498.61" cy="201.86" r="0.69" fill="#1f77b4"/>
<circle cx="499.26" cy="200.43" r="0.77" fill="#1f77b4"/>
<circle cx="498.20" cy="198.32" r="0.56" fill="#1f77b4"/>
<circle cx="497.38" cy="197.63" r="0.58" fill="#1f77b4"/>
<circle cx="495.51" cy="196.57" r="0.63" fill="#1f77b4"/>
<circle cx="493.70" cy="196.53" r="0.73" fill="#1f77b4"/>
<circle cx="492.26" cy="194.81" r="0.71" fill="#1f77b4"/>
<circle cx="490.94" cy="193.69" r="0.69" fill="#1f77b4"/>
<circle cx="491.63" cy="190.83" r="0.71" fill="#1f77b4"/>
<path d="M471.00,208.80 C472.42,207.63 476.97,207.53 478.00,209.60 C479.03,211.67 477.72,217.72 477.20,221.20 C476.68,224.68 475.67,228.17 474.90,230.50 C474.13,232.83 474.02,234.28 472.60,235.20 C471.18,236.12 467.57,236.52 466.40,236.00 C465.23,235.48 465.22,233.53 465.60,232.10 C465.98,230.67 468.05,229.98 468.70,227.40 C469.35,224.82 469.12,219.70 469.50,216.60 C469.88,213.50 469.58,209.97 471.00,208.80Z" fill="#1f77b4" stroke="#1f77b4" stroke-width="0.8" stroke-linejoin="round"/>
<circle cx="471.01" cy="208.34" r="0.50" fill="#1f77b4"/>
<circle cx="472.95" cy="208.61" r="0.65" fill="#1f77b4"/>
<circle cx="476.42" cy="209.12" r="0.73" fill="#1f77b4"/>
<circle cx="476.08" cy="209.20" r="0.62" fill="#1f77b4"/>
<circle cx="477.86" cy="211.02" r="0.53" fill="#1f77b4"/>
<circle cx="477.59" cy="213.20" r="0.51" fill="#1f77b4"/>
<circle cx="477.35" cy="214.71" r="0.74" fill="#1f77b4"/>
<circle cx="477.31" cy="215.09" r="0.56" fill="#1f77b4"/>
<circle cx="477.03" cy="217.92" r="0.68" fill="#1f77b4"/>
<circle cx="476.97" cy="218.55" r="0.53" fill="#1f77b4"/>
<circle cx="477.06" cy="221.35" r="0.67" fill="#1f77b4"/>
<circle cx="476.58" cy="221.03" r="0.76" fill="#1f77b4"/>
<circle cx="477.24" cy="223.14" r="0.72" fill="#1f77b4"/>
<circle cx="476.56" cy="224.88" r="0.61" fill="#1f77b4"/>
<circle cx="475.11" cy="227.45" r="0.74" fill="#1f77b4"/>
<circle cx="475.09" cy="229.49" r="0.57" fill="#1f77b4"/>
<circle cx="474.41" cy="230.66" r="0.61" fill="#1f77b4"/>
<circle cx="473.61" cy="233.52" r="0.52" fill="#1f77b4"/>
<circle cx="473.26" cy="234.35" r="0.51" fill="#1f77b4"/>
<circle cx="471.23" cy="235.27" r="0.71" fill="#1f77b4"/>
<circle cx="469.88" cy="235.47" r="0.55" fill="#1f77b4"/>
<circle cx="467.92" cy="235.34" r="0.52" fill="#1f77b4"/>
<circle cx="466.22" cy="235.82" r="0.67" fill="#1f77b4"/>
<circle cx="465.64" cy="234.20" r="0.67" fill="#1f77b4"/>
<circle cx="467.05" cy="231.17" r="0.53" fill="#1f77b4"/>
<circle cx="467.64" cy="228.74" r="0.55" fill="#1f77b4"/>
<circle cx="468.22" cy="227.11" r="0.58" fill="#1f77b4"/>
<circle cx="468.78" cy="226.01" r="0.52" fill="#1f77b4"/>
<circle cx="468.68" cy="224.43" r="0.70" fill="#1f77b4"/>
<circle cx="468.56" cy="223.73" r="0.64" fill="#1f77b4"/>
<circle cx="468.54" cy="221.86" r="0.65" fill="#1f77b4"/>
<circle cx="469.20" cy="220.44" r="0.66" fill="#1f77b4"/>
<circle cx="469.40" cy="218.10" r="0.70" fill="#1f77b4"/>
<circle cx="469.92" cy="216.85" r="0.72" fill="#1f77b4"/>
<circle cx="470.04" cy="213.46" r="0.55" fill="#1f77b4"/>
<circle cx="470.45" cy="212.74" r="0.52" fill="#1f77b4"/>
<circle cx="470.15" cy="210.25" r="0.54" fill="#1f77b4"/>
<path d="M458.30,253.70 C458.60,252.37 461.27,249.50 463.00,249.50 C464.73,249.50 467.12,252.68 468.70,253.70 C470.28,254.72 472.18,254.48 472.50,255.60 C472.82,256.72 471.70,259.45 470.60,260.40 C469.50,261.35 467.47,261.78 465.90,261.30 C464.33,260.82 462.47,258.77 461.20,257.50 C459.93,256.23 458.00,255.03 458.30,253.70Z" fill="#1f77b4" stroke="#1f77b4" stroke-width="0.8" stroke-linejoin="round"/>
<circle cx="458.90" cy="253.53" r="0.78" fill="#1f77b4"/>
<circle cx="460.71" cy="251.15" r="0.78" fill="#1f77b4"/>
<circle cx="461.77" cy="250.59" r="0.78" fill="#1f77b4"/>
<circle cx="464.29" cy="250.16" r="0.56" fill="#1f77b4"/>
<circle cx="465.26" cy="252.03" r="0.64" fill="#1f77b4"/>
<circle cx="466.73" cy="251.62" r="0.62" fill="#1f77b4"/>
<circle cx="467.97" cy="252.44" r="0.61" fill="#1f77b4"/>
<circle cx="469.40" cy="253.25" r="0.68" fill="#1f77b4"/>
<circle cx="471.03" cy="254.97" r="0.71" fill="#1f77b4"/>
<circle cx="472.10" cy="255.36" r="0.79" fill="#1f77b4"/>
<circle cx="471.34" cy="257.47" r="0.67" fill="#1f77b4"/>
<circle cx="470.14" cy="259.90" r="0.55" fill="#1f77b4"/>
<circle cx="469.17" cy="260.55" r="0.77" fill="#1f77b4"/>
<circle cx="467.13" cy="261.70" r="0.58" fill="#1f77b4"/>
<circle cx="464.31" cy="259.57" r="0.77" fill="#1f77b4"/>
<circle cx="463.59" cy="259.65" r="0.59" fill="#1f77b4"/>
<circle cx="461.70" cy="257.45" r="0.66" fill="#1f77b4"/>
<circle cx="460.34" cy="256.07" r="0.65" fill="#1f77b4"/>
<circle cx="459.27" cy="255.57" r="0.68" fill="#1f77b4"/>
<path d="M473.80,274.50 C474.62,272.93 476.38,273.18 477.50,273.60 C478.62,274.02 480.05,275.52 480.50,277.00 C480.95,278.48 480.95,281.17 480.20,282.50 C479.45,283.83 477.27,284.92 476.00,285.00 C474.73,285.08 472.97,284.75 472.60,283.00 C472.23,281.25 472.98,276.07 473.80,274.50Z" fill="#1f77b4" stroke="#1f77b4" stroke-width="0.8" stroke-linejoin="round"/>
<circle cx="475.76" cy="274.69" r="0.56" fill="#1f77b4"/>
<circle cx="476.27" cy="274.10" r="0.55" fill="#1f77b4"/>
<circle cx="478.24" cy="274.46" r="0.61" fill="#1f77b4"/>
<circle cx="480.00" cy="275.68" r="0.72" fill="#1f77b4"/>
<circle cx="480.40" cy="278.35" r="0.74" fill="#1f77b4"/>
<circle cx="480.37" cy="279.06" r="0.71" fill="#1f77b4"/>
<circle cx="479.85" cy="282.40" r="0.74" fill="#1f77b4"/>
<circle cx="479.79" cy="283.24" r="0.56" fill="#1f77b4"/>
<circle cx="478.78" cy="284.15" r="0.57" fill="#1f77b4"/>
<circle cx="476.20" cy="284.98" r="0.73" fill="#1f77b4"/>
<circle cx="475.45" cy="284.53" r="0.58" fill="#1f77b4"/>
<circle cx="473.80" cy="283.85" r="0.63" fill="#1f77b4"/>
<circle cx="472.72" cy="283.40" r="0.67" fill="#1f77b4"/>
<circle cx="473.17" cy="280.62" r="0.55" fill="#1f77b4"/>
<circle cx="472.62" cy="278.99" r="0.55" fill="#1f77b4"/>
<circle cx="473.96" cy="277.59" r="0.75" fill="#1f77b4"/>
<circle cx="473.88" cy="275.35" r="0.79" fill="#1f77b4"/>
<path d="M477.60,238.50 C478.15,237.60 480.30,236.43 481.50,236.60 C482.70,236.77 484.72,238.55 484.80,239.50 C484.88,240.45 483.10,241.88 482.00,242.30 C480.90,242.72 478.93,242.63 478.20,242.00 C477.47,241.37 477.05,239.40 477.60,238.50Z" fill="#1f77b4" stroke="#1f77b4" stroke-width="0.8" stroke-linejoin="round"/>
<circle cx="478.30" cy="238.07" r="0.58" fill="#1f77b4"/>
<circle cx="481.27" cy="237.19" r="0.76" fill="#1f77b4"/>
<circle cx="482.11" cy="236.87" r="0.66" fill="#1f77b4"/>
<circle cx="484.07" cy="238.59" r="0.50" fill="#1f77b4"/>
<circle cx="484.79" cy="239.15" r="0.57" fill="#1f77b4"/>
<circle cx="483.28" cy="241.86" r="0.51" fill="#1f77b4"/>
<circle cx="482.30" cy="242.85" r="0.54" fill="#1f77b4"/>
<circle cx="479.49" cy="241.88" r="0.63" fill="#1f77b4"/>
<circle cx="477.77" cy="240.63" r="0.53" fill="#1f77b4"/>
<circle cx="477.36" cy="240.11" r="0.71" fill="#1f77b4"/>
<path d="M487.00,219.50 C487.22,218.70 488.37,217.75 488.80,218.00 C489.23,218.25 489.82,220.20 489.60,221.00 C489.38,221.80 487.93,223.05 487.50,222.80 C487.07,222.55 486.78,220.30 487.00,219.50Z" fill="#1f77b4" stroke="#1f77b4" stroke-width="0.8" stroke-linejoin="round"/>
<circle cx="487.71" cy="219.29" r="0.60" fill="#1f77b4"/>
<circle cx="488.94" cy="219.82" r="0.67" fill="#1f77b4"/>
<circle cx="489.22" cy="221.25" r="0.62" fill="#1f77b4"/>
<circle cx="487.10" cy="221.85" r="0.74" fill="#1f77b4"/>
<circle cx="487.30" cy="220.75" r="0.71" fill="#1f77b4"/>
<path d="M494.60,219.60 C494.68,219.07 495.82,218.50 496.50,218.40 C497.18,218.30 498.38,218.50 498.70,219.00 C499.02,219.50 498.85,220.97 498.40,221.40 C497.95,221.83 496.63,221.90 496.00,221.60 C495.37,221.30 494.52,220.13 494.60,219.60Z" fill="#1f77b4" stroke="#1f77b4" stroke-width="0.8" stroke-linejoin="round"/>
<circle cx="496.36" cy="218.42" r="0.53" fill="#1f77b4"/>
<circle cx="498.01" cy="218.51" r="0.56" fill="#1f77b4"/>
<circle cx="498.21" cy="220.51" r="0.57" fill="#1f77b4"/>
<circle cx="497.72" cy="221.48" r="0.72" fill="#1f77b4"/>
<circle cx="496.14" cy="221.31" r="0.59" fill="#1f77b4"/>
<path d="M495.8,222.8 L497,225.4 L499.6,226.0 L501.4,225.0" fill="none" stroke="#1f77b4" stroke-width="1.6" stroke-linecap="round"/>
<path d="M503.80,229.60 C504.02,228.97 505.57,228.55 506.30,229.20 C507.03,229.85 508.08,232.50 508.20,233.50 C508.32,234.50 507.53,235.28 507.00,235.20 C506.47,235.12 505.53,233.93 505.00,233.00 C504.47,232.07 503.58,230.23 503.80,229.60Z" fill="#1f77b4" stroke="#1f77b4" stroke-width="0.8" stroke-linejoin="round"/>
<circle cx="505.55" cy="229.44" r="0.77" fill="#1f77b4"/>
<circle cx="506.34" cy="229.77" r="0.58" fill="#1f77b4"/>
<circle cx="507.18" cy="231.91" r="0.75" fill="#1f77b4"/>
<circle cx="507.71" cy="234.95" r="0.59" fill="#1f77b4"/>
<circle cx="506.55" cy="234.15" r="0.68" fill="#1f77b4"/>
<circle cx="504.59" cy="232.86" r="0.55" fill="#1f77b4"/>
<circle cx="504.14" cy="229.69" r="0.56" fill="#1f77b4"/>
<path d="M488.60,228.60 C489.13,228.13 490.67,228.13 491.20,229.00 C491.73,229.87 492.17,232.83 491.80,233.80 C491.43,234.77 489.63,235.13 489.00,234.80 C488.37,234.47 488.07,232.83 488.00,231.80 C487.93,230.77 488.07,229.07 488.60,228.60Z" fill="#1f77b4" stroke="#1f77b4" stroke-width="0.8" stroke-linejoin="round"/>
<circle cx="488.92" cy="228.66" r="0.61" fill="#1f77b4"/>
<circle cx="491.37" cy="230.37" r="0.53" fill="#1f77b4"/>
<circle cx="491.32" cy="230.70" r="0.58" fill="#1f77b4"/>
<circle cx="491.51" cy="233.12" r="0.64" fill="#1f77b4"/>
<circle cx="490.02" cy="234.41" r="0.63" fill="#1f77b4"/>
<circle cx="488.42" cy="232.11" r="0.53" fill="#1f77b4"/>
<circle cx="488.25" cy="230.89" r="0.51" fill="#1f77b4"/>
<circle cx="488.92" cy="228.33" r="0.64" fill="#1f77b4"/>
<path d="M476.50,248.60 C477.33,248.13 480.58,248.17 481.50,248.60 C482.42,249.03 482.83,250.73 482.00,251.20 C481.17,251.67 477.42,251.83 476.50,251.40 C475.58,250.97 475.67,249.07 476.50,248.60Z" fill="#1f77b4" stroke="#1f77b4" stroke-width="0.8" stroke-linejoin="round"/>
<circle cx="477.37" cy="248.25" r="0.73" fill="#1f77b4"/>
<circle cx="479.40" cy="248.27" r="0.62" fill="#1f77b4"/>
<circle cx="480.36" cy="248.24" r="0.59" fill="#1f77b4"/>
<circle cx="481.59" cy="250.28" r="0.52" fill="#1f77b4"/>
<circle cx="481.72" cy="251.48" r="0.55" fill="#1f77b4"/>
<circle cx="480.06" cy="251.22" r="0.60" fill="#1f77b4"/>
<circle cx="477.90" cy="251.72" r="0.54" fill="#1f77b4"/>
<circle cx="476.69" cy="250.99" r="0.77" fill="#1f77b4"/>
<path d="M476.60,249.00 C476.77,248.70 479.60,248.87 480.00,249.20 C480.40,249.53 479.57,251.03 479.00,251.00 C478.43,250.97 476.43,249.30 476.60,249.00Z" fill="#1f77b4" stroke="#1f77b4" stroke-width="0.8" stroke-linejoin="round"/>
<circle cx="477.77" cy="249.13" r="0.59" fill="#1f77b4"/>
<circle cx="479.26" cy="249.33" r="0.54" fill="#1f77b4"/>
<circle cx="480.17" cy="249.23" r="0.74" fill="#1f77b4"/>
<circle cx="477.99" cy="250.13" r="0.64" fill="#1f77b4"/>
<path d="M490.4,252.8 L490.2,257.5 L493,260 L498.5,261" fill="none" stroke="#1f77b4" stroke-width="2" stroke-linecap="round"/>
<path d="M504.2,230.2 L508.2,234.5" fill="none" stroke="#1f77b4" stroke-width="2.2" stroke-linecap="round"/>
<path d="M488.00,233.00 C488.52,232.53 490.90,232.37 491.50,232.80 C492.10,233.23 492.12,235.13 491.60,235.60 C491.08,236.07 489.00,236.03 488.40,235.60 C487.80,235.17 487.48,233.47 488.00,233.00Z" fill="#1f77b4" stroke="#1f77b4" stroke-width="0.8" stroke-linejoin="round"/>
<circle cx="489.52" cy="233.11" r="0.60" fill="#1f77b4"/>
<circle cx="490.20" cy="232.79" r="0.56" fill="#1f77b4"/>
<circle cx="491.73" cy="234.19" r="0.67" fill="#1f77b4"/>
<circle cx="491.74" cy="235.66" r="0.77" fill="#1f77b4"/>
<circle cx="488.37" cy="235.81" r="0.75" fill="#1f77b4"/>
<circle cx="488.21" cy="234.83" r="0.61" fill="#1f77b4"/>
<circle cx="399.30" cy="198.60" r="1.1" fill="#1f77b4"/>
<circle cx="470.30" cy="185.50" r="0.9" fill="#1f77b4"/>
<circle cx="490.40" cy="196.40" r="1.1" fill="#1f77b4"/>
<circle cx="487.80" cy="201.80" r="1.0" fill="#1f77b4"/>
<circle cx="468.70" cy="215.30" r="0.9" fill="#1f77b4"/>
<circle cx="462.50" cy="233.90" r="0.9" fill="#1f77b4"/>
<circle cx="461.70" cy="238.30" r="1.0" fill="#1f77b4"/>
<circle cx="426.90" cy="235.70" r="0.9" fill="#1f77b4"/>
<circle cx="432.10" cy="248.00" r="0.9" fill="#1f77b4"/>
<circle cx="445.60" cy="248.00" r="0.9" fill="#1f77b4"/>
<circle cx="445.60" cy="250.50" r="0.9" fill="#1f77b4"/>
<circle cx="484.00" cy="243.70" r="1.0" fill="#1f77b4"/>
<circle cx="461.80" cy="238.60" r="0.9" fill="#1f77b4"/>
<circle cx="463.50" cy="238.40" r="0.8" fill="#1f77b4"/>
<circle cx="432.40" cy="247.80" r="0.9" fill="#1f77b4"/>
<circle cx="489.50" cy="233.80" r="0.9" fill="#1f77b4"/>
<circle cx="484.50" cy="234.00" r="0.8" fill="#1f77b4"/>
<path d="M435.10,205.30 C435.07,205.73 434.61,206.22 434.24,206.42 C433.88,206.62 433.34,206.68 432.91,206.50 C432.48,206.31 431.68,205.72 431.67,205.30 C431.66,204.88 432.37,204.22 432.84,203.98 C433.30,203.73 434.08,203.60 434.45,203.82 C434.83,204.04 435.14,204.87 435.10,205.30Z" fill="#1f77b4" stroke="#1f77b4" stroke-width="0.8" stroke-linejoin="round"/>
<circle cx="434.65" cy="205.98" r="0.78" fill="#1f77b4"/>
<circle cx="433.76" cy="206.75" r="0.73" fill="#1f77b4"/>
<circle cx="431.61" cy="205.71" r="0.61" fill="#1f77b4"/>
<circle cx="432.21" cy="204.24" r="0.60" fill="#1f77b4"/>
<circle cx="433.98" cy="204.26" r="0.75" fill="#1f77b4"/>
<circle cx="434.59" cy="205.65" r="0.72" fill="#1f77b4"/>
<path d="M491.77,233.60 C491.78,233.90 491.19,234.42 490.72,234.53 C490.26,234.64 489.51,234.43 488.96,234.27 C488.42,234.11 487.49,233.86 487.45,233.60 C487.41,233.34 488.20,232.85 488.73,232.71 C489.26,232.57 490.12,232.61 490.63,232.75 C491.14,232.90 491.75,233.30 491.77,233.60Z" fill="#1f77b4" stroke="#1f77b4" stroke-width="0.8" stroke-linejoin="round"/>
<circle cx="491.75" cy="234.25" r="0.76" fill="#1f77b4"/>
<circle cx="490.15" cy="234.18" r="0.53" fill="#1f77b4"/>
<circle cx="487.90" cy="234.41" r="0.57" fill="#1f77b4"/>
<circle cx="487.02" cy="233.83" r="0.56" fill="#1f77b4"/>
<circle cx="489.49" cy="233.09" r="0.79" fill="#1f77b4"/>
<circle cx="491.14" cy="233.49" r="0.64" fill="#1f77b4"/>
<circle cx="465.80" cy="309.10" r="1.1" fill="#1f77b4"/>
<text x="481.5" y="313.1" font-size="11.4" fill="#4a8fd8" text-anchor="start" font-weight="normal" textLength="36.8" lengthAdjust="spacingAndGlyphs" >Control</text>
<text x="538.0" y="164.5" font-size="16" fill="#000" text-anchor="start" font-weight="normal" >d)</text>
<text x="618.5" y="180.3" font-size="9" fill="#000" text-anchor="middle" font-weight="normal" textLength="50.5" lengthAdjust="spacingAndGlyphs" stroke="#000" stroke-width="0.18" >CONDITION</text>
<rect x="556.7" y="183.1" width="114.1" height="109.6" fill="none" stroke="#707070" stroke-width="1"/>
<text x="587.7" y="304.6" font-size="9" fill="#000" text-anchor="start" font-weight="normal" textLength="29.9" lengthAdjust="spacingAndGlyphs" stroke="#000" stroke-width="0.18" >UMAP1</text>
<text transform="translate(551.7,248.3) rotate(-90)" font-size="9.6" stroke="#000" stroke-width="0.18" textLength="30.4" lengthAdjust="spacingAndGlyphs">UMAP2</text>
<path d="M610.30,228.40 C610.13,227.03 610.78,224.85 611.40,223.30 C612.02,221.75 612.45,220.48 614.00,219.10 C615.55,217.72 618.70,215.93 620.70,215.00 C622.70,214.07 624.45,213.85 626.00,213.50 C627.55,213.15 629.00,213.13 630.00,212.90 C631.00,212.67 631.05,212.10 632.00,212.10 C632.95,212.10 635.00,212.25 635.70,212.90 C636.40,213.55 636.20,214.62 636.20,216.00 C636.20,217.38 636.05,219.13 635.70,221.20 C635.35,223.27 634.53,226.17 634.10,228.40 C633.67,230.63 633.62,232.87 633.10,234.60 C632.58,236.33 632.03,238.02 631.00,238.80 C629.97,239.58 628.10,239.38 626.90,239.30 C625.70,239.22 625.35,238.90 623.80,238.30 C622.25,237.70 619.50,236.83 617.60,235.70 C615.70,234.57 613.62,232.72 612.40,231.50 C611.18,230.28 610.47,229.77 610.30,228.40Z" fill="#ff7f0e" stroke="#ff7f0e" stroke-width="0.8" stroke-linejoin="round"/>
<circle cx="610.91" cy="226.64" r="0.76" fill="#ff7f0e"/>
<circle cx="610.40" cy="225.83" r="0.75" fill="#ff7f0e"/>
<circle cx="611.20" cy="224.02" r="0.76" fill="#ff7f0e"/>
<circle cx="611.63" cy="222.20" r="0.61" fill="#ff7f0e"/>
<circle cx="613.33" cy="220.11" r="0.77" fill="#ff7f0e"/>
<circle cx="613.27" cy="220.37" r="0.72" fill="#ff7f0e"/>
<circle cx="614.23" cy="218.69" r="0.75" fill="#ff7f0e"/>
<circle cx="616.82" cy="216.93" r="0.72" fill="#ff7f0e"/>
<circle cx="618.36" cy="216.69" r="0.80" fill="#ff7f0e"/>
<circle cx="619.61" cy="215.83" r="0.78" fill="#ff7f0e"/>
<circle cx="620.82" cy="214.69" r="0.72" fill="#ff7f0e"/>
<circle cx="622.85" cy="214.41" r="0.70" fill="#ff7f0e"/>
<circle cx="625.03" cy="214.53" r="0.67" fill="#ff7f0e"/>
<circle cx="627.21" cy="213.75" r="0.67" fill="#ff7f0e"/>
<circle cx="629.96" cy="212.81" r="0.78" fill="#ff7f0e"/>
<circle cx="629.84" cy="212.74" r="0.77" fill="#ff7f0e"/>
<circle cx="634.21" cy="212.47" r="0.78" fill="#ff7f0e"/>
<circle cx="634.46" cy="212.88" r="0.74" fill="#ff7f0e"/>
<circle cx="636.03" cy="213.92" r="0.58" fill="#ff7f0e"/>
<circle cx="636.15" cy="216.69" r="0.53" fill="#ff7f0e"/>
<circle cx="635.84" cy="218.00" r="0.72" fill="#ff7f0e"/>
<circle cx="635.53" cy="219.90" r="0.55" fill="#ff7f0e"/>
<circle cx="635.94" cy="221.93" r="0.68" fill="#ff7f0e"/>
<circle cx="635.31" cy="224.55" r="0.71" fill="#ff7f0e"/>
<circle cx="635.20" cy="225.80" r="0.52" fill="#ff7f0e"/>
<circle cx="634.05" cy="227.80" r="0.52" fill="#ff7f0e"/>
<circle cx="634.05" cy="229.62" r="0.64" fill="#ff7f0e"/>
<circle cx="634.15" cy="231.59" r="0.73" fill="#ff7f0e"/>
<circle cx="632.99" cy="232.63" r="0.62" fill="#ff7f0e"/>
<circle cx="632.21" cy="235.49" r="0.57" fill="#ff7f0e"/>
<circle cx="631.59" cy="236.66" r="0.65" fill="#ff7f0e"/>
<circle cx="630.60" cy="238.77" r="0.79" fill="#ff7f0e"/>
<circle cx="628.49" cy="239.14" r="0.56" fill="#ff7f0e"/>
<circle cx="625.56" cy="238.61" r="0.52" fill="#ff7f0e"/>
<circle cx="624.82" cy="238.33" r="0.61" fill="#ff7f0e"/>
<circle cx="622.96" cy="238.25" r="0.62" fill="#ff7f0e"/>
<circle cx="622.45" cy="237.64" r="0.50" fill="#ff7f0e"/>
<circle cx="619.66" cy="236.27" r="0.69" fill="#ff7f0e"/>
<circle cx="617.61" cy="235.67" r="0.59" fill="#ff7f0e"/>
<circle cx="617.07" cy="235.40" r="0.78" fill="#ff7f0e"/>
<circle cx="615.95" cy="234.92" r="0.74" fill="#ff7f0e"/>
<circle cx="614.45" cy="232.79" r="0.78" fill="#ff7f0e"/>
<circle cx="612.87" cy="231.59" r="0.53" fill="#ff7f0e"/>
<circle cx="611.82" cy="229.54" r="0.60" fill="#ff7f0e"/>
<circle cx="610.84" cy="229.04" r="0.77" fill="#ff7f0e"/>
<path d="M630.50,212.80 C630.83,212.15 631.13,212.08 632.00,212.10 C632.87,212.12 635.00,212.25 635.70,212.90 C636.40,213.55 636.20,214.62 636.20,216.00 C636.20,217.38 636.05,219.13 635.70,221.20 C635.35,223.27 634.53,226.17 634.10,228.40 C633.67,230.63 633.62,232.87 633.10,234.60 C632.58,236.33 632.03,238.02 631.00,238.80 C629.97,239.58 627.82,239.77 626.90,239.30 C625.98,238.83 625.40,237.38 625.50,236.00 C625.60,234.62 626.83,232.67 627.50,231.00 C628.17,229.33 629.05,227.83 629.50,226.00 C629.95,224.17 630.12,221.67 630.20,220.00 C630.28,218.33 629.95,217.20 630.00,216.00 C630.05,214.80 630.17,213.45 630.50,212.80Z" fill="#1f77b4" stroke="#1f77b4" stroke-width="0.8" stroke-linejoin="round"/>
<circle cx="631.06" cy="212.98" r="0.69" fill="#1f77b4"/>
<circle cx="632.71" cy="212.18" r="0.68" fill="#1f77b4"/>
<circle cx="635.06" cy="212.68" r="0.62" fill="#1f77b4"/>
<circle cx="636.29" cy="214.06" r="0.58" fill="#1f77b4"/>
<circle cx="636.47" cy="216.24" r="0.71" fill="#1f77b4"/>
<circle cx="635.72" cy="217.33" r="0.74" fill="#1f77b4"/>
<circle cx="635.57" cy="219.28" r="0.58" fill="#1f77b4"/>
<circle cx="635.63" cy="222.93" r="0.78" fill="#1f77b4"/>
<circle cx="635.50" cy="223.58" r="0.78" fill="#1f77b4"/>
<circle cx="634.42" cy="225.83" r="0.76" fill="#1f77b4"/>
<circle cx="633.94" cy="227.67" r="0.73" fill="#1f77b4"/>
<circle cx="634.38" cy="229.17" r="0.52" fill="#1f77b4"/>
<circle cx="633.25" cy="230.93" r="0.69" fill="#1f77b4"/>
<circle cx="633.06" cy="232.45" r="0.68" fill="#1f77b4"/>
<circle cx="632.86" cy="235.87" r="0.79" fill="#1f77b4"/>
<circle cx="631.48" cy="237.37" r="0.57" fill="#1f77b4"/>
<circle cx="629.50" cy="239.25" r="0.55" fill="#1f77b4"/>
<circle cx="628.23" cy="238.95" r="0.72" fill="#1f77b4"/>
<circle cx="626.89" cy="239.38" r="0.51" fill="#1f77b4"/>
<circle cx="626.18" cy="237.00" r="0.64" fill="#1f77b4"/>
<circle cx="626.19" cy="234.37" r="0.62" fill="#1f77b4"/>
<circle cx="627.15" cy="233.18" r="0.67" fill="#1f77b4"/>
<circle cx="626.60" cy="232.31" r="0.71" fill="#1f77b4"/>
<circle cx="627.81" cy="231.28" r="0.65" fill="#1f77b4"/>
<circle cx="628.47" cy="229.24" r="0.70" fill="#1f77b4"/>
<circle cx="629.44" cy="226.63" r="0.79" fill="#1f77b4"/>
<circle cx="630.15" cy="224.20" r="0.59" fill="#1f77b4"/>
<circle cx="629.59" cy="223.65" r="0.74" fill="#1f77b4"/>
<circle cx="630.47" cy="220.91" r="0.71" fill="#1f77b4"/>
<circle cx="630.43" cy="219.13" r="0.68" fill="#1f77b4"/>
<circle cx="630.44" cy="217.67" r="0.58" fill="#1f77b4"/>
<circle cx="629.81" cy="214.95" r="0.73" fill="#1f77b4"/>
<circle cx="630.55" cy="214.23" r="0.77" fill="#1f77b4"/>
<circle cx="628.60" cy="214.50" r="0.8" fill="#1f77b4"/>
<circle cx="627.80" cy="219.00" r="0.8" fill="#1f77b4"/>
<circle cx="628.60" cy="228.00" r="0.8" fill="#1f77b4"/>
<circle cx="626.50" cy="233.00" r="0.8" fill="#1f77b4"/>
<circle cx="630.46" cy="224.81" r="0.82" fill="#ff7f0e"/>
<circle cx="630.23" cy="225.14" r="0.71" fill="#ff7f0e"/>
<circle cx="630.25" cy="218.12" r="0.72" fill="#ff7f0e"/>
<circle cx="626.36" cy="233.32" r="0.61" fill="#1f77b4"/>
<circle cx="631.56" cy="215.77" r="0.74" fill="#ff7f0e"/>
<circle cx="632.32" cy="214.55" r="0.84" fill="#ff7f0e"/>
<circle cx="629.63" cy="229.85" r="0.56" fill="#ff7f0e"/>
<circle cx="630.32" cy="213.88" r="0.52" fill="#ff7f0e"/>
<circle cx="629.06" cy="218.26" r="0.51" fill="#1f77b4"/>
<circle cx="629.94" cy="225.10" r="0.79" fill="#1f77b4"/>
<circle cx="630.68" cy="226.48" r="0.67" fill="#ff7f0e"/>
<circle cx="628.88" cy="230.06" r="0.6" fill="#1f77b4"/>
<circle cx="628.90" cy="238.44" r="0.79" fill="#ff7f0e"/>
<circle cx="627.93" cy="231.20" r="0.58" fill="#1f77b4"/>
<circle cx="628.31" cy="220.73" r="0.77" fill="#1f77b4"/>
<circle cx="631.72" cy="223.51" r="0.64" fill="#ff7f0e"/>
<circle cx="628.52" cy="237.45" r="0.5" fill="#ff7f0e"/>
<circle cx="632.01" cy="218.74" r="0.66" fill="#ff7f0e"/>
<circle cx="626.39" cy="238.01" r="0.53" fill="#1f77b4"/>
<circle cx="630.52" cy="229.24" r="0.59" fill="#ff7f0e"/>
<circle cx="629.46" cy="215.68" r="0.84" fill="#1f77b4"/>
<circle cx="626.71" cy="232.45" r="0.59" fill="#1f77b4"/>
<circle cx="628.26" cy="216.03" r="0.78" fill="#1f77b4"/>
<circle cx="630.46" cy="217.94" r="0.66" fill="#ff7f0e"/>
<circle cx="631.22" cy="218.27" r="0.55" fill="#ff7f0e"/>
<circle cx="627.51" cy="229.59" r="0.65" fill="#1f77b4"/>
<circle cx="629.19" cy="218.82" r="0.84" fill="#1f77b4"/>
<circle cx="627.21" cy="233.59" r="0.81" fill="#1f77b4"/>
<circle cx="629.73" cy="218.77" r="0.8" fill="#1f77b4"/>
<circle cx="627.45" cy="229.55" r="0.85" fill="#1f77b4"/>
<circle cx="629.14" cy="218.83" r="0.77" fill="#1f77b4"/>
<circle cx="629.30" cy="221.72" r="0.53" fill="#1f77b4"/>
<circle cx="630.56" cy="215.75" r="0.59" fill="#ff7f0e"/>
<circle cx="628.93" cy="228.53" r="0.66" fill="#1f77b4"/>
<circle cx="626.91" cy="237.48" r="0.7" fill="#1f77b4"/>
<circle cx="626.24" cy="235.16" r="0.55" fill="#1f77b4"/>
<circle cx="628.74" cy="236.21" r="0.59" fill="#ff7f0e"/>
<circle cx="631.25" cy="218.25" r="0.83" fill="#ff7f0e"/>
<circle cx="632.18" cy="218.41" r="0.81" fill="#ff7f0e"/>
<circle cx="629.13" cy="228.59" r="0.54" fill="#1f77b4"/>
<circle cx="632.24" cy="214.47" r="0.58" fill="#ff7f0e"/>
<circle cx="627.70" cy="231.11" r="0.79" fill="#1f77b4"/>
<circle cx="628.62" cy="228.41" r="0.56" fill="#1f77b4"/>
<circle cx="626.76" cy="231.51" r="0.58" fill="#1f77b4"/>
<circle cx="631.33" cy="227.48" r="0.72" fill="#ff7f0e"/>
<circle cx="632.04" cy="220.51" r="0.57" fill="#ff7f0e"/>
<circle cx="629.18" cy="213.91" r="0.66" fill="#1f77b4"/>
<circle cx="628.78" cy="215.01" r="0.63" fill="#1f77b4"/>
<circle cx="628.07" cy="227.80" r="0.63" fill="#1f77b4"/>
<circle cx="629.58" cy="235.77" r="0.73" fill="#ff7f0e"/>
<circle cx="629.23" cy="230.78" r="0.55" fill="#ff7f0e"/>
<circle cx="628.08" cy="214.38" r="0.82" fill="#1f77b4"/>
<circle cx="630.83" cy="231.02" r="0.51" fill="#ff7f0e"/>
<circle cx="629.17" cy="229.40" r="0.76" fill="#1f77b4"/>
<circle cx="632.40" cy="221.47" r="0.53" fill="#ff7f0e"/>
<circle cx="630.92" cy="227.15" r="0.82" fill="#ff7f0e"/>
<circle cx="629.44" cy="231.93" r="0.78" fill="#ff7f0e"/>
<circle cx="626.64" cy="236.38" r="0.74" fill="#1f77b4"/>
<circle cx="629.03" cy="236.02" r="0.65" fill="#ff7f0e"/>
<circle cx="629.77" cy="233.26" r="0.7" fill="#ff7f0e"/>
<circle cx="628.81" cy="229.12" r="0.7" fill="#1f77b4"/>
<circle cx="627.59" cy="228.72" r="0.72" fill="#1f77b4"/>
<circle cx="628.42" cy="238.33" r="0.75" fill="#ff7f0e"/>
<circle cx="631.23" cy="223.21" r="0.7" fill="#ff7f0e"/>
<circle cx="631.69" cy="224.51" r="0.53" fill="#ff7f0e"/>
<circle cx="626.38" cy="232.26" r="0.71" fill="#1f77b4"/>
<circle cx="629.01" cy="225.52" r="0.74" fill="#1f77b4"/>
<circle cx="630.70" cy="225.93" r="0.82" fill="#ff7f0e"/>
<circle cx="628.05" cy="219.90" r="0.61" fill="#1f77b4"/>
<circle cx="627.64" cy="230.45" r="0.56" fill="#1f77b4"/>
<circle cx="617.00" cy="225.00" r="0.45" fill="#fff"/>
<circle cx="621.00" cy="226.50" r="0.45" fill="#fff"/>
<circle cx="614.50" cy="224.50" r="0.45" fill="#fff"/>
<circle cx="623.00" cy="228.00" r="0.45" fill="#fff"/>
<path d="M650.40,193.00 C651.07,192.07 653.32,191.57 655.00,191.40 C656.68,191.23 659.23,191.07 660.50,192.00 C661.77,192.93 662.35,195.17 662.60,197.00 C662.85,198.83 662.43,201.20 662.00,203.00 C661.57,204.80 660.95,207.30 660.00,207.80 C659.05,208.30 657.25,207.13 656.30,206.00 C655.35,204.87 655.18,202.50 654.30,201.00 C653.42,199.50 651.65,198.33 651.00,197.00 C650.35,195.67 649.73,193.93 650.40,193.00Z" fill="#1f77b4" stroke="#1f77b4" stroke-width="0.8" stroke-linejoin="round"/>
<circle cx="651.21" cy="193.21" r="0.53" fill="#1f77b4"/>
<circle cx="652.65" cy="191.78" r="0.53" fill="#1f77b4"/>
<circle cx="654.73" cy="191.74" r="0.58" fill="#1f77b4"/>
<circle cx="656.52" cy="191.06" r="0.65" fill="#1f77b4"/>
<circle cx="657.81" cy="191.93" r="0.58" fill="#1f77b4"/>
<circle cx="659.85" cy="192.41" r="0.80" fill="#1f77b4"/>
<circle cx="660.88" cy="193.08" r="0.73" fill="#1f77b4"/>
<circle cx="661.96" cy="194.31" r="0.79" fill="#1f77b4"/>
<circle cx="661.77" cy="196.42" r="0.54" fill="#1f77b4"/>
<circle cx="661.93" cy="198.95" r="0.66" fill="#1f77b4"/>
<circle cx="661.81" cy="200.65" r="0.61" fill="#1f77b4"/>
<circle cx="662.53" cy="200.94" r="0.64" fill="#1f77b4"/>
<circle cx="662.36" cy="203.61" r="0.51" fill="#1f77b4"/>
<circle cx="660.99" cy="205.61" r="0.72" fill="#1f77b4"/>
<circle cx="660.96" cy="206.37" r="0.54" fill="#1f77b4"/>
<circle cx="658.04" cy="206.69" r="0.65" fill="#1f77b4"/>
<circle cx="657.12" cy="207.11" r="0.64" fill="#1f77b4"/>
<circle cx="655.48" cy="205.19" r="0.57" fill="#1f77b4"/>
<circle cx="655.16" cy="203.39" r="0.73" fill="#1f77b4"/>
<circle cx="654.59" cy="202.04" r="0.63" fill="#1f77b4"/>
<circle cx="654.69" cy="201.24" r="0.70" fill="#1f77b4"/>
<circle cx="652.06" cy="198.63" r="0.75" fill="#1f77b4"/>
<circle cx="651.55" cy="196.64" r="0.71" fill="#1f77b4"/>
<circle cx="650.72" cy="195.49" r="0.54" fill="#1f77b4"/>
<circle cx="650.55" cy="193.78" r="0.61" fill="#1f77b4"/>
<path d="M646.30,204.60 C646.55,203.43 647.97,200.50 649.00,199.50 C650.03,198.50 651.50,198.10 652.50,198.60 C653.50,199.10 654.42,201.18 655.00,202.50 C655.58,203.82 656.67,205.75 656.00,206.50 C655.33,207.25 652.42,207.00 651.00,207.00 C649.58,207.00 648.28,206.90 647.50,206.50 C646.72,206.10 646.05,205.77 646.30,204.60Z" fill="#ff7f0e" stroke="#ff7f0e" stroke-width="0.8" stroke-linejoin="round"/>
<circle cx="647.11" cy="203.77" r="0.55" fill="#ff7f0e"/>
<circle cx="647.84" cy="201.95" r="0.79" fill="#ff7f0e"/>
<circle cx="648.33" cy="201.52" r="0.62" fill="#ff7f0e"/>
<circle cx="649.73" cy="198.69" r="0.56" fill="#ff7f0e"/>
<circle cx="650.71" cy="199.15" r="0.67" fill="#ff7f0e"/>
<circle cx="653.91" cy="200.28" r="0.78" fill="#ff7f0e"/>
<circle cx="654.59" cy="202.22" r="0.70" fill="#ff7f0e"/>
<circle cx="655.31" cy="202.98" r="0.79" fill="#ff7f0e"/>
<circle cx="656.19" cy="204.47" r="0.50" fill="#ff7f0e"/>
<circle cx="654.72" cy="206.60" r="0.54" fill="#ff7f0e"/>
<circle cx="653.14" cy="207.03" r="0.78" fill="#ff7f0e"/>
<circle cx="651.23" cy="207.25" r="0.50" fill="#ff7f0e"/>
<circle cx="650.83" cy="207.55" r="0.59" fill="#ff7f0e"/>
<circle cx="647.67" cy="206.51" r="0.77" fill="#ff7f0e"/>
<circle cx="647.18" cy="204.80" r="0.56" fill="#ff7f0e"/>
<circle cx="652.11" cy="205.06" r="0.73" fill="#fff"/>
<circle cx="653.16" cy="206.42" r="0.46" fill="#fff"/>
<circle cx="654.99" cy="204.37" r="0.77" fill="#1f77b4"/>
<circle cx="650.72" cy="201.35" r="0.64" fill="#fff"/>
<circle cx="646.62" cy="201.13" r="0.55" fill="#fff"/>
<circle cx="653.39" cy="200.70" r="0.73" fill="#1f77b4"/>
<circle cx="652.06" cy="200.45" r="0.45" fill="#fff"/>
<circle cx="648.39" cy="201.12" r="0.79" fill="#fff"/>
<circle cx="649.10" cy="206.71" r="0.64" fill="#fff"/>
<circle cx="648.34" cy="206.56" r="0.69" fill="#fff"/>
<circle cx="654.54" cy="201.74" r="0.58" fill="#1f77b4"/>
<circle cx="647.81" cy="199.99" r="0.56" fill="#fff"/>
<circle cx="646.53" cy="204.58" r="0.57" fill="#1f77b4"/>
<circle cx="653.87" cy="203.11" r="0.56" fill="#fff"/>
<circle cx="652.84" cy="199.93" r="0.79" fill="#1f77b4"/>
<circle cx="653.25" cy="205.84" r="0.46" fill="#fff"/>
<circle cx="649.80" cy="203.84" r="0.45" fill="#1f77b4"/>
<circle cx="648.13" cy="206.66" r="0.52" fill="#fff"/>
<circle cx="654.87" cy="206.57" r="0.57" fill="#fff"/>
<circle cx="651.22" cy="205.32" r="0.49" fill="#fff"/>
<circle cx="653.68" cy="205.95" r="0.46" fill="#fff"/>
<circle cx="647.32" cy="202.06" r="0.66" fill="#fff"/>
<circle cx="649.56" cy="206.43" r="0.64" fill="#1f77b4"/>
<circle cx="649.35" cy="200.83" r="0.48" fill="#1f77b4"/>
<circle cx="652.70" cy="206.98" r="0.51" fill="#1f77b4"/>
<circle cx="655.38" cy="203.50" r="0.59" fill="#1f77b4"/>
<circle cx="651.85" cy="205.70" r="0.61" fill="#fff"/>
<circle cx="647.00" cy="206.37" r="0.46" fill="#fff"/>
<circle cx="654.05" cy="200.48" r="0.71" fill="#fff"/>
<circle cx="652.17" cy="205.41" r="0.49" fill="#fff"/>
<path d="M580.20,236.50 C580.53,235.08 582.07,232.67 583.20,232.00 C584.33,231.33 585.98,231.67 587.00,232.50 C588.02,233.33 589.13,235.58 589.30,237.00 C589.47,238.42 587.92,239.83 588.00,241.00 C588.08,242.17 588.83,242.92 589.80,244.00 C590.77,245.08 593.18,246.00 593.80,247.50 C594.42,249.00 594.13,251.52 593.50,253.00 C592.87,254.48 591.33,256.07 590.00,256.40 C588.67,256.73 586.43,256.23 585.50,255.00 C584.57,253.77 584.32,250.83 584.40,249.00 C584.48,247.17 586.53,245.42 586.00,244.00 C585.47,242.58 582.17,241.75 581.20,240.50 C580.23,239.25 579.87,237.92 580.20,236.50Z" fill="#ff7f0e" stroke="#ff7f0e" stroke-width="0.8" stroke-linejoin="round"/>
<circle cx="580.78" cy="235.75" r="0.78" fill="#ff7f0e"/>
<circle cx="581.92" cy="234.62" r="0.60" fill="#ff7f0e"/>
<circle cx="583.05" cy="232.29" r="0.52" fill="#ff7f0e"/>
<circle cx="585.36" cy="231.74" r="0.72" fill="#ff7f0e"/>
<circle cx="585.19" cy="232.15" r="0.70" fill="#ff7f0e"/>
<circle cx="588.32" cy="234.52" r="0.69" fill="#ff7f0e"/>
<circle cx="587.86" cy="235.25" r="0.67" fill="#ff7f0e"/>
<circle cx="589.29" cy="235.74" r="0.54" fill="#ff7f0e"/>
<circle cx="588.78" cy="237.42" r="0.74" fill="#ff7f0e"/>
<circle cx="588.55" cy="239.41" r="0.67" fill="#ff7f0e"/>
<circle cx="588.42" cy="241.04" r="0.52" fill="#ff7f0e"/>
<circle cx="588.96" cy="243.44" r="0.57" fill="#ff7f0e"/>
<circle cx="590.59" cy="244.47" r="0.64" fill="#ff7f0e"/>
<circle cx="591.45" cy="245.94" r="0.57" fill="#ff7f0e"/>
<circle cx="593.76" cy="247.06" r="0.65" fill="#ff7f0e"/>
<circle cx="593.83" cy="248.81" r="0.52" fill="#ff7f0e"/>
<circle cx="593.49" cy="248.99" r="0.69" fill="#ff7f0e"/>
<circle cx="593.33" cy="251.96" r="0.78" fill="#ff7f0e"/>
<circle cx="592.80" cy="253.04" r="0.60" fill="#ff7f0e"/>
<circle cx="591.52" cy="255.08" r="0.55" fill="#ff7f0e"/>
<circle cx="590.66" cy="255.74" r="0.69" fill="#ff7f0e"/>
<circle cx="589.80" cy="255.76" r="0.65" fill="#ff7f0e"/>
<circle cx="586.52" cy="255.76" r="0.72" fill="#ff7f0e"/>
<circle cx="584.91" cy="254.18" r="0.63" fill="#ff7f0e"/>
<circle cx="584.40" cy="252.16" r="0.50" fill="#ff7f0e"/>
<circle cx="584.56" cy="250.19" r="0.53" fill="#ff7f0e"/>
<circle cx="585.36" cy="247.66" r="0.58" fill="#ff7f0e"/>
<circle cx="584.96" cy="246.10" r="0.71" fill="#ff7f0e"/>
<circle cx="585.28" cy="244.43" r="0.66" fill="#ff7f0e"/>
<circle cx="584.92" cy="242.36" r="0.65" fill="#ff7f0e"/>
<circle cx="583.25" cy="242.47" r="0.65" fill="#ff7f0e"/>
<circle cx="581.26" cy="241.24" r="0.74" fill="#ff7f0e"/>
<circle cx="580.53" cy="239.53" r="0.54" fill="#ff7f0e"/>
<circle cx="580.59" cy="237.22" r="0.79" fill="#ff7f0e"/>
<path d="M598.60,232.00 C598.77,231.42 600.02,231.83 600.50,232.50 C600.98,233.17 601.00,235.00 601.50,236.00 C602.00,237.00 603.25,237.67 603.50,238.50 C603.75,239.33 602.58,240.25 603.00,241.00 C603.42,241.75 604.92,242.08 606.00,243.00 C607.08,243.92 608.70,245.33 609.50,246.50 C610.30,247.67 611.05,248.83 610.80,250.00 C610.55,251.17 608.88,252.75 608.00,253.50 C607.12,254.25 606.17,254.92 605.50,254.50 C604.83,254.08 604.28,252.17 604.00,251.00 C603.72,249.83 604.22,248.67 603.80,247.50 C603.38,246.33 602.05,245.25 601.50,244.00 C600.95,242.75 600.83,241.33 600.50,240.00 C600.17,238.67 599.82,237.33 599.50,236.00 C599.18,234.67 598.43,232.58 598.60,232.00Z" fill="#ff7f0e" stroke="#ff7f0e" stroke-width="0.8" stroke-linejoin="round"/>
<circle cx="598.94" cy="232.38" r="0.53" fill="#ff7f0e"/>
<circle cx="600.13" cy="233.16" r="0.72" fill="#ff7f0e"/>
<circle cx="601.41" cy="234.70" r="0.71" fill="#ff7f0e"/>
<circle cx="602.35" cy="236.27" r="0.50" fill="#ff7f0e"/>
<circle cx="602.86" cy="237.80" r="0.69" fill="#ff7f0e"/>
<circle cx="603.87" cy="239.15" r="0.53" fill="#ff7f0e"/>
<circle cx="603.78" cy="240.78" r="0.51" fill="#ff7f0e"/>
<circle cx="605.48" cy="242.95" r="0.60" fill="#ff7f0e"/>
<circle cx="607.40" cy="244.50" r="0.68" fill="#ff7f0e"/>
<circle cx="608.47" cy="245.83" r="0.67" fill="#ff7f0e"/>
<circle cx="608.59" cy="245.54" r="0.60" fill="#ff7f0e"/>
<circle cx="609.76" cy="247.26" r="0.57" fill="#ff7f0e"/>
<circle cx="610.33" cy="248.74" r="0.63" fill="#ff7f0e"/>
<circle cx="609.49" cy="251.20" r="0.58" fill="#ff7f0e"/>
<circle cx="608.57" cy="253.43" r="0.66" fill="#ff7f0e"/>
<circle cx="607.89" cy="253.76" r="0.61" fill="#ff7f0e"/>
<circle cx="605.16" cy="254.24" r="0.75" fill="#ff7f0e"/>
<circle cx="604.67" cy="251.56" r="0.64" fill="#ff7f0e"/>
<circle cx="603.73" cy="250.20" r="0.73" fill="#ff7f0e"/>
<circle cx="603.48" cy="247.65" r="0.74" fill="#ff7f0e"/>
<circle cx="603.26" cy="246.52" r="0.71" fill="#ff7f0e"/>
<circle cx="601.81" cy="245.11" r="0.51" fill="#ff7f0e"/>
<circle cx="601.05" cy="242.28" r="0.79" fill="#ff7f0e"/>
<circle cx="600.27" cy="240.20" r="0.53" fill="#ff7f0e"/>
<circle cx="600.39" cy="238.39" r="0.61" fill="#ff7f0e"/>
<circle cx="599.85" cy="237.71" r="0.77" fill="#ff7f0e"/>
<circle cx="599.56" cy="234.23" r="0.63" fill="#ff7f0e"/>
<circle cx="599.48" cy="232.99" r="0.55" fill="#ff7f0e"/>
<circle cx="603.50" cy="249.00" r="0.8" fill="#1f77b4"/>
<path d="M617.30,255.20 C617.13,254.00 618.97,252.83 620.00,252.80 C621.03,252.77 622.42,254.33 623.50,255.00 C624.58,255.67 625.33,256.38 626.50,256.80 C627.67,257.22 629.65,256.63 630.50,257.50 C631.35,258.37 632.10,260.78 631.60,262.00 C631.10,263.22 628.77,264.60 627.50,264.80 C626.23,265.00 625.08,264.00 624.00,263.20 C622.92,262.40 622.12,261.33 621.00,260.00 C619.88,258.67 617.47,256.40 617.30,255.20Z" fill="#ff7f0e" stroke="#ff7f0e" stroke-width="0.8" stroke-linejoin="round"/>
<circle cx="618.19" cy="255.29" r="0.60" fill="#ff7f0e"/>
<circle cx="620.27" cy="252.89" r="0.56" fill="#ff7f0e"/>
<circle cx="621.20" cy="253.19" r="0.77" fill="#ff7f0e"/>
<circle cx="622.40" cy="254.50" r="0.58" fill="#ff7f0e"/>
<circle cx="623.40" cy="254.87" r="0.50" fill="#ff7f0e"/>
<circle cx="625.87" cy="256.03" r="0.70" fill="#ff7f0e"/>
<circle cx="627.38" cy="256.44" r="0.70" fill="#ff7f0e"/>
<circle cx="629.47" cy="257.00" r="0.76" fill="#ff7f0e"/>
<circle cx="630.68" cy="259.65" r="0.67" fill="#ff7f0e"/>
<circle cx="630.67" cy="260.26" r="0.69" fill="#ff7f0e"/>
<circle cx="630.79" cy="262.11" r="0.56" fill="#ff7f0e"/>
<circle cx="629.71" cy="263.06" r="0.77" fill="#ff7f0e"/>
<circle cx="629.29" cy="263.66" r="0.76" fill="#ff7f0e"/>
<circle cx="627.18" cy="264.46" r="0.51" fill="#ff7f0e"/>
<circle cx="624.73" cy="263.09" r="0.73" fill="#ff7f0e"/>
<circle cx="623.87" cy="261.90" r="0.61" fill="#ff7f0e"/>
<circle cx="622.31" cy="261.57" r="0.75" fill="#ff7f0e"/>
<circle cx="620.19" cy="259.48" r="0.53" fill="#ff7f0e"/>
<circle cx="619.75" cy="257.91" r="0.80" fill="#ff7f0e"/>
<circle cx="618.38" cy="256.31" r="0.50" fill="#ff7f0e"/>
<circle cx="625.00" cy="257.60" r="0.8" fill="#1f77b4"/>
<circle cx="628.50" cy="259.30" r="0.8" fill="#1f77b4"/>
<circle cx="622.50" cy="255.20" r="0.8" fill="#1f77b4"/>
<circle cx="627.00" cy="262.00" r="0.8" fill="#1f77b4"/>
<path d="M636.00,242.00 C636.33,240.90 638.25,240.28 639.50,240.20 C640.75,240.12 642.58,240.53 643.50,241.50 C644.42,242.47 645.25,244.87 645.00,246.00 C644.75,247.13 643.25,248.17 642.00,248.30 C640.75,248.43 638.50,247.85 637.50,246.80 C636.50,245.75 635.67,243.10 636.00,242.00Z" fill="#ff7f0e" stroke="#ff7f0e" stroke-width="0.8" stroke-linejoin="round"/>
<circle cx="635.67" cy="241.76" r="0.63" fill="#ff7f0e"/>
<circle cx="638.39" cy="240.89" r="0.65" fill="#ff7f0e"/>
<circle cx="641.07" cy="240.85" r="0.65" fill="#ff7f0e"/>
<circle cx="642.68" cy="240.74" r="0.76" fill="#ff7f0e"/>
<circle cx="643.57" cy="242.44" r="0.67" fill="#ff7f0e"/>
<circle cx="643.96" cy="244.94" r="0.61" fill="#ff7f0e"/>
<circle cx="645.02" cy="246.17" r="0.60" fill="#ff7f0e"/>
<circle cx="643.42" cy="247.33" r="0.63" fill="#ff7f0e"/>
<circle cx="639.68" cy="247.46" r="0.55" fill="#ff7f0e"/>
<circle cx="638.46" cy="246.99" r="0.62" fill="#ff7f0e"/>
<circle cx="637.73" cy="246.38" r="0.75" fill="#ff7f0e"/>
<circle cx="637.09" cy="244.03" r="0.57" fill="#ff7f0e"/>
<circle cx="636.24" cy="242.27" r="0.65" fill="#ff7f0e"/>
<circle cx="638.50" cy="242.50" r="1.3" fill="#1f77b4"/>
<circle cx="641.20" cy="243.60" r="1.0" fill="#1f77b4"/>
<path d="M639.78,252.90 C639.77,253.25 639.25,253.76 638.88,253.93 C638.50,254.10 637.93,254.09 637.53,253.91 C637.13,253.74 636.52,253.29 636.48,252.90 C636.45,252.51 636.92,251.75 637.32,251.57 C637.73,251.39 638.49,251.61 638.90,251.83 C639.31,252.06 639.78,252.55 639.78,252.90Z" fill="#ff7f0e" stroke="#ff7f0e" stroke-width="0.8" stroke-linejoin="round"/>
<circle cx="638.76" cy="253.70" r="0.55" fill="#ff7f0e"/>
<circle cx="637.97" cy="253.98" r="0.54" fill="#ff7f0e"/>
<circle cx="637.16" cy="252.99" r="0.59" fill="#ff7f0e"/>
<circle cx="637.11" cy="252.14" r="0.73" fill="#ff7f0e"/>
<circle cx="637.89" cy="251.65" r="0.75" fill="#ff7f0e"/>
<circle cx="639.70" cy="252.27" r="0.63" fill="#ff7f0e"/>
<path d="M648.8,257.2 L648.8,261 L651.5,263.3 L656,264.5" fill="none" stroke="#ff7f0e" stroke-width="1.7" stroke-linecap="round"/>
<circle cx="648.80" cy="257.60" r="0.9" fill="#1f77b4"/>
<circle cx="655.60" cy="264.50" r="0.8" fill="#1f77b4"/>
<path d="M646,222 L646.2,226.5 M647.4,230 L646.6,234 M649.6,236 L648.8,240" fill="none" stroke="#ff7f0e" stroke-width="1.7" stroke-linecap="round"/>
<circle cx="645.80" cy="222.60" r="0.8" fill="#1f77b4"/>
<path d="M652.6,222.4 L656,221.8 L657.6,224.4 M654,227.5 L656.8,229.8" fill="none" stroke="#ff7f0e" stroke-width="1.7" stroke-linecap="round"/>
<circle cx="657.40" cy="223.80" r="0.7" fill="#1f77b4"/>
<path d="M661.00,234.00 C661.35,232.87 662.73,232.47 663.50,232.80 C664.27,233.13 665.42,234.80 665.60,236.00 C665.78,237.20 665.30,239.40 664.60,240.00 C663.90,240.60 662.00,240.60 661.40,239.60 C660.80,238.60 660.65,235.13 661.00,234.00Z" fill="#ff7f0e" stroke="#ff7f0e" stroke-width="0.8" stroke-linejoin="round"/>
<circle cx="663.68" cy="232.96" r="0.53" fill="#ff7f0e"/>
<circle cx="663.77" cy="234.13" r="0.79" fill="#ff7f0e"/>
<circle cx="665.13" cy="235.84" r="0.55" fill="#ff7f0e"/>
<circle cx="665.20" cy="237.27" r="0.77" fill="#ff7f0e"/>
<circle cx="665.14" cy="239.03" r="0.66" fill="#ff7f0e"/>
<circle cx="662.98" cy="240.15" r="0.60" fill="#ff7f0e"/>
<circle cx="662.83" cy="239.45" r="0.52" fill="#ff7f0e"/>
<circle cx="661.01" cy="238.16" r="0.59" fill="#ff7f0e"/>
<circle cx="661.57" cy="237.54" r="0.76" fill="#ff7f0e"/>
<circle cx="660.95" cy="234.26" r="0.58" fill="#ff7f0e"/>
<circle cx="664.20" cy="234.00" r="0.9" fill="#1f77b4"/>
<circle cx="649.00" cy="245.20" r="0.8" fill="#ff7f0e"/>
<path d="M632.40,278.00 C632.95,277.03 634.70,276.87 635.50,277.20 C636.30,277.53 636.68,278.95 637.20,280.00 C637.72,281.05 638.72,282.27 638.60,283.50 C638.48,284.73 637.53,286.75 636.50,287.40 C635.47,288.05 633.12,288.13 632.40,287.40 C631.68,286.67 632.20,284.57 632.20,283.00 C632.20,281.43 631.85,278.97 632.40,278.00Z" fill="#ff7f0e" stroke="#ff7f0e" stroke-width="0.8" stroke-linejoin="round"/>
<circle cx="634.21" cy="277.91" r="0.57" fill="#ff7f0e"/>
<circle cx="634.60" cy="277.63" r="0.68" fill="#ff7f0e"/>
<circle cx="635.80" cy="278.65" r="0.64" fill="#ff7f0e"/>
<circle cx="636.97" cy="279.34" r="0.79" fill="#ff7f0e"/>
<circle cx="637.69" cy="280.89" r="0.57" fill="#ff7f0e"/>
<circle cx="638.26" cy="282.64" r="0.57" fill="#ff7f0e"/>
<circle cx="637.44" cy="285.37" r="0.65" fill="#ff7f0e"/>
<circle cx="637.83" cy="285.80" r="0.76" fill="#ff7f0e"/>
<circle cx="635.42" cy="287.22" r="0.72" fill="#ff7f0e"/>
<circle cx="632.99" cy="287.43" r="0.55" fill="#ff7f0e"/>
<circle cx="632.27" cy="285.39" r="0.74" fill="#ff7f0e"/>
<circle cx="632.55" cy="284.59" r="0.74" fill="#ff7f0e"/>
<circle cx="631.94" cy="283.01" r="0.64" fill="#ff7f0e"/>
<circle cx="632.39" cy="280.37" r="0.63" fill="#ff7f0e"/>
<circle cx="632.69" cy="279.37" r="0.75" fill="#ff7f0e"/>
<circle cx="634.60" cy="282.00" r="0.8" fill="#1f77b4"/>
<circle cx="629.00" cy="188.70" r="0.8" fill="#ff7f0e"/>
<circle cx="562.20" cy="201.70" r="0.8" fill="#ff7f0e"/>
<path d="M595.53,208.20 C595.55,208.57 595.24,209.18 594.93,209.38 C594.62,209.58 593.93,209.59 593.66,209.40 C593.39,209.20 593.33,208.61 593.32,208.20 C593.32,207.79 593.36,207.09 593.62,206.92 C593.87,206.75 594.52,206.98 594.84,207.19 C595.16,207.40 595.52,207.83 595.53,208.20Z" fill="#1f77b4" stroke="#1f77b4" stroke-width="0.8" stroke-linejoin="round"/>
<circle cx="595.36" cy="209.43" r="0.74" fill="#1f77b4"/>
<circle cx="594.58" cy="209.93" r="0.56" fill="#1f77b4"/>
<circle cx="593.52" cy="209.29" r="0.54" fill="#1f77b4"/>
<circle cx="593.83" cy="207.78" r="0.54" fill="#1f77b4"/>
<circle cx="593.93" cy="206.60" r="0.64" fill="#1f77b4"/>
<circle cx="595.14" cy="207.74" r="0.75" fill="#1f77b4"/>
<circle cx="594.80" cy="210.00" r="0.7" fill="#ff7f0e"/>
<circle cx="629.40" cy="305.40" r="1.1" fill="#1f77b4"/>
<circle cx="629.40" cy="320.00" r="1.1" fill="#e8702a"/>
<text x="645.6" y="309.8" font-size="11.3" fill="#4a8fd8" text-anchor="start" font-weight="normal" textLength="36.3" lengthAdjust="spacingAndGlyphs" >Control</text>
<text x="645.6" y="323.8" font-size="11.3" fill="#e8702a" text-anchor="start" font-weight="normal" textLength="28.2" lengthAdjust="spacingAndGlyphs" >IFN-&#946;</text>
<text x="5.3" y="345.6" font-size="16" fill="#000" text-anchor="start" font-weight="normal" letter-spacing="0.6">e)</text>
<rect x="13.3" y="358.5" width="66.3" height="93.6" fill="#fff" stroke="#333" stroke-width="1"/>
<text x="45.9" y="373.1" font-size="7.2" fill="#262626" text-anchor="middle" font-weight="normal" textLength="58.2" lengthAdjust="spacingAndGlyphs" >Fraction of cells</text>
<text x="45.4" y="380.9" font-size="7.2" fill="#262626" text-anchor="middle" font-weight="normal" textLength="45.8" lengthAdjust="spacingAndGlyphs" >in group (%)</text>
<circle cx="23.30" cy="388.60" r="1.3" fill="#7f7f7f"/>
<line x1="23.3" y1="393.6" x2="23.3" y2="396.4" stroke="#333" stroke-width="0.8" />
<circle cx="33.40" cy="388.60" r="2.4" fill="#7f7f7f"/>
<line x1="33.4" y1="393.6" x2="33.4" y2="396.4" stroke="#333" stroke-width="0.8" />
<circle cx="43.90" cy="388.60" r="3.1" fill="#7f7f7f"/>
<line x1="43.9" y1="393.6" x2="43.9" y2="396.4" stroke="#333" stroke-width="0.8" />
<circle cx="54.30" cy="388.60" r="3.7" fill="#7f7f7f"/>
<line x1="54.3" y1="393.6" x2="54.3" y2="396.4" stroke="#333" stroke-width="0.8" />
<circle cx="64.70" cy="388.60" r="4.3" fill="#7f7f7f"/>
<line x1="64.7" y1="393.6" x2="64.7" y2="396.4" stroke="#333" stroke-width="0.8" />
<text x="23.3" y="403.4" font-size="7.0" fill="#262626" text-anchor="middle" font-weight="normal" textLength="8.6" lengthAdjust="spacingAndGlyphs" >20</text>
<text x="33.4" y="403.4" font-size="7.0" fill="#262626" text-anchor="middle" font-weight="normal" textLength="8.6" lengthAdjust="spacingAndGlyphs" >40</text>
<text x="43.9" y="403.4" font-size="7.0" fill="#262626" text-anchor="middle" font-weight="normal" textLength="8.6" lengthAdjust="spacingAndGlyphs" >60</text>
<text x="54.3" y="403.4" font-size="7.0" fill="#262626" text-anchor="middle" font-weight="normal" textLength="8.6" lengthAdjust="spacingAndGlyphs" >80</text>
<text x="65.2" y="403.4" font-size="7.0" fill="#262626" text-anchor="middle" font-weight="normal" textLength="12.4" lengthAdjust="spacingAndGlyphs" >100</text>
<text x="45.9" y="420.0" font-size="7.2" fill="#262626" text-anchor="middle" font-weight="normal" textLength="62.8" lengthAdjust="spacingAndGlyphs" >Mean expression</text>
<text x="46.0" y="427.2" font-size="7.2" fill="#262626" text-anchor="middle" font-weight="normal" textLength="30.2" lengthAdjust="spacingAndGlyphs" >in group</text>
<defs><linearGradient id="winter" x1="0" x2="1" y1="0" y2="0"><stop offset="0" stop-color="#0000ff"/><stop offset="1" stop-color="#00ff80"/></linearGradient></defs>
<rect x="19.4" y="431.1" width="52.9" height="5.7" fill="url(#winter)" />
<line x1="19.6" y1="436.8" x2="19.6" y2="438.6" stroke="#333" stroke-width="0.7" />
<line x1="64.6" y1="436.8" x2="64.6" y2="438.6" stroke="#333" stroke-width="0.7" />
<text x="19.7" y="446.6" font-size="7.0" fill="#262626" text-anchor="middle" font-weight="normal" >0</text>
<text x="64.6" y="446.6" font-size="7.0" fill="#262626" text-anchor="middle" font-weight="normal" >5</text>
<rect x="171.7" y="369.5" width="214.6" height="168.8" fill="none" stroke="#666" stroke-width="1"/>
<line x1="168.4" y1="380.8" x2="171.7" y2="380.8" stroke="#333" stroke-width="0.8" />
<text x="167.6" y="382.80" font-size="10.6" fill="#1a1a1a" stroke="#1a1a1a" stroke-width="0.15" text-anchor="end">Retinal rod cell</text>
<line x1="168.4" y1="392.08" x2="171.7" y2="392.08" stroke="#333" stroke-width="0.8" />
<text x="167.6" y="394.08" font-size="10.6" fill="#1a1a1a" stroke="#1a1a1a" stroke-width="0.15" text-anchor="end">Retinal cone cell</text>
<line x1="168.4" y1="403.36" x2="171.7" y2="403.36" stroke="#333" stroke-width="0.8" />
<text x="167.6" y="405.36" font-size="10.6" fill="#1a1a1a" stroke="#1a1a1a" stroke-width="0.15" text-anchor="end">ON-bipolar cell</text>
<line x1="168.4" y1="414.64" x2="171.7" y2="414.64" stroke="#333" stroke-width="0.8" />
<text x="167.6" y="416.64" font-size="10.6" fill="#1a1a1a" stroke="#1a1a1a" stroke-width="0.15" text-anchor="end">OFF-bipolar cell</text>
<line x1="168.4" y1="425.92" x2="171.7" y2="425.92" stroke="#333" stroke-width="0.8" />
<text x="167.6" y="427.92" font-size="10.6" fill="#1a1a1a" stroke="#1a1a1a" stroke-width="0.15" text-anchor="end">Scgn-bipolar cell</text>
<line x1="168.4" y1="437.2" x2="171.7" y2="437.2" stroke="#333" stroke-width="0.8" />
<text x="167.6" y="439.20" font-size="10.6" fill="#1a1a1a" stroke="#1a1a1a" stroke-width="0.15" text-anchor="end">Rod-bipolar cell</text>
<line x1="168.4" y1="448.48" x2="171.7" y2="448.48" stroke="#333" stroke-width="0.8" />
<text x="167.6" y="450.48" font-size="10.6" fill="#1a1a1a" stroke="#1a1a1a" stroke-width="0.15" text-anchor="end">Amacrine cell</text>
<line x1="168.4" y1="459.76" x2="171.7" y2="459.76" stroke="#333" stroke-width="0.8" />
<text x="167.6" y="461.76" font-size="10.6" fill="#1a1a1a" stroke="#1a1a1a" stroke-width="0.15" text-anchor="end">Microglial cell</text>
<line x1="168.4" y1="471.04" x2="171.7" y2="471.04" stroke="#333" stroke-width="0.8" />
<text x="164.8" y="473.04" font-size="10.6" fill="#1a1a1a" stroke="#1a1a1a" stroke-width="0.15" text-anchor="end">M&#252;ller cell</text>
<line x1="168.4" y1="482.32" x2="171.7" y2="482.32" stroke="#333" stroke-width="0.8" />
<text x="167.6" y="484.32" font-size="10.6" fill="#1a1a1a" stroke="#1a1a1a" stroke-width="0.15" text-anchor="end">Reactive M&#252;ller cell</text>
<line x1="168.4" y1="493.6" x2="171.7" y2="493.6" stroke="#333" stroke-width="0.8" />
<text x="167.6" y="495.60" font-size="10.6" fill="#1a1a1a" stroke="#1a1a1a" stroke-width="0.15" text-anchor="end">Retinal pigment epithelial cell</text>
<line x1="168.4" y1="504.88" x2="171.7" y2="504.88" stroke="#333" stroke-width="0.8" />
<text x="167.6" y="506.88" font-size="10.6" fill="#1a1a1a" stroke="#1a1a1a" stroke-width="0.15" text-anchor="end">NK cell</text>
<line x1="168.4" y1="516.16" x2="171.7" y2="516.16" stroke="#333" stroke-width="0.8" />
<text x="164.8" y="518.16" font-size="10.6" fill="#1a1a1a" stroke="#1a1a1a" stroke-width="0.15" text-anchor="end">T cell</text>
<line x1="168.4" y1="527.44" x2="171.7" y2="527.44" stroke="#333" stroke-width="0.8" />
<text x="167.6" y="529.44" font-size="10.6" fill="#1a1a1a" stroke="#1a1a1a" stroke-width="0.15" text-anchor="end">B cell</text>
<line x1="180.0" y1="538.3" x2="180.0" y2="541.2" stroke="#333" stroke-width="0.8" />
<text transform="translate(183.50,543.80) rotate(-90)" font-size="9.5" fill="#1a1a1a" stroke="#1a1a1a" stroke-width="0.2" text-anchor="end">RHO</text>
<line x1="190.96" y1="538.3" x2="190.96" y2="541.2" stroke="#333" stroke-width="0.8" />
<text transform="translate(194.46,543.80) rotate(-90)" font-size="9.5" fill="#1a1a1a" stroke="#1a1a1a" stroke-width="0.2" text-anchor="end">PDE6A</text>
<line x1="201.92000000000002" y1="538.3" x2="201.92000000000002" y2="541.2" stroke="#333" stroke-width="0.8" />
<text transform="translate(205.42,543.80) rotate(-90)" font-size="9.5" fill="#1a1a1a" stroke="#1a1a1a" stroke-width="0.2" text-anchor="end">ARR3</text>
<line x1="212.88" y1="538.3" x2="212.88" y2="541.2" stroke="#333" stroke-width="0.8" />
<text transform="translate(216.38,543.80) rotate(-90)" font-size="9.5" fill="#1a1a1a" stroke="#1a1a1a" stroke-width="0.2" text-anchor="end">TRPM1</text>
<line x1="223.84" y1="538.3" x2="223.84" y2="541.2" stroke="#333" stroke-width="0.8" />
<text transform="translate(227.34,543.80) rotate(-90)" font-size="9.5" fill="#1a1a1a" stroke="#1a1a1a" stroke-width="0.2" text-anchor="end">PRKCA</text>
<line x1="234.8" y1="538.3" x2="234.8" y2="541.2" stroke="#333" stroke-width="0.8" />
<text transform="translate(238.30,543.80) rotate(-90)" font-size="9.5" fill="#1a1a1a" stroke="#1a1a1a" stroke-width="0.2" text-anchor="end">GRIK1</text>
<line x1="245.76" y1="538.3" x2="245.76" y2="541.2" stroke="#333" stroke-width="0.8" />
<text transform="translate(249.26,543.80) rotate(-90)" font-size="9.5" fill="#1a1a1a" stroke="#1a1a1a" stroke-width="0.2" text-anchor="end">SCGN</text>
<line x1="256.72" y1="538.3" x2="256.72" y2="541.2" stroke="#333" stroke-width="0.8" />
<text transform="translate(260.22,543.80) rotate(-90)" font-size="9.5" fill="#1a1a1a" stroke="#1a1a1a" stroke-width="0.2" text-anchor="end">TFAP2B</text>
<line x1="267.68" y1="538.3" x2="267.68" y2="541.2" stroke="#333" stroke-width="0.8" />
<text transform="translate(271.18,543.80) rotate(-90)" font-size="9.5" fill="#1a1a1a" stroke="#1a1a1a" stroke-width="0.2" text-anchor="end">SLC6A9</text>
<line x1="278.64" y1="538.3" x2="278.64" y2="541.2" stroke="#333" stroke-width="0.8" />
<text transform="translate(282.14,543.80) rotate(-90)" font-size="9.5" fill="#1a1a1a" stroke="#1a1a1a" stroke-width="0.2" text-anchor="end">C1QA</text>
<line x1="289.6" y1="538.3" x2="289.6" y2="541.2" stroke="#333" stroke-width="0.8" />
<text transform="translate(293.10,543.80) rotate(-90)" font-size="9.5" fill="#1a1a1a" stroke="#1a1a1a" stroke-width="0.2" text-anchor="end">RLBP1</text>
<line x1="300.56" y1="538.3" x2="300.56" y2="541.2" stroke="#333" stroke-width="0.8" />
<text transform="translate(304.06,542.60) rotate(-90)" font-size="9.5" fill="#1a1a1a" stroke="#1a1a1a" stroke-width="0.2" text-anchor="end">GLUL</text>
<line x1="311.52" y1="538.3" x2="311.52" y2="541.2" stroke="#333" stroke-width="0.8" />
<text transform="translate(315.02,543.80) rotate(-90)" font-size="9.5" fill="#1a1a1a" stroke="#1a1a1a" stroke-width="0.2" text-anchor="end">GFAP</text>
<line x1="322.48" y1="538.3" x2="322.48" y2="541.2" stroke="#333" stroke-width="0.8" />
<text transform="translate(325.98,543.80) rotate(-90)" font-size="9.5" fill="#1a1a1a" stroke="#1a1a1a" stroke-width="0.2" text-anchor="end">RPE65</text>
<line x1="333.44" y1="538.3" x2="333.44" y2="541.2" stroke="#333" stroke-width="0.8" />
<text transform="translate(336.94,543.80) rotate(-90)" font-size="9.5" fill="#1a1a1a" stroke="#1a1a1a" stroke-width="0.2" text-anchor="end">LCN2</text>
<line x1="344.4" y1="538.3" x2="344.4" y2="541.2" stroke="#333" stroke-width="0.8" />
<text transform="translate(347.90,542.60) rotate(-90)" font-size="9.5" fill="#1a1a1a" stroke="#1a1a1a" stroke-width="0.2" text-anchor="end">SLC1A3</text>
<line x1="355.36" y1="538.3" x2="355.36" y2="541.2" stroke="#333" stroke-width="0.8" />
<text transform="translate(358.86,543.80) rotate(-90)" font-size="9.5" fill="#1a1a1a" stroke="#1a1a1a" stroke-width="0.2" text-anchor="end">NKG7</text>
<line x1="366.32000000000005" y1="538.3" x2="366.32000000000005" y2="541.2" stroke="#333" stroke-width="0.8" />
<text transform="translate(369.82,543.80) rotate(-90)" font-size="9.5" fill="#1a1a1a" stroke="#1a1a1a" stroke-width="0.2" text-anchor="end">CD3E</text>
<line x1="377.28000000000003" y1="538.3" x2="377.28000000000003" y2="541.2" stroke="#333" stroke-width="0.8" />
<text transform="translate(380.78,541.40) rotate(-90)" font-size="9.5" fill="#1a1a1a" stroke="#1a1a1a" stroke-width="0.2" text-anchor="end">CD79A</text>
<circle cx="201.92" cy="380.80" r="0.55" fill="#d9d9d9"/>
<circle cx="212.88" cy="380.80" r="0.55" fill="#d9d9d9"/>
<circle cx="234.80" cy="380.80" r="0.55" fill="#d9d9d9"/>
<circle cx="245.76" cy="380.80" r="0.55" fill="#d9d9d9"/>
<circle cx="267.68" cy="380.80" r="0.55" fill="#d9d9d9"/>
<circle cx="278.64" cy="380.80" r="0.55" fill="#d9d9d9"/>
<circle cx="289.60" cy="380.80" r="0.55" fill="#d9d9d9"/>
<circle cx="300.56" cy="380.80" r="0.55" fill="#d9d9d9"/>
<circle cx="333.44" cy="380.80" r="0.55" fill="#d9d9d9"/>
<circle cx="344.40" cy="380.80" r="0.55" fill="#d9d9d9"/>
<circle cx="212.88" cy="392.08" r="0.55" fill="#d9d9d9"/>
<circle cx="223.84" cy="392.08" r="0.55" fill="#d9d9d9"/>
<circle cx="234.80" cy="392.08" r="0.55" fill="#d9d9d9"/>
<circle cx="245.76" cy="392.08" r="0.55" fill="#d9d9d9"/>
<circle cx="278.64" cy="392.08" r="0.55" fill="#d9d9d9"/>
<circle cx="289.60" cy="392.08" r="0.55" fill="#d9d9d9"/>
<circle cx="333.44" cy="392.08" r="0.55" fill="#d9d9d9"/>
<circle cx="344.40" cy="392.08" r="0.55" fill="#d9d9d9"/>
<circle cx="201.92" cy="403.36" r="0.55" fill="#d9d9d9"/>
<circle cx="223.84" cy="403.36" r="0.55" fill="#d9d9d9"/>
<circle cx="234.80" cy="403.36" r="0.55" fill="#d9d9d9"/>
<circle cx="278.64" cy="403.36" r="0.55" fill="#d9d9d9"/>
<circle cx="289.60" cy="403.36" r="0.55" fill="#d9d9d9"/>
<circle cx="333.44" cy="403.36" r="0.55" fill="#d9d9d9"/>
<circle cx="344.40" cy="403.36" r="0.55" fill="#d9d9d9"/>
<circle cx="201.92" cy="414.64" r="0.55" fill="#d9d9d9"/>
<circle cx="223.84" cy="414.64" r="0.55" fill="#d9d9d9"/>
<circle cx="278.64" cy="414.64" r="0.55" fill="#d9d9d9"/>
<circle cx="289.60" cy="414.64" r="0.55" fill="#d9d9d9"/>
<circle cx="344.40" cy="414.64" r="0.55" fill="#d9d9d9"/>
<circle cx="223.84" cy="425.92" r="0.55" fill="#d9d9d9"/>
<circle cx="234.80" cy="425.92" r="0.55" fill="#d9d9d9"/>
<circle cx="278.64" cy="425.92" r="0.55" fill="#d9d9d9"/>
<circle cx="289.60" cy="425.92" r="0.55" fill="#d9d9d9"/>
<circle cx="201.92" cy="437.20" r="0.55" fill="#d9d9d9"/>
<circle cx="234.80" cy="437.20" r="0.55" fill="#d9d9d9"/>
<circle cx="278.64" cy="437.20" r="0.55" fill="#d9d9d9"/>
<circle cx="289.60" cy="437.20" r="0.55" fill="#d9d9d9"/>
<circle cx="344.40" cy="437.20" r="0.55" fill="#d9d9d9"/>
<circle cx="355.36" cy="437.20" r="0.55" fill="#d9d9d9"/>
<circle cx="289.60" cy="448.48" r="0.55" fill="#d9d9d9"/>
<circle cx="300.56" cy="448.48" r="0.55" fill="#d9d9d9"/>
<circle cx="344.40" cy="448.48" r="0.55" fill="#d9d9d9"/>
<circle cx="201.92" cy="459.76" r="0.55" fill="#d9d9d9"/>
<circle cx="212.88" cy="459.76" r="0.55" fill="#d9d9d9"/>
<circle cx="223.84" cy="459.76" r="0.55" fill="#d9d9d9"/>
<circle cx="267.68" cy="459.76" r="0.55" fill="#d9d9d9"/>
<circle cx="289.60" cy="459.76" r="0.55" fill="#d9d9d9"/>
<circle cx="322.48" cy="459.76" r="0.55" fill="#d9d9d9"/>
<circle cx="333.44" cy="459.76" r="0.55" fill="#d9d9d9"/>
<circle cx="344.40" cy="459.76" r="0.55" fill="#d9d9d9"/>
<circle cx="256.72" cy="471.04" r="0.55" fill="#d9d9d9"/>
<circle cx="267.68" cy="471.04" r="0.55" fill="#d9d9d9"/>
<circle cx="278.64" cy="471.04" r="0.55" fill="#d9d9d9"/>
<circle cx="245.76" cy="482.32" r="0.55" fill="#d9d9d9"/>
<circle cx="256.72" cy="482.32" r="0.55" fill="#d9d9d9"/>
<circle cx="267.68" cy="482.32" r="0.55" fill="#d9d9d9"/>
<circle cx="278.64" cy="482.32" r="0.55" fill="#d9d9d9"/>
<circle cx="322.48" cy="482.32" r="0.55" fill="#d9d9d9"/>
<circle cx="201.92" cy="504.88" r="0.55" fill="#d9d9d9"/>
<circle cx="212.88" cy="504.88" r="0.55" fill="#d9d9d9"/>
<circle cx="234.80" cy="504.88" r="0.55" fill="#d9d9d9"/>
<circle cx="278.64" cy="504.88" r="0.55" fill="#d9d9d9"/>
<circle cx="289.60" cy="504.88" r="0.55" fill="#d9d9d9"/>
<circle cx="311.52" cy="504.88" r="0.55" fill="#d9d9d9"/>
<circle cx="366.32" cy="504.88" r="0.55" fill="#d9d9d9"/>
<circle cx="201.92" cy="516.16" r="0.55" fill="#d9d9d9"/>
<circle cx="212.88" cy="516.16" r="0.55" fill="#d9d9d9"/>
<circle cx="245.76" cy="516.16" r="0.55" fill="#d9d9d9"/>
<circle cx="278.64" cy="516.16" r="0.55" fill="#d9d9d9"/>
<circle cx="289.60" cy="516.16" r="0.55" fill="#d9d9d9"/>
<circle cx="212.88" cy="527.44" r="0.55" fill="#d9d9d9"/>
<circle cx="223.84" cy="527.44" r="0.55" fill="#d9d9d9"/>
<circle cx="234.80" cy="527.44" r="0.55" fill="#d9d9d9"/>
<circle cx="245.76" cy="527.44" r="0.55" fill="#d9d9d9"/>
<circle cx="311.52" cy="527.44" r="0.55" fill="#d9d9d9"/>
<circle cx="366.32" cy="527.44" r="0.55" fill="#d9d9d9"/>
<ellipse cx="180.00" cy="380.80" rx="4.10" ry="4.59" fill="#00f982"/>
<ellipse cx="190.96" cy="380.80" rx="4.00" ry="4.48" fill="#007fbf"/>
<ellipse cx="223.84" cy="380.80" rx="1.10" ry="1.23" fill="#001eef"/>
<ellipse cx="180.00" cy="392.08" rx="3.00" ry="3.36" fill="#004cd8"/>
<ellipse cx="190.96" cy="392.08" rx="1.30" ry="1.46" fill="#0019f2"/>
<ellipse cx="201.92" cy="392.08" rx="4.10" ry="4.59" fill="#009eaf"/>
<ellipse cx="300.56" cy="392.08" rx="0.90" ry="1.01" fill="#0026eb"/>
<ellipse cx="180.00" cy="403.36" rx="2.80" ry="3.14" fill="#0047db"/>
<ellipse cx="190.96" cy="403.36" rx="0.70" ry="0.78" fill="#0026eb"/>
<ellipse cx="212.88" cy="403.36" rx="4.10" ry="4.59" fill="#0099b2"/>
<ellipse cx="245.76" cy="403.36" rx="1.80" ry="2.02" fill="#0033e5"/>
<ellipse cx="300.56" cy="403.36" rx="0.80" ry="0.90" fill="#0026eb"/>
<ellipse cx="180.00" cy="414.64" rx="3.00" ry="3.36" fill="#004cd8"/>
<ellipse cx="190.96" cy="414.64" rx="0.70" ry="0.78" fill="#0026eb"/>
<ellipse cx="212.88" cy="414.64" rx="2.40" ry="2.69" fill="#0038e2"/>
<ellipse cx="234.80" cy="414.64" rx="4.10" ry="4.59" fill="#0099b2"/>
<ellipse cx="245.76" cy="414.64" rx="3.00" ry="3.36" fill="#0047db"/>
<ellipse cx="300.56" cy="414.64" rx="1.40" ry="1.57" fill="#0026eb"/>
<ellipse cx="180.00" cy="425.92" rx="3.00" ry="3.36" fill="#004cd8"/>
<ellipse cx="190.96" cy="425.92" rx="1.10" ry="1.23" fill="#001eef"/>
<ellipse cx="212.88" cy="425.92" rx="4.10" ry="4.59" fill="#007fbf"/>
<ellipse cx="245.76" cy="425.92" rx="3.00" ry="3.36" fill="#0047db"/>
<ellipse cx="300.56" cy="425.92" rx="1.40" ry="1.57" fill="#0026eb"/>
<ellipse cx="180.00" cy="437.20" rx="3.00" ry="3.36" fill="#004cd8"/>
<ellipse cx="190.96" cy="437.20" rx="0.90" ry="1.01" fill="#0026eb"/>
<ellipse cx="212.88" cy="437.20" rx="3.00" ry="3.36" fill="#0066cc"/>
<ellipse cx="223.84" cy="437.20" rx="2.80" ry="3.14" fill="#004cd8"/>
<ellipse cx="245.76" cy="437.20" rx="2.80" ry="3.14" fill="#004cd8"/>
<ellipse cx="300.56" cy="437.20" rx="1.30" ry="1.46" fill="#0026eb"/>
<ellipse cx="180.00" cy="448.48" rx="3.00" ry="3.36" fill="#004cd8"/>
<ellipse cx="190.96" cy="448.48" rx="0.80" ry="0.90" fill="#0026eb"/>
<ellipse cx="223.84" cy="448.48" rx="1.30" ry="1.46" fill="#001eef"/>
<ellipse cx="256.72" cy="448.48" rx="1.70" ry="1.90" fill="#0026eb"/>
<ellipse cx="267.68" cy="448.48" rx="2.50" ry="2.80" fill="#004cd8"/>
<ellipse cx="180.00" cy="459.76" rx="3.00" ry="3.36" fill="#004cd8"/>
<ellipse cx="190.96" cy="459.76" rx="0.70" ry="0.78" fill="#0026eb"/>
<ellipse cx="278.64" cy="459.76" rx="3.80" ry="4.26" fill="#00ada8"/>
<ellipse cx="300.56" cy="459.76" rx="1.20" ry="1.34" fill="#001eef"/>
<ellipse cx="180.00" cy="471.04" rx="3.00" ry="3.36" fill="#004cd8"/>
<ellipse cx="190.96" cy="471.04" rx="0.70" ry="0.78" fill="#0026eb"/>
<ellipse cx="289.60" cy="471.04" rx="4.10" ry="4.59" fill="#0093b5"/>
<ellipse cx="300.56" cy="471.04" rx="4.10" ry="4.59" fill="#00d196"/>
<ellipse cx="344.40" cy="471.04" rx="4.10" ry="4.59" fill="#0084bc"/>
<ellipse cx="180.00" cy="482.32" rx="3.00" ry="3.36" fill="#004cd8"/>
<ellipse cx="190.96" cy="482.32" rx="0.70" ry="0.78" fill="#0026eb"/>
<ellipse cx="289.60" cy="482.32" rx="3.40" ry="3.81" fill="#005bd1"/>
<ellipse cx="300.56" cy="482.32" rx="3.60" ry="4.03" fill="#008cb8"/>
<ellipse cx="311.52" cy="482.32" rx="1.10" ry="1.23" fill="#0019f2"/>
<ellipse cx="333.44" cy="482.32" rx="1.30" ry="1.46" fill="#001eef"/>
<ellipse cx="344.40" cy="482.32" rx="3.40" ry="3.81" fill="#0066cc"/>
<ellipse cx="180.00" cy="493.60" rx="3.20" ry="3.58" fill="#0060ce"/>
<ellipse cx="190.96" cy="493.60" rx="1.00" ry="1.12" fill="#0026eb"/>
<ellipse cx="212.88" cy="493.60" rx="2.10" ry="2.35" fill="#0033e5"/>
<ellipse cx="267.68" cy="493.60" rx="1.50" ry="1.68" fill="#0026eb"/>
<ellipse cx="289.60" cy="493.60" rx="4.20" ry="4.70" fill="#009eaf"/>
<ellipse cx="300.56" cy="493.60" rx="4.20" ry="4.70" fill="#0077c3"/>
<ellipse cx="322.48" cy="493.60" rx="4.10" ry="4.59" fill="#00a5ac"/>
<ellipse cx="180.00" cy="504.88" rx="3.00" ry="3.36" fill="#004cd8"/>
<ellipse cx="190.96" cy="504.88" rx="0.60" ry="0.67" fill="#0026eb"/>
<ellipse cx="223.84" cy="504.88" rx="1.10" ry="1.23" fill="#001eef"/>
<ellipse cx="300.56" cy="504.88" rx="1.00" ry="1.12" fill="#001eef"/>
<ellipse cx="355.36" cy="504.88" rx="4.10" ry="4.59" fill="#008cb8"/>
<ellipse cx="180.00" cy="516.16" rx="3.20" ry="3.58" fill="#004cd8"/>
<ellipse cx="190.96" cy="516.16" rx="0.60" ry="0.67" fill="#0026eb"/>
<ellipse cx="223.84" cy="516.16" rx="1.80" ry="2.02" fill="#0026eb"/>
<ellipse cx="300.56" cy="516.16" rx="0.60" ry="0.67" fill="#0026eb"/>
<ellipse cx="355.36" cy="516.16" rx="3.10" ry="3.47" fill="#004cd8"/>
<ellipse cx="366.32" cy="516.16" rx="3.10" ry="3.47" fill="#0047db"/>
<ellipse cx="180.00" cy="527.44" rx="2.60" ry="2.91" fill="#0047db"/>
<ellipse cx="201.92" cy="527.44" rx="0.70" ry="0.78" fill="#0026eb"/>
<ellipse cx="278.64" cy="527.44" rx="0.60" ry="0.67" fill="#0033e5"/>
<ellipse cx="289.60" cy="527.44" rx="0.60" ry="0.67" fill="#0033e5"/>
<ellipse cx="300.56" cy="527.44" rx="1.10" ry="1.23" fill="#001eef"/>
<ellipse cx="344.40" cy="527.44" rx="0.60" ry="0.67" fill="#0033e5"/>
<ellipse cx="377.28" cy="527.44" rx="4.10" ry="4.59" fill="#0099b2"/>
<text x="396.8" y="347.3" font-size="16" fill="#000" text-anchor="start" font-weight="normal" letter-spacing="0.6">f)</text>
<rect x="446.9" y="368.30" width="29.3" height="176.00" fill="#5e4fa2"/>
<rect x="446.9" y="427.08" width="29.3" height="117.22" fill="#4ea7b0"/>
<rect x="446.9" y="428.14" width="29.3" height="116.16" fill="#7ccaa5"/>
<rect x="446.9" y="429.20" width="29.3" height="115.10" fill="#aedea3"/>
<rect x="446.9" y="436.59" width="29.3" height="107.71" fill="#ddf19a"/>
<rect x="446.9" y="450.67" width="29.3" height="93.63" fill="#fff3ac"/>
<rect x="446.9" y="456.48" width="29.3" height="87.82" fill="#fdb163"/>
<rect x="446.9" y="464.92" width="29.3" height="79.38" fill="#f7814c"/>
<rect x="446.9" y="481.47" width="29.3" height="62.83" fill="#e55749"/>
<rect x="446.9" y="486.31" width="29.3" height="57.99" fill="#9e0142"/>
<rect x="505.9" y="368.30" width="29.3" height="176.00" fill="#5e4fa2"/>
<rect x="505.9" y="368.48" width="29.3" height="175.82" fill="#3d79b6"/>
<rect x="505.9" y="368.83" width="29.3" height="175.47" fill="#4ea7b0"/>
<rect x="505.9" y="374.28" width="29.3" height="170.02" fill="#7ccaa5"/>
<rect x="505.9" y="376.04" width="29.3" height="168.26" fill="#aedea3"/>
<rect x="505.9" y="381.50" width="29.3" height="162.80" fill="#ddf19a"/>
<rect x="505.9" y="391.18" width="29.3" height="153.12" fill="#fff3ac"/>
<rect x="505.9" y="398.40" width="29.3" height="145.90" fill="#fed884"/>
<rect x="505.9" y="414.24" width="29.3" height="130.06" fill="#fdb163"/>
<rect x="505.9" y="420.22" width="29.3" height="124.08" fill="#f7814c"/>
<rect x="505.9" y="431.31" width="29.3" height="112.99" fill="#e55749"/>
<rect x="505.9" y="446.97" width="29.3" height="97.33" fill="#c72e4c"/>
<rect x="505.9" y="459.47" width="29.3" height="84.83" fill="#9e0142"/>
<rect x="432.3" y="359.4" width="118.1" height="184.9" fill="none" stroke="#666" stroke-width="1"/>
<line x1="428.8" y1="544.3" x2="432.3" y2="544.3" stroke="#333" stroke-width="0.8" />
<text x="427.4" y="547.1999999999999" font-size="8.0" fill="#262626" text-anchor="end" font-weight="normal" stroke="#262626" stroke-width="0.15" >0.0</text>
<line x1="428.8" y1="509.09999999999997" x2="432.3" y2="509.09999999999997" stroke="#333" stroke-width="0.8" />
<text x="427.4" y="511.99999999999994" font-size="8.0" fill="#262626" text-anchor="end" font-weight="normal" stroke="#262626" stroke-width="0.15" >0.2</text>
<line x1="428.8" y1="473.9" x2="432.3" y2="473.9" stroke="#333" stroke-width="0.8" />
<text x="427.4" y="476.79999999999995" font-size="8.0" fill="#262626" text-anchor="end" font-weight="normal" stroke="#262626" stroke-width="0.15" >0.4</text>
<line x1="428.8" y1="438.69999999999993" x2="432.3" y2="438.69999999999993" stroke="#333" stroke-width="0.8" />
<text x="427.4" y="441.5999999999999" font-size="8.0" fill="#262626" text-anchor="end" font-weight="normal" stroke="#262626" stroke-width="0.15" >0.6</text>
<line x1="428.8" y1="403.49999999999994" x2="432.3" y2="403.49999999999994" stroke="#333" stroke-width="0.8" />
<text x="427.4" y="406.3999999999999" font-size="8.0" fill="#262626" text-anchor="end" font-weight="normal" stroke="#262626" stroke-width="0.15" >0.8</text>
<line x1="428.8" y1="368.29999999999995" x2="432.3" y2="368.29999999999995" stroke="#333" stroke-width="0.8" />
<text x="427.4" y="371.19999999999993" font-size="8.0" fill="#262626" text-anchor="end" font-weight="normal" stroke="#262626" stroke-width="0.15" >1.0</text>
<line x1="461.55" y1="544.3" x2="461.55" y2="547.5" stroke="#333" stroke-width="0.8" />
<line x1="520.55" y1="544.3" x2="520.55" y2="547.5" stroke="#333" stroke-width="0.8" />
<text transform="translate(464.6,555.0) rotate(-36)" font-size="9" fill="#262626" stroke="#262626" stroke-width="0.15" text-anchor="end">Control</text>
<text transform="translate(521.8,555.2) rotate(-36)" font-size="9" fill="#262626" stroke="#262626" stroke-width="0.15" text-anchor="end">IFN-&#946;</text>
<rect x="553.3" y="362.3" width="122.6" height="131.6" rx="2" fill="#d2d2d2"/>
<rect x="556.3" y="365.8" width="3.2" height="4.0" fill="#9e0142" />
<text x="562.8" y="370.8" font-size="7.85" fill="#1a1a1a" text-anchor="start" font-weight="normal" stroke="#1a1a1a" stroke-width="0.1" >Retinal rod cell</text>
<rect x="556.3" y="375.0" width="3.2" height="4.0" fill="#c72e4c" />
<text x="562.8" y="380.0" font-size="7.85" fill="#1a1a1a" text-anchor="start" font-weight="normal" stroke="#1a1a1a" stroke-width="0.1" >NK cell</text>
<rect x="556.3" y="384.2" width="3.2" height="4.0" fill="#e55749" />
<text x="563" y="389.2" font-size="7.85" fill="#1a1a1a" text-anchor="start" font-weight="normal" stroke="#1a1a1a" stroke-width="0.1" >Microglia cell</text>
<rect x="556.3" y="393.4" width="3.2" height="4.0" fill="#f7814c" />
<text x="563.5" y="398.4" font-size="7.85" fill="#1a1a1a" text-anchor="start" font-weight="normal" stroke="#1a1a1a" stroke-width="0.1" >Retinal cone cell</text>
<rect x="556.3" y="402.6" width="3.2" height="4.0" fill="#fdb163" />
<text x="562.8" y="407.6" font-size="7.85" fill="#1a1a1a" text-anchor="start" font-weight="normal" stroke="#1a1a1a" stroke-width="0.1" >ON-bipolar cell</text>
<rect x="556.3" y="411.8" width="3.2" height="4.0" fill="#fed884" />
<text x="564.6" y="416.8" font-size="7.85" fill="#1a1a1a" text-anchor="start" font-weight="normal" stroke="#1a1a1a" stroke-width="0.1" >T cell</text>
<rect x="556.3" y="421.0" width="3.2" height="4.0" fill="#fff3ac" />
<text x="564.5" y="426.0" font-size="7.85" fill="#1a1a1a" text-anchor="start" font-weight="normal" stroke="#1a1a1a" stroke-width="0.1" >Rod bipolar cell</text>
<rect x="556.3" y="430.2" width="3.2" height="4.0" fill="#f6fbb0" />
<text x="564.5" y="435.2" font-size="7.85" fill="#1a1a1a" text-anchor="start" font-weight="normal" stroke="#1a1a1a" stroke-width="0.1" >B cell</text>
<rect x="556.3" y="439.4" width="3.2" height="4.0" fill="#ddf19a" />
<text x="562.8" y="444.4" font-size="7.85" fill="#1a1a1a" text-anchor="start" font-weight="normal" stroke="#1a1a1a" stroke-width="0.1" >OFF-bipolar cell</text>
<rect x="556.3" y="448.6" width="3.2" height="4.0" fill="#aedea3" />
<text x="563.5" y="453.6" font-size="7.85" fill="#1a1a1a" text-anchor="start" font-weight="normal" stroke="#1a1a1a" stroke-width="0.1" >Scgn-bipolar cell</text>
<rect x="556.3" y="457.8" width="3.2" height="4.0" fill="#7ccaa5" />
<text x="564.5" y="462.8" font-size="7.85" fill="#1a1a1a" text-anchor="start" font-weight="normal" stroke="#1a1a1a" stroke-width="0.1" >Amacrine cell</text>
<rect x="556.3" y="467.0" width="3.2" height="4.0" fill="#4ea7b0" />
<text x="563.5" y="472.0" font-size="7.85" fill="#1a1a1a" text-anchor="start" font-weight="normal" stroke="#1a1a1a" stroke-width="0.1" >Reactive M&#252;ller cell</text>
<rect x="556.3" y="476.2" width="3.2" height="4.0" fill="#3d79b6" />
<text x="563.5" y="481.2" font-size="7.85" fill="#1a1a1a" text-anchor="start" font-weight="normal" stroke="#1a1a1a" stroke-width="0.1" >Retinal pigment epithelial cell</text>
<rect x="556.3" y="485.4" width="3.2" height="4.0" fill="#5e4fa2" />
<text x="563.5" y="490.4" font-size="7.85" fill="#1a1a1a" text-anchor="start" font-weight="normal" stroke="#1a1a1a" stroke-width="0.1" >M&#252;ller cell</text>
</svg>
</body></html>
